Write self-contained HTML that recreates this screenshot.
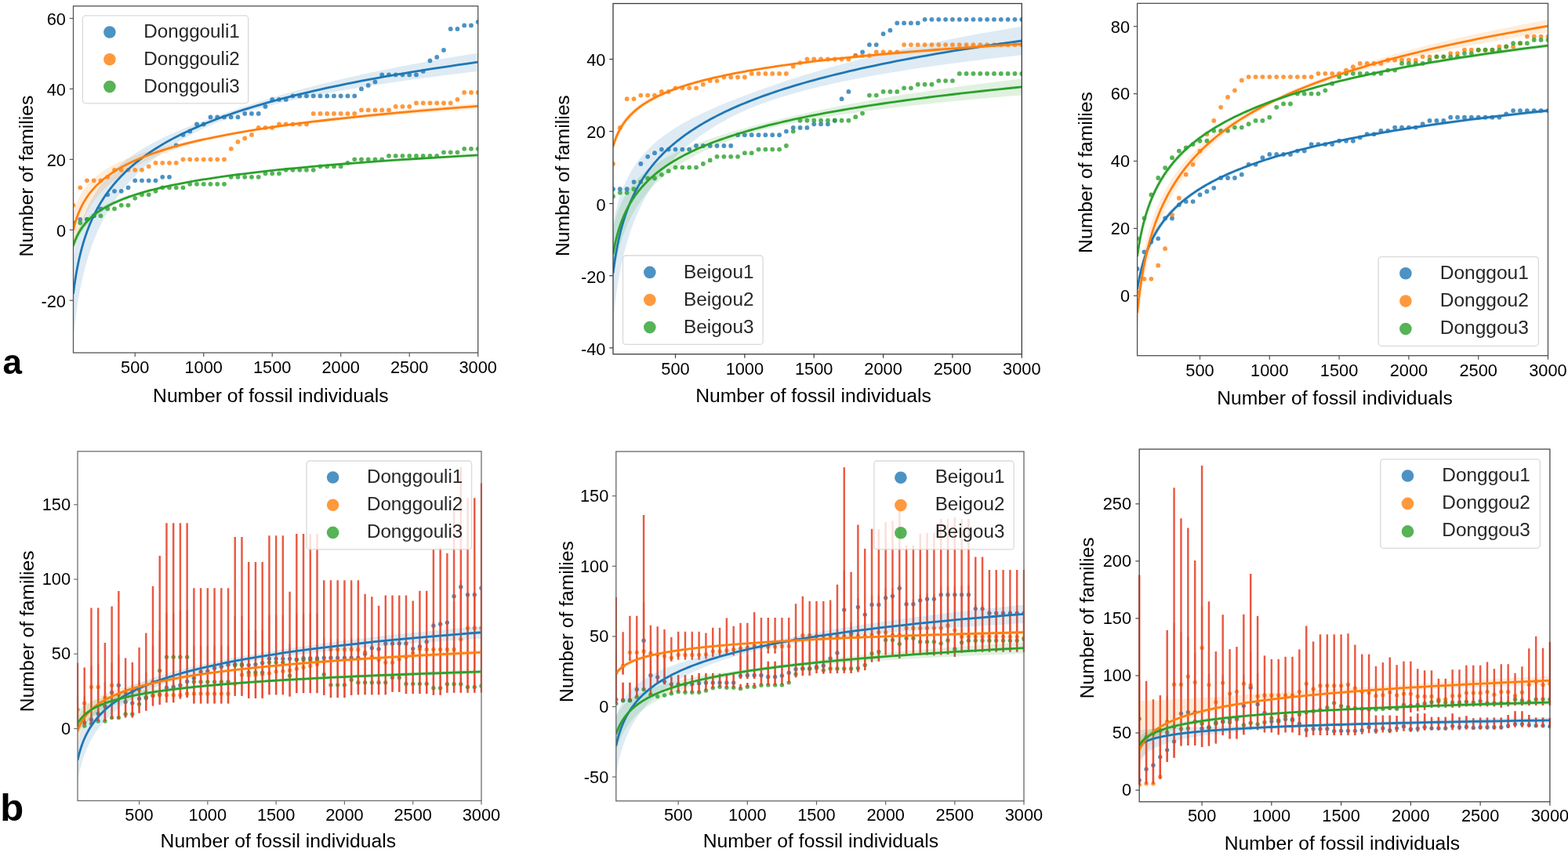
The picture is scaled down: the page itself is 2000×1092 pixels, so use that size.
<!DOCTYPE html>
<html lang="en">
<head>
<meta charset="utf-8">
<title>Number of families vs number of fossil individuals</title>
<style>html,body{margin:0;padding:0;background:#fff;}body{width:2000px;height:1092px;overflow:hidden;}svg{display:block;font-family:'Liberation Sans', Arial, Helvetica, sans-serif;}</style>
</head>
<body>

<svg width="2000" height="1092" viewBox="0 0 2000 1092">
<rect width="2000" height="1092" fill="#fff"/>
<g id="p1">
<clipPath id="clip_p1"><rect x="93.5" y="7.7" width="516.2" height="442.3"/></clipPath>
<clipPath id="clipm_p1"><rect x="93.5" y="7.7" width="516.8" height="442.3"/></clipPath>
<clipPath id="clipb_p1"><rect x="92.35" y="7.7" width="518.5" height="442.3"/></clipPath>
<g clip-path="url(#clipm_p1)">
<g fill="#1f77b4" fill-opacity="0.8"><circle cx="93.5" cy="284.31" r="2.9"/><circle cx="102.25" cy="279.81" r="2.9"/><circle cx="111" cy="279.81" r="2.9"/><circle cx="119.75" cy="275.31" r="2.9"/><circle cx="128.5" cy="266.32" r="2.9"/><circle cx="137.25" cy="248.33" r="2.9"/><circle cx="145.99" cy="243.83" r="2.9"/><circle cx="154.74" cy="243.83" r="2.9"/><circle cx="163.49" cy="239.34" r="2.9"/><circle cx="172.24" cy="230.34" r="2.9"/><circle cx="180.99" cy="230.34" r="2.9"/><circle cx="189.74" cy="230.34" r="2.9"/><circle cx="198.49" cy="230.34" r="2.9"/><circle cx="207.24" cy="225.85" r="2.9"/><circle cx="215.99" cy="225.85" r="2.9"/><circle cx="224.74" cy="185.37" r="2.9"/><circle cx="233.49" cy="171.88" r="2.9"/><circle cx="242.24" cy="167.38" r="2.9"/><circle cx="250.98" cy="158.39" r="2.9"/><circle cx="259.73" cy="158.39" r="2.9"/><circle cx="268.48" cy="149.4" r="2.9"/><circle cx="277.23" cy="149.4" r="2.9"/><circle cx="285.98" cy="149.4" r="2.9"/><circle cx="294.73" cy="149.4" r="2.9"/><circle cx="303.48" cy="149.4" r="2.9"/><circle cx="312.23" cy="144.9" r="2.9"/><circle cx="320.98" cy="144.9" r="2.9"/><circle cx="329.73" cy="144.9" r="2.9"/><circle cx="338.48" cy="135.91" r="2.9"/><circle cx="347.23" cy="126.91" r="2.9"/><circle cx="355.97" cy="126.91" r="2.9"/><circle cx="364.72" cy="126.91" r="2.9"/><circle cx="373.47" cy="122.41" r="2.9"/><circle cx="382.22" cy="122.41" r="2.9"/><circle cx="390.97" cy="122.41" r="2.9"/><circle cx="399.72" cy="122.41" r="2.9"/><circle cx="408.47" cy="122.41" r="2.9"/><circle cx="417.22" cy="122.41" r="2.9"/><circle cx="425.97" cy="122.41" r="2.9"/><circle cx="434.72" cy="122.41" r="2.9"/><circle cx="443.47" cy="122.41" r="2.9"/><circle cx="452.22" cy="122.41" r="2.9"/><circle cx="460.96" cy="113.42" r="2.9"/><circle cx="469.71" cy="108.92" r="2.9"/><circle cx="478.46" cy="104.43" r="2.9"/><circle cx="487.21" cy="95.43" r="2.9"/><circle cx="495.96" cy="95.43" r="2.9"/><circle cx="504.71" cy="95.43" r="2.9"/><circle cx="513.46" cy="95.43" r="2.9"/><circle cx="522.21" cy="95.43" r="2.9"/><circle cx="530.96" cy="95.43" r="2.9"/><circle cx="539.71" cy="90.94" r="2.9"/><circle cx="548.46" cy="77.44" r="2.9"/><circle cx="557.21" cy="72.95" r="2.9"/><circle cx="565.95" cy="63.95" r="2.9"/><circle cx="574.7" cy="36.97" r="2.9"/><circle cx="583.45" cy="36.97" r="2.9"/><circle cx="592.2" cy="32.47" r="2.9"/><circle cx="600.95" cy="32.47" r="2.9"/><circle cx="609.7" cy="27.98" r="2.9"/></g>
<path d="M93.5 329.37 L93.8 327.39 L94.12 325.42 L94.44 323.45 L94.78 321.47 L95.13 319.5 L95.49 317.53 L95.86 315.55 L96.25 313.58 L96.64 311.61 L97.06 309.63 L97.48 307.66 L97.93 305.69 L98.38 303.71 L98.86 301.74 L99.35 299.76 L99.85 297.79 L100.38 295.82 L100.92 293.84 L101.48 291.87 L102.06 289.89 L102.66 287.92 L103.28 285.95 L103.93 283.97 L104.59 282 L105.28 280.02 L105.99 278.05 L106.73 276.07 L107.49 274.1 L108.28 272.12 L109.1 270.15 L109.95 268.17 L110.82 266.2 L111.73 264.22 L112.66 262.25 L113.63 260.27 L114.63 258.3 L115.67 256.32 L116.74 254.34 L117.85 252.37 L119 250.39 L120.19 248.42 L121.42 246.44 L122.69 244.46 L124.01 242.48 L125.37 240.51 L126.78 238.53 L128.24 236.55 L129.75 234.57 L131.31 232.6 L132.93 230.62 L134.6 228.64 L136.33 226.66 L138.12 224.68 L139.98 222.7 L141.89 220.72 L143.88 218.74 L145.93 216.75 L148.05 214.77 L150.25 212.79 L152.52 210.81 L154.87 208.82 L157.31 206.84 L159.83 204.85 L162.43 202.86 L165.13 200.88 L167.92 198.89 L170.8 196.9 L173.79 194.9 L176.88 192.91 L180.08 190.91 L183.39 188.92 L186.81 186.92 L190.35 184.91 L194.02 182.91 L197.81 180.9 L201.74 178.89 L205.8 176.87 L210 174.84 L214.34 172.81 L218.84 170.78 L223.5 168.73 L228.31 166.67 L233.29 164.6 L238.45 162.51 L243.78 160.4 L249.3 158.27 L255.02 156.11 L260.93 153.91 L267.04 151.66 L273.37 149.36 L279.91 147.01 L286.69 144.59 L293.7 142.11 L300.95 139.59 L308.45 137.02 L316.22 134.42 L324.25 131.79 L332.56 129.12 L341.16 126.43 L350.06 123.71 L359.27 120.98 L368.8 118.23 L378.66 115.47 L388.86 112.69 L399.42 109.91 L410.34 107.11 L421.64 104.31 L433.33 101.51 L445.43 98.69 L457.95 95.88 L470.9 93.06 L484.3 90.23 L498.17 87.41 L512.52 84.58 L527.37 81.74 L542.73 78.91 L558.63 76.07 L575.07 73.23 L592.09 70.39 L609.7 67.55 L609.7 90.91 L592.09 93 L575.07 95.08 L558.63 97.17 L542.73 99.26 L527.37 101.35 L512.52 103.44 L498.17 105.54 L484.3 107.64 L470.9 109.74 L457.95 111.84 L445.43 113.95 L433.33 116.06 L421.64 118.18 L410.34 120.31 L399.42 122.44 L388.86 124.58 L378.66 126.73 L368.8 128.89 L359.27 131.07 L350.06 133.26 L341.16 135.47 L332.56 137.7 L324.25 139.96 L316.22 142.25 L308.45 144.57 L300.95 146.93 L293.7 149.34 L286.69 152.68 L279.91 155.2 L273.37 157.8 L267.04 160.47 L260.93 163.2 L255.02 165.99 L249.3 168.83 L243.78 171.7 L238.45 174.61 L233.29 177.54 L228.31 180.49 L223.5 183.46 L218.84 186.44 L214.34 189.44 L210 192.44 L205.8 195.45 L201.74 198.47 L197.81 201.49 L194.02 204.52 L190.35 207.56 L186.81 210.59 L183.39 213.63 L180.08 216.68 L176.88 219.73 L173.79 222.77 L170.8 225.82 L167.92 228.88 L165.13 231.93 L162.43 234.99 L159.83 238.05 L157.31 241.1 L154.87 244.16 L152.52 247.22 L150.25 250.29 L148.05 253.35 L145.93 256.41 L143.88 259.47 L141.89 262.54 L139.98 265.6 L138.12 268.67 L136.33 271.74 L134.6 274.8 L132.93 277.87 L131.31 280.94 L129.75 284 L128.24 287.07 L126.78 290.14 L125.37 293.21 L124.01 296.28 L122.69 299.35 L121.42 302.42 L120.19 305.49 L119 308.56 L117.85 311.63 L116.74 314.7 L115.67 317.77 L114.63 320.84 L113.63 323.91 L112.66 326.99 L111.73 330.06 L110.82 333.13 L109.95 336.2 L109.1 339.27 L108.28 342.35 L107.49 345.42 L106.73 348.49 L105.99 351.56 L105.28 354.64 L104.59 357.71 L103.93 360.78 L103.28 363.85 L102.66 366.93 L102.06 370 L101.48 373.07 L100.92 376.15 L100.38 379.22 L99.85 382.29 L99.35 385.37 L98.86 388.44 L98.38 391.52 L97.93 394.59 L97.48 397.66 L97.06 400.74 L96.64 403.81 L96.25 406.88 L95.86 409.96 L95.49 413.03 L95.13 416.11 L94.78 419.18 L94.44 422.26 L94.12 425.33 L93.8 428.4 L93.5 431.48Z" fill="#1f77b4" fill-opacity="0.15"/>
<g fill="#ff7f0e" fill-opacity="0.8"><circle cx="93.5" cy="261.82" r="2.9"/><circle cx="102.25" cy="239.34" r="2.9"/><circle cx="111" cy="230.34" r="2.9"/><circle cx="119.75" cy="230.34" r="2.9"/><circle cx="128.5" cy="230.34" r="2.9"/><circle cx="137.25" cy="225.85" r="2.9"/><circle cx="145.99" cy="216.85" r="2.9"/><circle cx="154.74" cy="216.85" r="2.9"/><circle cx="163.49" cy="216.85" r="2.9"/><circle cx="172.24" cy="216.85" r="2.9"/><circle cx="180.99" cy="216.85" r="2.9"/><circle cx="189.74" cy="212.35" r="2.9"/><circle cx="198.49" cy="207.86" r="2.9"/><circle cx="207.24" cy="207.86" r="2.9"/><circle cx="215.99" cy="207.86" r="2.9"/><circle cx="224.74" cy="207.86" r="2.9"/><circle cx="233.49" cy="203.36" r="2.9"/><circle cx="242.24" cy="203.36" r="2.9"/><circle cx="250.98" cy="203.36" r="2.9"/><circle cx="259.73" cy="203.36" r="2.9"/><circle cx="268.48" cy="203.36" r="2.9"/><circle cx="277.23" cy="203.36" r="2.9"/><circle cx="285.98" cy="203.36" r="2.9"/><circle cx="294.73" cy="189.87" r="2.9"/><circle cx="303.48" cy="180.88" r="2.9"/><circle cx="312.23" cy="176.38" r="2.9"/><circle cx="320.98" cy="171.88" r="2.9"/><circle cx="329.73" cy="162.89" r="2.9"/><circle cx="338.48" cy="162.89" r="2.9"/><circle cx="347.23" cy="162.89" r="2.9"/><circle cx="355.97" cy="158.39" r="2.9"/><circle cx="364.72" cy="158.39" r="2.9"/><circle cx="373.47" cy="158.39" r="2.9"/><circle cx="382.22" cy="158.39" r="2.9"/><circle cx="390.97" cy="158.39" r="2.9"/><circle cx="399.72" cy="144.9" r="2.9"/><circle cx="408.47" cy="144.9" r="2.9"/><circle cx="417.22" cy="144.9" r="2.9"/><circle cx="425.97" cy="144.9" r="2.9"/><circle cx="434.72" cy="144.9" r="2.9"/><circle cx="443.47" cy="144.9" r="2.9"/><circle cx="452.22" cy="144.9" r="2.9"/><circle cx="460.96" cy="140.4" r="2.9"/><circle cx="469.71" cy="140.4" r="2.9"/><circle cx="478.46" cy="140.4" r="2.9"/><circle cx="487.21" cy="140.4" r="2.9"/><circle cx="495.96" cy="140.4" r="2.9"/><circle cx="504.71" cy="135.91" r="2.9"/><circle cx="513.46" cy="135.91" r="2.9"/><circle cx="522.21" cy="135.91" r="2.9"/><circle cx="530.96" cy="131.41" r="2.9"/><circle cx="539.71" cy="131.41" r="2.9"/><circle cx="548.46" cy="131.41" r="2.9"/><circle cx="557.21" cy="131.41" r="2.9"/><circle cx="565.95" cy="131.41" r="2.9"/><circle cx="574.7" cy="131.41" r="2.9"/><circle cx="583.45" cy="126.91" r="2.9"/><circle cx="592.2" cy="117.92" r="2.9"/><circle cx="600.95" cy="117.92" r="2.9"/><circle cx="609.7" cy="117.92" r="2.9"/></g>
<path d="M93.5 271.12 L93.8 270.04 L94.12 268.97 L94.44 267.9 L94.78 266.82 L95.13 265.75 L95.49 264.67 L95.86 263.6 L96.25 262.52 L96.64 261.45 L97.06 260.37 L97.48 259.3 L97.93 258.22 L98.38 257.15 L98.86 256.08 L99.35 255 L99.85 253.93 L100.38 252.85 L100.92 251.78 L101.48 250.7 L102.06 249.63 L102.66 248.55 L103.28 247.48 L103.93 246.4 L104.59 245.33 L105.28 244.25 L105.99 243.18 L106.73 242.1 L107.49 241.03 L108.28 239.95 L109.1 238.88 L109.95 237.8 L110.82 236.73 L111.73 235.65 L112.66 234.58 L113.63 233.5 L114.63 232.43 L115.67 231.35 L116.74 230.28 L117.85 229.2 L119 228.13 L120.19 227.05 L121.42 225.98 L122.69 224.9 L124.01 223.82 L125.37 222.75 L126.78 221.67 L128.24 220.6 L129.75 219.52 L131.31 218.45 L132.93 217.37 L134.6 216.29 L136.33 215.22 L138.12 214.14 L139.98 213.06 L141.89 211.99 L143.88 210.91 L145.93 209.83 L148.05 208.76 L150.25 207.68 L152.52 206.6 L154.87 205.52 L157.31 204.45 L159.83 203.37 L162.43 202.29 L165.13 201.21 L167.92 200.13 L170.8 199.05 L173.79 197.97 L176.88 196.89 L180.08 195.81 L183.39 194.73 L186.81 193.65 L190.35 192.56 L194.02 191.48 L197.81 190.39 L201.74 189.31 L205.8 188.22 L210 187.13 L214.34 186.04 L218.84 184.94 L223.5 183.85 L228.31 182.75 L233.29 181.64 L238.45 180.53 L243.78 179.41 L249.3 178.28 L255.02 177.13 L260.93 175.97 L267.04 174.79 L273.37 173.57 L279.91 172.32 L286.69 171.03 L293.7 169.71 L300.95 168.37 L308.45 167.03 L316.22 165.67 L324.25 164.31 L332.56 162.94 L341.16 161.55 L350.06 160.17 L359.27 158.77 L368.8 157.37 L378.66 155.97 L388.86 154.56 L399.42 153.15 L410.34 151.74 L421.64 150.32 L433.33 148.9 L445.43 147.48 L457.95 146.06 L470.9 144.63 L484.3 143.2 L498.17 141.78 L512.52 140.35 L527.37 138.92 L542.73 137.49 L558.63 136.06 L575.07 134.62 L592.09 133.19 L609.7 131.76 L609.7 139.11 L592.09 140.32 L575.07 141.52 L558.63 142.73 L542.73 143.94 L527.37 145.15 L512.52 146.35 L498.17 147.56 L484.3 148.78 L470.9 149.99 L457.95 151.2 L445.43 152.42 L433.33 153.64 L421.64 154.86 L410.34 156.08 L399.42 157.3 L388.86 158.53 L378.66 159.76 L368.8 161 L359.27 162.24 L350.06 163.48 L341.16 164.73 L332.56 165.99 L324.25 167.26 L316.22 168.53 L308.45 169.82 L300.95 171.11 L293.7 172.41 L286.69 174.14 L279.91 175.49 L273.37 176.9 L267.04 178.36 L260.93 179.86 L255.02 181.38 L249.3 182.93 L243.78 184.49 L238.45 186.07 L233.29 187.66 L228.31 189.26 L223.5 190.86 L218.84 192.47 L214.34 194.08 L210 195.7 L205.8 197.31 L201.74 198.94 L197.81 200.56 L194.02 202.18 L190.35 203.81 L186.81 205.43 L183.39 207.06 L180.08 208.69 L176.88 210.32 L173.79 211.95 L170.8 213.58 L167.92 215.21 L165.13 216.85 L162.43 218.48 L159.83 220.11 L157.31 221.75 L154.87 223.38 L152.52 225.01 L150.25 226.65 L148.05 228.28 L145.93 229.92 L143.88 231.55 L141.89 233.19 L139.98 234.82 L138.12 236.46 L136.33 238.09 L134.6 239.73 L132.93 241.37 L131.31 243 L129.75 244.64 L128.24 246.27 L126.78 247.91 L125.37 249.55 L124.01 251.18 L122.69 252.82 L121.42 254.46 L120.19 256.09 L119 257.73 L117.85 259.37 L116.74 261 L115.67 262.64 L114.63 264.28 L113.63 265.92 L112.66 267.55 L111.73 269.19 L110.82 270.83 L109.95 272.46 L109.1 274.1 L108.28 275.74 L107.49 277.38 L106.73 279.01 L105.99 280.65 L105.28 282.29 L104.59 283.93 L103.93 285.57 L103.28 287.2 L102.66 288.84 L102.06 290.48 L101.48 292.12 L100.92 293.75 L100.38 295.39 L99.85 297.03 L99.35 298.67 L98.86 300.31 L98.38 301.94 L97.93 303.58 L97.48 305.22 L97.06 306.86 L96.64 308.5 L96.25 310.13 L95.86 311.77 L95.49 313.41 L95.13 315.05 L94.78 316.69 L94.44 318.32 L94.12 319.96 L93.8 321.6 L93.5 323.24Z" fill="#ff7f0e" fill-opacity="0.15"/>
<g fill="#2ca02c" fill-opacity="0.8"><circle cx="93.5" cy="284.31" r="2.9"/><circle cx="102.25" cy="284.31" r="2.9"/><circle cx="111" cy="279.81" r="2.9"/><circle cx="119.75" cy="275.31" r="2.9"/><circle cx="128.5" cy="275.31" r="2.9"/><circle cx="137.25" cy="266.32" r="2.9"/><circle cx="145.99" cy="266.32" r="2.9"/><circle cx="154.74" cy="261.82" r="2.9"/><circle cx="163.49" cy="261.82" r="2.9"/><circle cx="172.24" cy="252.83" r="2.9"/><circle cx="180.99" cy="248.33" r="2.9"/><circle cx="189.74" cy="248.33" r="2.9"/><circle cx="198.49" cy="243.83" r="2.9"/><circle cx="207.24" cy="239.34" r="2.9"/><circle cx="215.99" cy="239.34" r="2.9"/><circle cx="224.74" cy="239.34" r="2.9"/><circle cx="233.49" cy="239.34" r="2.9"/><circle cx="242.24" cy="234.84" r="2.9"/><circle cx="250.98" cy="234.84" r="2.9"/><circle cx="259.73" cy="234.84" r="2.9"/><circle cx="268.48" cy="234.84" r="2.9"/><circle cx="277.23" cy="234.84" r="2.9"/><circle cx="285.98" cy="234.84" r="2.9"/><circle cx="294.73" cy="225.85" r="2.9"/><circle cx="303.48" cy="225.85" r="2.9"/><circle cx="312.23" cy="225.85" r="2.9"/><circle cx="320.98" cy="225.85" r="2.9"/><circle cx="329.73" cy="225.85" r="2.9"/><circle cx="338.48" cy="221.35" r="2.9"/><circle cx="347.23" cy="221.35" r="2.9"/><circle cx="355.97" cy="221.35" r="2.9"/><circle cx="364.72" cy="216.85" r="2.9"/><circle cx="373.47" cy="216.85" r="2.9"/><circle cx="382.22" cy="216.85" r="2.9"/><circle cx="390.97" cy="216.85" r="2.9"/><circle cx="399.72" cy="216.85" r="2.9"/><circle cx="408.47" cy="212.35" r="2.9"/><circle cx="417.22" cy="212.35" r="2.9"/><circle cx="425.97" cy="212.35" r="2.9"/><circle cx="434.72" cy="212.35" r="2.9"/><circle cx="443.47" cy="207.86" r="2.9"/><circle cx="452.22" cy="203.36" r="2.9"/><circle cx="460.96" cy="203.36" r="2.9"/><circle cx="469.71" cy="203.36" r="2.9"/><circle cx="478.46" cy="203.36" r="2.9"/><circle cx="487.21" cy="203.36" r="2.9"/><circle cx="495.96" cy="198.86" r="2.9"/><circle cx="504.71" cy="198.86" r="2.9"/><circle cx="513.46" cy="198.86" r="2.9"/><circle cx="522.21" cy="198.86" r="2.9"/><circle cx="530.96" cy="198.86" r="2.9"/><circle cx="539.71" cy="198.86" r="2.9"/><circle cx="548.46" cy="198.86" r="2.9"/><circle cx="557.21" cy="198.86" r="2.9"/><circle cx="565.95" cy="194.37" r="2.9"/><circle cx="574.7" cy="194.37" r="2.9"/><circle cx="583.45" cy="194.37" r="2.9"/><circle cx="592.2" cy="189.87" r="2.9"/><circle cx="600.95" cy="189.87" r="2.9"/><circle cx="609.7" cy="189.87" r="2.9"/></g>
<path d="M93.5 306.45 L93.8 305.56 L94.12 304.67 L94.44 303.79 L94.78 302.9 L95.13 302.01 L95.49 301.12 L95.86 300.24 L96.25 299.35 L96.64 298.46 L97.06 297.57 L97.48 296.69 L97.93 295.8 L98.38 294.91 L98.86 294.03 L99.35 293.14 L99.85 292.25 L100.38 291.36 L100.92 290.48 L101.48 289.59 L102.06 288.7 L102.66 287.81 L103.28 286.93 L103.93 286.04 L104.59 285.15 L105.28 284.26 L105.99 283.38 L106.73 282.49 L107.49 281.6 L108.28 280.71 L109.1 279.83 L109.95 278.94 L110.82 278.05 L111.73 277.16 L112.66 276.28 L113.63 275.39 L114.63 274.5 L115.67 273.61 L116.74 272.72 L117.85 271.84 L119 270.95 L120.19 270.06 L121.42 269.17 L122.69 268.28 L124.01 267.4 L125.37 266.51 L126.78 265.62 L128.24 264.73 L129.75 263.84 L131.31 262.95 L132.93 262.07 L134.6 261.18 L136.33 260.29 L138.12 259.4 L139.98 258.51 L141.89 257.62 L143.88 256.73 L145.93 255.84 L148.05 254.96 L150.25 254.07 L152.52 253.18 L154.87 252.29 L157.31 251.4 L159.83 250.51 L162.43 249.62 L165.13 248.73 L167.92 247.84 L170.8 246.94 L173.79 246.05 L176.88 245.16 L180.08 244.27 L183.39 243.38 L186.81 242.48 L190.35 241.59 L194.02 240.7 L197.81 239.8 L201.74 238.91 L205.8 238.01 L210 237.11 L214.34 236.21 L218.84 235.31 L223.5 234.41 L228.31 233.5 L233.29 232.6 L238.45 231.69 L243.78 230.77 L249.3 229.86 L255.02 228.94 L260.93 228.01 L267.04 227.07 L273.37 226.13 L279.91 225.18 L286.69 224.22 L293.7 223.26 L300.95 222.29 L308.45 221.32 L316.22 220.35 L324.25 219.37 L332.56 218.39 L341.16 217.41 L350.06 216.42 L359.27 215.44 L368.8 214.45 L378.66 213.46 L388.86 212.47 L399.42 211.47 L410.34 210.48 L421.64 209.48 L433.33 208.49 L445.43 207.49 L457.95 206.49 L470.9 205.49 L484.3 204.49 L498.17 203.49 L512.52 202.49 L527.37 201.49 L542.73 200.48 L558.63 199.48 L575.07 198.48 L592.09 197.47 L609.7 196.47 L609.7 199.37 L592.09 200.29 L575.07 201.21 L558.63 202.14 L542.73 203.06 L527.37 203.99 L512.52 204.91 L498.17 205.84 L484.3 206.76 L470.9 207.69 L457.95 208.62 L445.43 209.55 L433.33 210.48 L421.64 211.41 L410.34 212.34 L399.42 213.27 L388.86 214.2 L378.66 215.14 L368.8 216.08 L359.27 217.01 L350.06 217.96 L341.16 218.9 L332.56 219.84 L324.25 220.79 L316.22 221.74 L308.45 222.7 L300.95 223.65 L293.7 224.61 L286.69 225.57 L279.91 226.54 L273.37 227.52 L267.04 228.51 L260.93 229.5 L255.02 230.5 L249.3 231.5 L243.78 232.51 L238.45 233.53 L233.29 234.54 L228.31 235.56 L223.5 236.59 L218.84 237.61 L214.34 238.64 L210 239.67 L205.8 240.7 L201.74 241.73 L197.81 242.76 L194.02 243.79 L190.35 244.82 L186.81 245.86 L183.39 246.89 L180.08 247.93 L176.88 248.96 L173.79 250 L170.8 251.03 L167.92 252.07 L165.13 253.1 L162.43 254.14 L159.83 255.18 L157.31 256.21 L154.87 257.25 L152.52 258.29 L150.25 259.33 L148.05 260.37 L145.93 261.4 L143.88 262.44 L141.89 263.48 L139.98 264.52 L138.12 265.56 L136.33 266.59 L134.6 267.63 L132.93 268.67 L131.31 269.71 L129.75 270.75 L128.24 271.79 L126.78 272.83 L125.37 273.87 L124.01 274.9 L122.69 275.94 L121.42 276.98 L120.19 278.02 L119 279.06 L117.85 280.1 L116.74 281.14 L115.67 282.18 L114.63 283.22 L113.63 284.26 L112.66 285.3 L111.73 286.34 L110.82 287.38 L109.95 288.42 L109.1 289.46 L108.28 290.49 L107.49 291.53 L106.73 292.57 L105.99 293.61 L105.28 294.65 L104.59 295.69 L103.93 296.73 L103.28 297.77 L102.66 298.81 L102.06 299.85 L101.48 300.89 L100.92 301.93 L100.38 302.97 L99.85 304.01 L99.35 305.05 L98.86 306.09 L98.38 307.13 L97.93 308.17 L97.48 309.21 L97.06 310.25 L96.64 311.29 L96.25 312.33 L95.86 313.37 L95.49 314.41 L95.13 315.45 L94.78 316.49 L94.44 317.53 L94.12 318.57 L93.8 319.61 L93.5 320.65Z" fill="#2ca02c" fill-opacity="0.15"/>
<path d="M93.5 374.75 L93.73 372.9 L93.96 371.06 L94.2 369.21 L94.44 367.36 L94.69 365.51 L94.95 363.67 L95.22 361.82 L95.49 359.97 L95.77 358.13 L96.05 356.28 L96.34 354.43 L96.64 352.59 L96.95 350.74 L97.27 348.89 L97.59 347.05 L97.93 345.2 L98.27 343.35 L98.62 341.5 L98.98 339.66 L99.35 337.81 L99.73 335.96 L100.11 334.12 L100.51 332.27 L100.92 330.42 L101.34 328.58 L101.77 326.73 L102.21 324.88 L102.66 323.03 L103.13 321.19 L103.6 319.34 L104.09 317.49 L104.59 315.65 L105.11 313.8 L105.64 311.95 L106.18 310.11 L106.73 308.26 L107.3 306.41 L107.89 304.56 L108.49 302.72 L109.1 300.87 L109.73 299.02 L110.38 297.18 L111.04 295.33 L111.73 293.48 L112.42 291.64 L113.14 289.79 L113.88 287.94 L114.63 286.09 L115.41 284.25 L116.2 282.4 L117.02 280.55 L117.85 278.71 L118.71 276.86 L119.59 275.01 L120.5 273.17 L121.42 271.32 L122.37 269.47 L123.35 267.62 L124.35 265.78 L125.37 263.93 L126.43 262.08 L127.51 260.24 L128.62 258.39 L129.75 256.54 L130.92 254.7 L132.12 252.85 L133.34 251 L134.6 249.16 L135.89 247.31 L137.22 245.46 L138.58 243.61 L139.98 241.77 L141.41 239.92 L142.88 238.07 L144.38 236.23 L145.93 234.38 L147.51 232.53 L149.14 230.69 L150.81 228.84 L152.52 226.99 L154.28 225.14 L156.08 223.3 L157.93 221.45 L159.83 219.6 L161.77 217.76 L163.77 215.91 L165.82 214.06 L167.92 212.22 L170.07 210.37 L172.28 208.52 L174.55 206.67 L176.88 204.83 L179.27 202.98 L181.72 201.13 L184.23 199.29 L186.81 197.44 L189.46 195.59 L192.17 193.75 L194.95 191.9 L197.81 190.05 L200.74 188.2 L203.75 186.36 L206.83 184.51 L210 182.66 L213.24 180.82 L216.57 178.97 L219.99 177.12 L223.5 175.28 L227.09 173.43 L230.78 171.58 L234.57 169.73 L238.45 167.89 L242.43 166.04 L246.52 164.19 L250.71 162.35 L255.02 160.5 L259.43 158.65 L263.96 156.81 L268.6 154.96 L273.37 153.11 L278.26 151.27 L283.27 149.42 L288.42 147.57 L293.7 145.72 L299.11 143.88 L304.67 142.03 L310.37 140.18 L316.22 138.34 L322.22 136.49 L328.37 134.64 L334.69 132.8 L341.16 130.95 L347.81 129.1 L354.63 127.25 L361.62 125.41 L368.8 123.56 L376.16 121.71 L383.72 119.87 L391.47 118.02 L399.42 116.17 L407.57 114.33 L415.94 112.48 L424.52 110.63 L433.33 108.78 L442.37 106.94 L451.64 105.09 L461.14 103.24 L470.9 101.4 L480.91 99.55 L491.18 97.7 L501.71 95.86 L512.52 94.01 L523.61 92.16 L534.98 90.31 L546.65 88.47 L558.63 86.62 L570.91 84.77 L583.51 82.93 L596.44 81.08 L609.7 79.23" fill="none" stroke="#1f77b4" stroke-width="2.8" stroke-linecap="butt" stroke-linejoin="round"/>
<path d="M93.5 293.78 L93.73 292.79 L93.96 291.8 L94.2 290.81 L94.44 289.82 L94.69 288.83 L94.95 287.84 L95.22 286.85 L95.49 285.86 L95.77 284.87 L96.05 283.88 L96.34 282.89 L96.64 281.9 L96.95 280.91 L97.27 279.92 L97.59 278.93 L97.93 277.94 L98.27 276.96 L98.62 275.97 L98.98 274.98 L99.35 273.99 L99.73 273 L100.11 272.01 L100.51 271.02 L100.92 270.03 L101.34 269.04 L101.77 268.05 L102.21 267.06 L102.66 266.07 L103.13 265.08 L103.6 264.09 L104.09 263.1 L104.59 262.11 L105.11 261.12 L105.64 260.13 L106.18 259.14 L106.73 258.15 L107.3 257.16 L107.89 256.17 L108.49 255.18 L109.1 254.19 L109.73 253.2 L110.38 252.21 L111.04 251.22 L111.73 250.23 L112.42 249.24 L113.14 248.26 L113.88 247.27 L114.63 246.28 L115.41 245.29 L116.2 244.3 L117.02 243.31 L117.85 242.32 L118.71 241.33 L119.59 240.34 L120.5 239.35 L121.42 238.36 L122.37 237.37 L123.35 236.38 L124.35 235.39 L125.37 234.4 L126.43 233.41 L127.51 232.42 L128.62 231.43 L129.75 230.44 L130.92 229.45 L132.12 228.46 L133.34 227.47 L134.6 226.48 L135.89 225.49 L137.22 224.5 L138.58 223.51 L139.98 222.52 L141.41 221.53 L142.88 220.54 L144.38 219.55 L145.93 218.57 L147.51 217.58 L149.14 216.59 L150.81 215.6 L152.52 214.61 L154.28 213.62 L156.08 212.63 L157.93 211.64 L159.83 210.65 L161.77 209.66 L163.77 208.67 L165.82 207.68 L167.92 206.69 L170.07 205.7 L172.28 204.71 L174.55 203.72 L176.88 202.73 L179.27 201.74 L181.72 200.75 L184.23 199.76 L186.81 198.77 L189.46 197.78 L192.17 196.79 L194.95 195.8 L197.81 194.81 L200.74 193.82 L203.75 192.83 L206.83 191.84 L210 190.85 L213.24 189.87 L216.57 188.88 L219.99 187.89 L223.5 186.9 L227.09 185.91 L230.78 184.92 L234.57 183.93 L238.45 182.94 L242.43 181.95 L246.52 180.96 L250.71 179.97 L255.02 178.98 L259.43 177.99 L263.96 177 L268.6 176.01 L273.37 175.02 L278.26 174.03 L283.27 173.04 L288.42 172.05 L293.7 171.06 L299.11 170.07 L304.67 169.08 L310.37 168.09 L316.22 167.1 L322.22 166.11 L328.37 165.12 L334.69 164.13 L341.16 163.14 L347.81 162.15 L354.63 161.17 L361.62 160.18 L368.8 159.19 L376.16 158.2 L383.72 157.21 L391.47 156.22 L399.42 155.23 L407.57 154.24 L415.94 153.25 L424.52 152.26 L433.33 151.27 L442.37 150.28 L451.64 149.29 L461.14 148.3 L470.9 147.31 L480.91 146.32 L491.18 145.33 L501.71 144.34 L512.52 143.35 L523.61 142.36 L534.98 141.37 L546.65 140.38 L558.63 139.39 L570.91 138.4 L583.51 137.41 L596.44 136.42 L609.7 135.43" fill="none" stroke="#ff7f0e" stroke-width="2.8" stroke-linecap="butt" stroke-linejoin="round"/>
<path d="M93.5 313.55 L93.73 312.83 L93.96 312.1 L94.2 311.38 L94.44 310.66 L94.69 309.93 L94.95 309.21 L95.22 308.49 L95.49 307.77 L95.77 307.04 L96.05 306.32 L96.34 305.6 L96.64 304.88 L96.95 304.15 L97.27 303.43 L97.59 302.71 L97.93 301.98 L98.27 301.26 L98.62 300.54 L98.98 299.82 L99.35 299.09 L99.73 298.37 L100.11 297.65 L100.51 296.93 L100.92 296.2 L101.34 295.48 L101.77 294.76 L102.21 294.04 L102.66 293.31 L103.13 292.59 L103.6 291.87 L104.09 291.14 L104.59 290.42 L105.11 289.7 L105.64 288.98 L106.18 288.25 L106.73 287.53 L107.3 286.81 L107.89 286.09 L108.49 285.36 L109.1 284.64 L109.73 283.92 L110.38 283.2 L111.04 282.47 L111.73 281.75 L112.42 281.03 L113.14 280.3 L113.88 279.58 L114.63 278.86 L115.41 278.14 L116.2 277.41 L117.02 276.69 L117.85 275.97 L118.71 275.25 L119.59 274.52 L120.5 273.8 L121.42 273.08 L122.37 272.35 L123.35 271.63 L124.35 270.91 L125.37 270.19 L126.43 269.46 L127.51 268.74 L128.62 268.02 L129.75 267.3 L130.92 266.57 L132.12 265.85 L133.34 265.13 L134.6 264.41 L135.89 263.68 L137.22 262.96 L138.58 262.24 L139.98 261.51 L141.41 260.79 L142.88 260.07 L144.38 259.35 L145.93 258.62 L147.51 257.9 L149.14 257.18 L150.81 256.46 L152.52 255.73 L154.28 255.01 L156.08 254.29 L157.93 253.57 L159.83 252.84 L161.77 252.12 L163.77 251.4 L165.82 250.67 L167.92 249.95 L170.07 249.23 L172.28 248.51 L174.55 247.78 L176.88 247.06 L179.27 246.34 L181.72 245.62 L184.23 244.89 L186.81 244.17 L189.46 243.45 L192.17 242.72 L194.95 242 L197.81 241.28 L200.74 240.56 L203.75 239.83 L206.83 239.11 L210 238.39 L213.24 237.67 L216.57 236.94 L219.99 236.22 L223.5 235.5 L227.09 234.78 L230.78 234.05 L234.57 233.33 L238.45 232.61 L242.43 231.88 L246.52 231.16 L250.71 230.44 L255.02 229.72 L259.43 228.99 L263.96 228.27 L268.6 227.55 L273.37 226.83 L278.26 226.1 L283.27 225.38 L288.42 224.66 L293.7 223.94 L299.11 223.21 L304.67 222.49 L310.37 221.77 L316.22 221.04 L322.22 220.32 L328.37 219.6 L334.69 218.88 L341.16 218.15 L347.81 217.43 L354.63 216.71 L361.62 215.99 L368.8 215.26 L376.16 214.54 L383.72 213.82 L391.47 213.09 L399.42 212.37 L407.57 211.65 L415.94 210.93 L424.52 210.2 L433.33 209.48 L442.37 208.76 L451.64 208.04 L461.14 207.31 L470.9 206.59 L480.91 205.87 L491.18 205.15 L501.71 204.42 L512.52 203.7 L523.61 202.98 L534.98 202.25 L546.65 201.53 L558.63 200.81 L570.91 200.09 L583.51 199.36 L596.44 198.64 L609.7 197.92" fill="none" stroke="#2ca02c" stroke-width="2.8" stroke-linecap="butt" stroke-linejoin="round"/>
</g>
<rect x="93.5" y="7.7" width="516.2" height="442.3" fill="none" stroke="#555555" stroke-width="1.3"/>
<g stroke="#555555" stroke-width="1.2"><path d="M172.24 450v5"/><path d="M259.73 450v5"/><path d="M347.23 450v5"/><path d="M434.72 450v5"/><path d="M522.21 450v5"/><path d="M609.7 450v5"/><path d="M93.5 383.24h-4.8"/><path d="M93.5 293.3h-4.8"/><path d="M93.5 203.36h-4.8"/><path d="M93.5 113.42h-4.8"/><path d="M93.5 23.48h-4.8"/></g>
<g font-size="21.8" fill="#000"><text x="172.24" y="475.7" text-anchor="middle">500</text><text x="259.73" y="475.7" text-anchor="middle">1000</text><text x="347.23" y="475.7" text-anchor="middle">1500</text><text x="434.72" y="475.7" text-anchor="middle">2000</text><text x="522.21" y="475.7" text-anchor="middle">2500</text><text x="609.7" y="475.7" text-anchor="middle">3000</text><text x="84" y="391.54" text-anchor="end">-20</text><text x="84" y="301.6" text-anchor="end">0</text><text x="84" y="211.66" text-anchor="end">20</text><text x="84" y="121.72" text-anchor="end">40</text><text x="84" y="31.78" text-anchor="end">60</text></g>
<text x="345.3" y="513.1" font-size="24.7" text-anchor="middle" fill="#000">Number of fossil individuals</text>
<text transform="translate(42.1 224.5) rotate(-90)" font-size="24.7" text-anchor="middle" fill="#000">Number of families</text>
<rect x="105.4" y="19.95" width="211.3" height="112" rx="4" ry="4" fill="#fff" fill-opacity="0.8" stroke="#d0d0d0" stroke-opacity="0.8" stroke-width="1.3"/>
<circle cx="139.9" cy="41" r="7.8" fill="#1f77b4" fill-opacity="0.8"/>
<text x="183.34" y="47.9" font-size="24.2" fill="#262626">Donggouli1</text>
<circle cx="139.9" cy="75.7" r="7.8" fill="#ff7f0e" fill-opacity="0.8"/>
<text x="183.34" y="82.8" font-size="24.2" fill="#262626">Donggouli2</text>
<circle cx="139.9" cy="110.6" r="7.8" fill="#2ca02c" fill-opacity="0.8"/>
<text x="183.34" y="117.6" font-size="24.2" fill="#262626">Donggouli3</text>
</g>
<g id="p2">
<clipPath id="clip_p2"><rect x="782" y="4.5" width="521.3" height="447.3"/></clipPath>
<clipPath id="clipm_p2"><rect x="782" y="4.5" width="521.9" height="447.3"/></clipPath>
<clipPath id="clipb_p2"><rect x="780.85" y="4.5" width="523.6" height="447.3"/></clipPath>
<g clip-path="url(#clipm_p2)">
<g fill="#1f77b4" fill-opacity="0.8"><circle cx="782" cy="241.23" r="2.9"/><circle cx="790.84" cy="241.23" r="2.9"/><circle cx="799.67" cy="241.23" r="2.9"/><circle cx="808.51" cy="232.03" r="2.9"/><circle cx="817.34" cy="209.01" r="2.9"/><circle cx="826.18" cy="199.8" r="2.9"/><circle cx="835.01" cy="195.19" r="2.9"/><circle cx="843.85" cy="190.59" r="2.9"/><circle cx="852.68" cy="190.59" r="2.9"/><circle cx="861.52" cy="190.59" r="2.9"/><circle cx="870.36" cy="190.59" r="2.9"/><circle cx="879.19" cy="190.59" r="2.9"/><circle cx="888.03" cy="185.99" r="2.9"/><circle cx="896.86" cy="185.99" r="2.9"/><circle cx="905.7" cy="185.99" r="2.9"/><circle cx="914.53" cy="185.99" r="2.9"/><circle cx="923.37" cy="185.99" r="2.9"/><circle cx="932.21" cy="185.99" r="2.9"/><circle cx="941.04" cy="172.17" r="2.9"/><circle cx="949.88" cy="172.17" r="2.9"/><circle cx="958.71" cy="172.17" r="2.9"/><circle cx="967.55" cy="172.17" r="2.9"/><circle cx="976.38" cy="172.17" r="2.9"/><circle cx="985.22" cy="172.17" r="2.9"/><circle cx="994.05" cy="172.17" r="2.9"/><circle cx="1002.89" cy="167.57" r="2.9"/><circle cx="1011.73" cy="162.97" r="2.9"/><circle cx="1020.56" cy="162.97" r="2.9"/><circle cx="1029.4" cy="162.97" r="2.9"/><circle cx="1038.23" cy="158.36" r="2.9"/><circle cx="1047.07" cy="158.36" r="2.9"/><circle cx="1055.9" cy="158.36" r="2.9"/><circle cx="1064.74" cy="153.76" r="2.9"/><circle cx="1073.57" cy="126.13" r="2.9"/><circle cx="1082.41" cy="116.93" r="2.9"/><circle cx="1091.25" cy="70.89" r="2.9"/><circle cx="1100.08" cy="66.28" r="2.9"/><circle cx="1108.92" cy="57.07" r="2.9"/><circle cx="1117.75" cy="57.07" r="2.9"/><circle cx="1126.59" cy="43.26" r="2.9"/><circle cx="1135.42" cy="38.66" r="2.9"/><circle cx="1144.26" cy="29.45" r="2.9"/><circle cx="1153.09" cy="29.45" r="2.9"/><circle cx="1161.93" cy="29.45" r="2.9"/><circle cx="1170.77" cy="29.45" r="2.9"/><circle cx="1179.6" cy="24.85" r="2.9"/><circle cx="1188.44" cy="24.85" r="2.9"/><circle cx="1197.27" cy="24.85" r="2.9"/><circle cx="1206.11" cy="24.85" r="2.9"/><circle cx="1214.94" cy="24.85" r="2.9"/><circle cx="1223.78" cy="24.85" r="2.9"/><circle cx="1232.62" cy="24.85" r="2.9"/><circle cx="1241.45" cy="24.85" r="2.9"/><circle cx="1250.29" cy="24.85" r="2.9"/><circle cx="1259.12" cy="24.85" r="2.9"/><circle cx="1267.96" cy="24.85" r="2.9"/><circle cx="1276.79" cy="24.85" r="2.9"/><circle cx="1285.63" cy="24.85" r="2.9"/><circle cx="1294.46" cy="24.85" r="2.9"/><circle cx="1303.3" cy="24.85" r="2.9"/></g>
<path d="M782 287.04 L782.31 285.22 L782.62 283.4 L782.95 281.58 L783.29 279.76 L783.64 277.95 L784.01 276.13 L784.38 274.31 L784.77 272.49 L785.18 270.67 L785.59 268.85 L786.02 267.02 L786.47 265.2 L786.93 263.38 L787.41 261.56 L787.9 259.74 L788.42 257.92 L788.95 256.1 L789.49 254.27 L790.06 252.45 L790.65 250.63 L791.25 248.8 L791.88 246.98 L792.53 245.16 L793.2 243.33 L793.9 241.51 L794.62 239.68 L795.36 237.86 L796.13 236.03 L796.93 234.2 L797.76 232.38 L798.61 230.55 L799.49 228.72 L800.41 226.89 L801.35 225.06 L802.33 223.23 L803.34 221.4 L804.39 219.57 L805.47 217.74 L806.59 215.91 L807.75 214.07 L808.96 212.24 L810.2 210.41 L811.48 208.57 L812.81 206.73 L814.19 204.9 L815.61 203.06 L817.09 201.22 L818.61 199.38 L820.19 197.53 L821.82 195.69 L823.51 193.84 L825.26 192 L827.06 190.15 L828.93 188.3 L830.87 186.44 L832.87 184.59 L834.95 182.73 L837.09 180.87 L839.31 179.01 L841.6 177.15 L843.98 175.28 L846.44 173.41 L848.98 171.54 L851.61 169.66 L854.34 167.78 L857.15 165.89 L860.07 164 L863.08 162.1 L866.21 160.2 L869.43 158.29 L872.78 156.37 L876.23 154.45 L879.81 152.52 L883.51 150.57 L887.34 148.62 L891.3 146.65 L895.41 144.67 L899.65 142.68 L904.04 140.67 L908.58 138.64 L913.28 136.59 L918.14 134.52 L923.18 132.43 L928.38 130.3 L933.77 128.15 L939.34 125.96 L945.11 123.74 L951.08 121.48 L957.25 119.17 L963.64 116.82 L970.26 114.43 L977.1 111.99 L984.17 109.5 L991.5 106.99 L999.08 104.43 L1006.92 101.85 L1015.03 99.23 L1023.43 96.58 L1032.11 93.91 L1041.1 91.2 L1050.4 88.47 L1060.02 85.72 L1069.98 82.95 L1080.28 80.15 L1090.94 77.34 L1101.97 74.51 L1113.38 71.67 L1125.19 68.81 L1137.41 65.93 L1150.05 63.05 L1163.13 60.16 L1176.66 57.25 L1190.67 54.34 L1205.16 51.42 L1220.15 48.49 L1235.67 45.56 L1251.72 42.62 L1268.33 39.67 L1285.52 36.72 L1303.3 33.76 L1303.3 70.26 L1285.52 72.24 L1268.33 74.23 L1251.72 76.23 L1235.67 78.23 L1220.15 80.23 L1205.16 82.25 L1190.67 84.27 L1176.66 86.3 L1163.13 88.34 L1150.05 90.39 L1137.41 92.44 L1125.19 94.51 L1113.38 96.6 L1101.97 98.69 L1090.94 100.81 L1080.28 102.94 L1069.98 105.08 L1060.02 107.25 L1050.4 109.44 L1041.1 111.65 L1032.11 113.89 L1023.43 116.16 L1015.03 118.45 L1006.92 120.78 L999.08 123.13 L991.5 125.52 L984.17 127.95 L977.1 130.4 L970.26 132.91 L963.64 135.45 L957.25 138.05 L951.08 140.68 L945.11 143.36 L939.34 146.08 L933.77 148.84 L928.38 151.62 L923.18 154.44 L918.14 157.29 L913.28 160.16 L908.58 163.05 L904.04 165.97 L899.65 168.9 L895.41 171.85 L891.3 174.81 L887.34 177.79 L883.51 180.77 L879.81 183.77 L876.23 186.78 L872.78 189.8 L869.43 192.82 L866.21 195.86 L863.08 198.9 L860.07 201.94 L857.15 204.99 L854.34 208.05 L851.61 211.11 L848.98 214.17 L846.44 217.24 L843.98 220.31 L841.6 223.39 L839.31 226.46 L837.09 229.54 L834.95 232.63 L832.87 235.71 L830.87 238.8 L828.93 241.89 L827.06 244.98 L825.26 248.07 L823.51 251.17 L821.82 254.26 L820.19 257.36 L818.61 260.46 L817.09 263.56 L815.61 266.66 L814.19 269.77 L812.81 272.87 L811.48 275.98 L810.2 279.08 L808.96 282.19 L807.75 285.3 L806.59 288.41 L805.47 291.52 L804.39 294.63 L803.34 297.74 L802.33 300.85 L801.35 303.96 L800.41 307.07 L799.49 310.19 L798.61 313.3 L797.76 316.42 L796.93 319.53 L796.13 322.65 L795.36 325.76 L794.62 328.88 L793.9 331.99 L793.2 335.11 L792.53 338.23 L791.88 341.35 L791.25 344.47 L790.65 347.58 L790.06 350.7 L789.49 353.82 L788.95 356.94 L788.42 360.06 L787.9 363.18 L787.41 366.3 L786.93 369.42 L786.47 372.54 L786.02 375.66 L785.59 378.79 L785.18 381.91 L784.77 385.03 L784.38 388.15 L784.01 391.27 L783.64 394.4 L783.29 397.52 L782.95 400.64 L782.62 403.76 L782.31 406.89 L782 410.01Z" fill="#1f77b4" fill-opacity="0.15"/>
<g fill="#ff7f0e" fill-opacity="0.8"><circle cx="782" cy="209.01" r="2.9"/><circle cx="790.84" cy="162.97" r="2.9"/><circle cx="799.67" cy="126.13" r="2.9"/><circle cx="808.51" cy="126.13" r="2.9"/><circle cx="817.34" cy="121.53" r="2.9"/><circle cx="826.18" cy="121.53" r="2.9"/><circle cx="835.01" cy="121.53" r="2.9"/><circle cx="843.85" cy="116.93" r="2.9"/><circle cx="852.68" cy="116.93" r="2.9"/><circle cx="861.52" cy="112.32" r="2.9"/><circle cx="870.36" cy="112.32" r="2.9"/><circle cx="879.19" cy="112.32" r="2.9"/><circle cx="888.03" cy="112.32" r="2.9"/><circle cx="896.86" cy="107.72" r="2.9"/><circle cx="905.7" cy="103.11" r="2.9"/><circle cx="914.53" cy="103.11" r="2.9"/><circle cx="923.37" cy="98.51" r="2.9"/><circle cx="932.21" cy="98.51" r="2.9"/><circle cx="941.04" cy="98.51" r="2.9"/><circle cx="949.88" cy="98.51" r="2.9"/><circle cx="958.71" cy="93.91" r="2.9"/><circle cx="967.55" cy="93.91" r="2.9"/><circle cx="976.38" cy="93.91" r="2.9"/><circle cx="985.22" cy="93.91" r="2.9"/><circle cx="994.05" cy="93.91" r="2.9"/><circle cx="1002.89" cy="93.91" r="2.9"/><circle cx="1011.73" cy="84.7" r="2.9"/><circle cx="1020.56" cy="80.09" r="2.9"/><circle cx="1029.4" cy="75.49" r="2.9"/><circle cx="1038.23" cy="75.49" r="2.9"/><circle cx="1047.07" cy="75.49" r="2.9"/><circle cx="1055.9" cy="75.49" r="2.9"/><circle cx="1064.74" cy="75.49" r="2.9"/><circle cx="1073.57" cy="75.49" r="2.9"/><circle cx="1082.41" cy="75.49" r="2.9"/><circle cx="1091.25" cy="70.89" r="2.9"/><circle cx="1100.08" cy="70.89" r="2.9"/><circle cx="1108.92" cy="70.89" r="2.9"/><circle cx="1117.75" cy="66.28" r="2.9"/><circle cx="1126.59" cy="66.28" r="2.9"/><circle cx="1135.42" cy="66.28" r="2.9"/><circle cx="1144.26" cy="66.28" r="2.9"/><circle cx="1153.09" cy="57.07" r="2.9"/><circle cx="1161.93" cy="57.07" r="2.9"/><circle cx="1170.77" cy="57.07" r="2.9"/><circle cx="1179.6" cy="57.07" r="2.9"/><circle cx="1188.44" cy="57.07" r="2.9"/><circle cx="1197.27" cy="57.07" r="2.9"/><circle cx="1206.11" cy="57.07" r="2.9"/><circle cx="1214.94" cy="57.07" r="2.9"/><circle cx="1223.78" cy="57.07" r="2.9"/><circle cx="1232.62" cy="57.07" r="2.9"/><circle cx="1241.45" cy="57.07" r="2.9"/><circle cx="1250.29" cy="57.07" r="2.9"/><circle cx="1259.12" cy="57.07" r="2.9"/><circle cx="1267.96" cy="57.07" r="2.9"/><circle cx="1276.79" cy="57.07" r="2.9"/><circle cx="1285.63" cy="57.07" r="2.9"/><circle cx="1294.46" cy="57.07" r="2.9"/><circle cx="1303.3" cy="57.07" r="2.9"/></g>
<path d="M782 180.23 L782.31 179.21 L782.62 178.19 L782.95 177.17 L783.29 176.15 L783.64 175.13 L784.01 174.11 L784.38 173.09 L784.77 172.07 L785.18 171.05 L785.59 170.03 L786.02 169 L786.47 167.98 L786.93 166.96 L787.41 165.94 L787.9 164.92 L788.42 163.9 L788.95 162.88 L789.49 161.86 L790.06 160.84 L790.65 159.82 L791.25 158.79 L791.88 157.77 L792.53 156.75 L793.2 155.73 L793.9 154.71 L794.62 153.69 L795.36 152.66 L796.13 151.64 L796.93 150.62 L797.76 149.6 L798.61 148.58 L799.49 147.55 L800.41 146.53 L801.35 145.51 L802.33 144.49 L803.34 143.46 L804.39 142.44 L805.47 141.42 L806.59 140.39 L807.75 139.37 L808.96 138.35 L810.2 137.32 L811.48 136.3 L812.81 135.28 L814.19 134.25 L815.61 133.23 L817.09 132.2 L818.61 131.18 L820.19 130.15 L821.82 129.13 L823.51 128.1 L825.26 127.08 L827.06 126.05 L828.93 125.02 L830.87 124 L832.87 122.97 L834.95 121.94 L837.09 120.91 L839.31 119.89 L841.6 118.86 L843.98 117.83 L846.44 116.8 L848.98 115.77 L851.61 114.74 L854.34 113.7 L857.15 112.67 L860.07 111.64 L863.08 110.6 L866.21 109.57 L869.43 108.53 L872.78 107.5 L876.23 106.46 L879.81 105.42 L883.51 104.38 L887.34 103.34 L891.3 102.29 L895.41 101.25 L899.65 100.2 L904.04 99.15 L908.58 98.1 L913.28 97.05 L918.14 95.99 L923.18 94.93 L928.38 93.87 L933.77 92.81 L939.34 91.74 L945.11 90.67 L951.08 89.6 L957.25 88.52 L963.64 87.44 L970.26 86.36 L977.1 85.27 L984.17 84.18 L991.5 83.08 L999.08 81.97 L1006.92 80.85 L1015.03 79.72 L1023.43 78.59 L1032.11 77.45 L1041.1 76.3 L1050.4 75.15 L1060.02 74 L1069.98 72.84 L1080.28 71.68 L1090.94 70.51 L1101.97 69.34 L1113.38 68.17 L1125.19 66.99 L1137.41 65.82 L1150.05 64.64 L1163.13 63.46 L1176.66 62.28 L1190.67 61.09 L1205.16 59.91 L1220.15 58.72 L1235.67 57.54 L1251.72 56.35 L1268.33 55.16 L1285.52 53.97 L1303.3 52.78 L1303.3 59.5 L1285.52 60.49 L1268.33 61.48 L1251.72 62.47 L1235.67 63.47 L1220.15 64.46 L1205.16 65.45 L1190.67 66.45 L1176.66 67.44 L1163.13 68.44 L1150.05 69.44 L1137.41 70.44 L1125.19 71.44 L1113.38 72.45 L1101.97 73.45 L1090.94 74.46 L1080.28 75.48 L1069.98 76.49 L1060.02 77.51 L1050.4 78.53 L1041.1 79.56 L1032.11 80.6 L1023.43 81.64 L1015.03 82.68 L1006.92 83.74 L999.08 84.8 L991.5 85.87 L984.17 86.95 L977.1 88.03 L970.26 89.12 L963.64 90.22 L957.25 91.32 L951.08 92.42 L945.11 93.53 L939.34 94.64 L933.77 95.75 L928.38 96.86 L923.18 97.98 L918.14 99.1 L913.28 100.23 L908.58 101.35 L904.04 102.48 L899.65 103.61 L895.41 104.74 L891.3 105.87 L887.34 107.01 L883.51 108.15 L879.81 109.29 L876.23 110.43 L872.78 111.57 L869.43 112.71 L866.21 113.85 L863.08 115 L860.07 116.14 L857.15 117.29 L854.34 118.43 L851.61 119.58 L848.98 120.73 L846.44 121.88 L843.98 123.03 L841.6 124.18 L839.31 125.33 L837.09 126.48 L834.95 127.63 L832.87 128.78 L830.87 129.93 L828.93 131.08 L827.06 132.24 L825.26 133.39 L823.51 134.54 L821.82 135.7 L820.19 136.85 L818.61 138 L817.09 139.16 L815.61 140.31 L814.19 141.47 L812.81 142.62 L811.48 143.78 L810.2 144.93 L808.96 146.09 L807.75 147.24 L806.59 148.4 L805.47 149.56 L804.39 150.71 L803.34 151.87 L802.33 153.02 L801.35 154.18 L800.41 155.34 L799.49 156.49 L798.61 157.65 L797.76 158.81 L796.93 159.96 L796.13 161.12 L795.36 162.28 L794.62 163.44 L793.9 164.59 L793.2 165.75 L792.53 166.91 L791.88 168.07 L791.25 169.22 L790.65 170.38 L790.06 171.54 L789.49 172.7 L788.95 173.86 L788.42 175.01 L787.9 176.17 L787.41 177.33 L786.93 178.49 L786.47 179.65 L786.02 180.8 L785.59 181.96 L785.18 183.12 L784.77 184.28 L784.38 185.44 L784.01 186.6 L783.64 187.75 L783.29 188.91 L782.95 190.07 L782.62 191.23 L782.31 192.39 L782 193.55Z" fill="#ff7f0e" fill-opacity="0.15"/>
<g fill="#2ca02c" fill-opacity="0.8"><circle cx="782" cy="250.44" r="2.9"/><circle cx="790.84" cy="245.84" r="2.9"/><circle cx="799.67" cy="245.84" r="2.9"/><circle cx="808.51" cy="241.23" r="2.9"/><circle cx="817.34" cy="232.03" r="2.9"/><circle cx="826.18" cy="227.42" r="2.9"/><circle cx="835.01" cy="227.42" r="2.9"/><circle cx="843.85" cy="222.82" r="2.9"/><circle cx="852.68" cy="218.21" r="2.9"/><circle cx="861.52" cy="213.61" r="2.9"/><circle cx="870.36" cy="213.61" r="2.9"/><circle cx="879.19" cy="213.61" r="2.9"/><circle cx="888.03" cy="213.61" r="2.9"/><circle cx="896.86" cy="209.01" r="2.9"/><circle cx="905.7" cy="204.4" r="2.9"/><circle cx="914.53" cy="199.8" r="2.9"/><circle cx="923.37" cy="199.8" r="2.9"/><circle cx="932.21" cy="199.8" r="2.9"/><circle cx="941.04" cy="199.8" r="2.9"/><circle cx="949.88" cy="195.19" r="2.9"/><circle cx="958.71" cy="195.19" r="2.9"/><circle cx="967.55" cy="190.59" r="2.9"/><circle cx="976.38" cy="190.59" r="2.9"/><circle cx="985.22" cy="190.59" r="2.9"/><circle cx="994.05" cy="190.59" r="2.9"/><circle cx="1002.89" cy="185.99" r="2.9"/><circle cx="1011.73" cy="167.57" r="2.9"/><circle cx="1020.56" cy="153.76" r="2.9"/><circle cx="1029.4" cy="153.76" r="2.9"/><circle cx="1038.23" cy="153.76" r="2.9"/><circle cx="1047.07" cy="153.76" r="2.9"/><circle cx="1055.9" cy="153.76" r="2.9"/><circle cx="1064.74" cy="153.76" r="2.9"/><circle cx="1073.57" cy="153.76" r="2.9"/><circle cx="1082.41" cy="153.76" r="2.9"/><circle cx="1091.25" cy="149.15" r="2.9"/><circle cx="1100.08" cy="144.55" r="2.9"/><circle cx="1108.92" cy="121.53" r="2.9"/><circle cx="1117.75" cy="121.53" r="2.9"/><circle cx="1126.59" cy="116.93" r="2.9"/><circle cx="1135.42" cy="116.93" r="2.9"/><circle cx="1144.26" cy="116.93" r="2.9"/><circle cx="1153.09" cy="112.32" r="2.9"/><circle cx="1161.93" cy="112.32" r="2.9"/><circle cx="1170.77" cy="107.72" r="2.9"/><circle cx="1179.6" cy="107.72" r="2.9"/><circle cx="1188.44" cy="107.72" r="2.9"/><circle cx="1197.27" cy="103.11" r="2.9"/><circle cx="1206.11" cy="103.11" r="2.9"/><circle cx="1214.94" cy="103.11" r="2.9"/><circle cx="1223.78" cy="93.91" r="2.9"/><circle cx="1232.62" cy="93.91" r="2.9"/><circle cx="1241.45" cy="93.91" r="2.9"/><circle cx="1250.29" cy="93.91" r="2.9"/><circle cx="1259.12" cy="93.91" r="2.9"/><circle cx="1267.96" cy="93.91" r="2.9"/><circle cx="1276.79" cy="93.91" r="2.9"/><circle cx="1285.63" cy="93.91" r="2.9"/><circle cx="1294.46" cy="93.91" r="2.9"/><circle cx="1303.3" cy="93.91" r="2.9"/></g>
<path d="M782 292.02 L782.31 290.58 L782.62 289.15 L782.95 287.72 L783.29 286.28 L783.64 284.85 L784.01 283.41 L784.38 281.98 L784.77 280.54 L785.18 279.11 L785.59 277.67 L786.02 276.24 L786.47 274.81 L786.93 273.37 L787.41 271.94 L787.9 270.5 L788.42 269.07 L788.95 267.63 L789.49 266.19 L790.06 264.76 L790.65 263.32 L791.25 261.89 L791.88 260.45 L792.53 259.02 L793.2 257.58 L793.9 256.14 L794.62 254.71 L795.36 253.27 L796.13 251.83 L796.93 250.4 L797.76 248.96 L798.61 247.52 L799.49 246.08 L800.41 244.65 L801.35 243.21 L802.33 241.77 L803.34 240.33 L804.39 238.89 L805.47 237.45 L806.59 236.01 L807.75 234.57 L808.96 233.13 L810.2 231.69 L811.48 230.25 L812.81 228.81 L814.19 227.37 L815.61 225.93 L817.09 224.49 L818.61 223.04 L820.19 221.6 L821.82 220.16 L823.51 218.71 L825.26 217.27 L827.06 215.82 L828.93 214.37 L830.87 212.93 L832.87 211.48 L834.95 210.03 L837.09 208.58 L839.31 207.13 L841.6 205.68 L843.98 204.22 L846.44 202.77 L848.98 201.31 L851.61 199.85 L854.34 198.39 L857.15 196.93 L860.07 195.47 L863.08 194 L866.21 192.53 L869.43 191.06 L872.78 189.59 L876.23 188.11 L879.81 186.63 L883.51 185.14 L887.34 183.65 L891.3 182.16 L895.41 180.65 L899.65 179.14 L904.04 177.63 L908.58 176.1 L913.28 174.56 L918.14 173.02 L923.18 171.46 L928.38 169.88 L933.77 168.29 L939.34 166.68 L945.11 165.05 L951.08 163.4 L957.25 161.72 L963.64 160.02 L970.26 158.29 L977.1 156.53 L984.17 154.75 L991.5 152.93 L999.08 151.09 L1006.92 149.22 L1015.03 147.32 L1023.43 145.41 L1032.11 143.47 L1041.1 141.51 L1050.4 139.54 L1060.02 137.55 L1069.98 135.54 L1080.28 133.53 L1090.94 131.51 L1101.97 129.47 L1113.38 127.43 L1125.19 125.38 L1137.41 123.33 L1150.05 121.26 L1163.13 119.2 L1176.66 117.13 L1190.67 115.05 L1205.16 112.98 L1220.15 110.89 L1235.67 108.81 L1251.72 106.72 L1268.33 104.63 L1285.52 102.54 L1303.3 100.45 L1303.3 121.41 L1285.52 122.87 L1268.33 124.34 L1251.72 125.8 L1235.67 127.27 L1220.15 128.74 L1205.16 130.21 L1190.67 131.68 L1176.66 133.16 L1163.13 134.64 L1150.05 136.13 L1137.41 137.62 L1125.19 139.12 L1113.38 140.63 L1101.97 142.14 L1090.94 143.66 L1080.28 145.19 L1069.98 146.72 L1060.02 148.28 L1050.4 149.84 L1041.1 151.42 L1032.11 153.01 L1023.43 154.63 L1015.03 156.27 L1006.92 157.92 L999.08 159.61 L991.5 161.32 L984.17 163.06 L977.1 164.82 L970.26 166.62 L963.64 168.44 L957.25 170.29 L951.08 172.17 L945.11 174.07 L939.34 175.99 L933.77 177.94 L928.38 179.9 L923.18 181.88 L918.14 183.87 L913.28 185.88 L908.58 187.89 L904.04 189.92 L899.65 191.96 L895.41 194 L891.3 196.05 L887.34 198.11 L883.51 200.17 L879.81 202.24 L876.23 204.31 L872.78 206.39 L869.43 208.47 L866.21 210.55 L863.08 212.63 L860.07 214.72 L857.15 216.81 L854.34 218.9 L851.61 220.99 L848.98 223.09 L846.44 225.19 L843.98 227.29 L841.6 229.39 L839.31 231.49 L837.09 233.59 L834.95 235.69 L832.87 237.8 L830.87 239.9 L828.93 242.01 L827.06 244.11 L825.26 246.22 L823.51 248.33 L821.82 250.44 L820.19 252.55 L818.61 254.66 L817.09 256.77 L815.61 258.88 L814.19 260.99 L812.81 263.1 L811.48 265.21 L810.2 267.33 L808.96 269.44 L807.75 271.55 L806.59 273.67 L805.47 275.78 L804.39 277.89 L803.34 280.01 L802.33 282.12 L801.35 284.24 L800.41 286.35 L799.49 288.47 L798.61 290.59 L797.76 292.7 L796.93 294.82 L796.13 296.93 L795.36 299.05 L794.62 301.17 L793.9 303.28 L793.2 305.4 L792.53 307.52 L791.88 309.63 L791.25 311.75 L790.65 313.87 L790.06 315.99 L789.49 318.1 L788.95 320.22 L788.42 322.34 L787.9 324.46 L787.41 326.58 L786.93 328.7 L786.47 330.81 L786.02 332.93 L785.59 335.05 L785.18 337.17 L784.77 339.29 L784.38 341.41 L784.01 343.53 L783.64 345.64 L783.29 347.76 L782.95 349.88 L782.62 352 L782.31 354.12 L782 356.24Z" fill="#2ca02c" fill-opacity="0.15"/>
<path d="M782 348.53 L782.23 346.67 L782.46 344.82 L782.71 342.97 L782.95 341.11 L783.21 339.26 L783.47 337.41 L783.73 335.55 L784.01 333.7 L784.29 331.85 L784.58 329.99 L784.87 328.14 L785.18 326.29 L785.49 324.43 L785.81 322.58 L786.13 320.73 L786.47 318.87 L786.82 317.02 L787.17 315.17 L787.53 313.31 L787.9 311.46 L788.29 309.61 L788.68 307.75 L789.08 305.9 L789.49 304.05 L789.92 302.19 L790.35 300.34 L790.8 298.49 L791.25 296.63 L791.72 294.78 L792.2 292.93 L792.7 291.08 L793.2 289.22 L793.72 287.37 L794.26 285.52 L794.8 283.66 L795.36 281.81 L795.94 279.96 L796.53 278.1 L797.13 276.25 L797.76 274.4 L798.39 272.54 L799.05 270.69 L799.72 268.84 L800.41 266.98 L801.11 265.13 L801.84 263.28 L802.58 261.42 L803.34 259.57 L804.12 257.72 L804.93 255.86 L805.75 254.01 L806.59 252.16 L807.46 250.3 L808.35 248.45 L809.26 246.6 L810.2 244.74 L811.16 242.89 L812.14 241.04 L813.15 239.18 L814.19 237.33 L815.25 235.48 L816.34 233.63 L817.46 231.77 L818.61 229.92 L819.79 228.07 L821 226.21 L822.24 224.36 L823.51 222.51 L824.81 220.65 L826.15 218.8 L827.53 216.95 L828.93 215.09 L830.38 213.24 L831.86 211.39 L833.38 209.53 L834.95 207.68 L836.55 205.83 L838.19 203.97 L839.88 202.12 L841.6 200.27 L843.38 198.41 L845.2 196.56 L847.07 194.71 L848.98 192.85 L850.95 191 L852.96 189.15 L855.03 187.29 L857.15 185.44 L859.33 183.59 L861.56 181.73 L863.85 179.88 L866.21 178.03 L868.62 176.18 L871.09 174.32 L873.63 172.47 L876.23 170.62 L878.9 168.76 L881.65 166.91 L884.46 165.06 L887.34 163.2 L890.3 161.35 L893.34 159.5 L896.45 157.64 L899.65 155.79 L902.93 153.94 L906.29 152.08 L909.74 150.23 L913.28 148.38 L916.91 146.52 L920.64 144.67 L924.46 142.82 L928.38 140.96 L932.41 139.11 L936.53 137.26 L940.77 135.4 L945.11 133.55 L949.57 131.7 L954.14 129.84 L958.83 127.99 L963.64 126.14 L968.58 124.28 L973.65 122.43 L978.84 120.58 L984.17 118.72 L989.64 116.87 L995.25 115.02 L1001.01 113.17 L1006.92 111.31 L1012.98 109.46 L1019.19 107.61 L1025.57 105.75 L1032.11 103.9 L1038.82 102.05 L1045.71 100.19 L1052.77 98.34 L1060.02 96.49 L1067.46 94.63 L1075.08 92.78 L1082.91 90.93 L1090.94 89.07 L1099.17 87.22 L1107.62 85.37 L1116.29 83.51 L1125.19 81.66 L1134.31 79.81 L1143.67 77.95 L1153.28 76.1 L1163.13 74.25 L1173.24 72.39 L1183.61 70.54 L1194.25 68.69 L1205.16 66.83 L1216.36 64.98 L1227.84 63.13 L1239.63 61.27 L1251.72 59.42 L1264.12 57.57 L1276.85 55.72 L1289.91 53.86 L1303.3 52.01" fill="none" stroke="#1f77b4" stroke-width="2.8" stroke-linecap="butt" stroke-linejoin="round"/>
<path d="M782 186.89 L782.23 186.07 L782.46 185.26 L782.71 184.44 L782.95 183.62 L783.21 182.8 L783.47 181.99 L783.73 181.17 L784.01 180.35 L784.29 179.53 L784.58 178.72 L784.87 177.9 L785.18 177.08 L785.49 176.27 L785.81 175.45 L786.13 174.63 L786.47 173.81 L786.82 173 L787.17 172.18 L787.53 171.36 L787.9 170.55 L788.29 169.73 L788.68 168.91 L789.08 168.09 L789.49 167.28 L789.92 166.46 L790.35 165.64 L790.8 164.83 L791.25 164.01 L791.72 163.19 L792.2 162.37 L792.7 161.56 L793.2 160.74 L793.72 159.92 L794.26 159.11 L794.8 158.29 L795.36 157.47 L795.94 156.65 L796.53 155.84 L797.13 155.02 L797.76 154.2 L798.39 153.39 L799.05 152.57 L799.72 151.75 L800.41 150.93 L801.11 150.12 L801.84 149.3 L802.58 148.48 L803.34 147.67 L804.12 146.85 L804.93 146.03 L805.75 145.21 L806.59 144.4 L807.46 143.58 L808.35 142.76 L809.26 141.95 L810.2 141.13 L811.16 140.31 L812.14 139.49 L813.15 138.68 L814.19 137.86 L815.25 137.04 L816.34 136.23 L817.46 135.41 L818.61 134.59 L819.79 133.77 L821 132.96 L822.24 132.14 L823.51 131.32 L824.81 130.51 L826.15 129.69 L827.53 128.87 L828.93 128.05 L830.38 127.24 L831.86 126.42 L833.38 125.6 L834.95 124.78 L836.55 123.97 L838.19 123.15 L839.88 122.33 L841.6 121.52 L843.38 120.7 L845.2 119.88 L847.07 119.06 L848.98 118.25 L850.95 117.43 L852.96 116.61 L855.03 115.8 L857.15 114.98 L859.33 114.16 L861.56 113.34 L863.85 112.53 L866.21 111.71 L868.62 110.89 L871.09 110.08 L873.63 109.26 L876.23 108.44 L878.9 107.62 L881.65 106.81 L884.46 105.99 L887.34 105.17 L890.3 104.36 L893.34 103.54 L896.45 102.72 L899.65 101.9 L902.93 101.09 L906.29 100.27 L909.74 99.45 L913.28 98.64 L916.91 97.82 L920.64 97 L924.46 96.18 L928.38 95.37 L932.41 94.55 L936.53 93.73 L940.77 92.92 L945.11 92.1 L949.57 91.28 L954.14 90.46 L958.83 89.65 L963.64 88.83 L968.58 88.01 L973.65 87.2 L978.84 86.38 L984.17 85.56 L989.64 84.74 L995.25 83.93 L1001.01 83.11 L1006.92 82.29 L1012.98 81.48 L1019.19 80.66 L1025.57 79.84 L1032.11 79.02 L1038.82 78.21 L1045.71 77.39 L1052.77 76.57 L1060.02 75.76 L1067.46 74.94 L1075.08 74.12 L1082.91 73.3 L1090.94 72.49 L1099.17 71.67 L1107.62 70.85 L1116.29 70.04 L1125.19 69.22 L1134.31 68.4 L1143.67 67.58 L1153.28 66.77 L1163.13 65.95 L1173.24 65.13 L1183.61 64.31 L1194.25 63.5 L1205.16 62.68 L1216.36 61.86 L1227.84 61.05 L1239.63 60.23 L1251.72 59.41 L1264.12 58.59 L1276.85 57.78 L1289.91 56.96 L1303.3 56.14" fill="none" stroke="#ff7f0e" stroke-width="2.8" stroke-linecap="butt" stroke-linejoin="round"/>
<path d="M782 324.13 L782.23 322.8 L782.46 321.46 L782.71 320.13 L782.95 318.8 L783.21 317.47 L783.47 316.13 L783.73 314.8 L784.01 313.47 L784.29 312.14 L784.58 310.8 L784.87 309.47 L785.18 308.14 L785.49 306.81 L785.81 305.47 L786.13 304.14 L786.47 302.81 L786.82 301.48 L787.17 300.14 L787.53 298.81 L787.9 297.48 L788.29 296.15 L788.68 294.81 L789.08 293.48 L789.49 292.15 L789.92 290.82 L790.35 289.48 L790.8 288.15 L791.25 286.82 L791.72 285.49 L792.2 284.15 L792.7 282.82 L793.2 281.49 L793.72 280.16 L794.26 278.82 L794.8 277.49 L795.36 276.16 L795.94 274.83 L796.53 273.49 L797.13 272.16 L797.76 270.83 L798.39 269.5 L799.05 268.16 L799.72 266.83 L800.41 265.5 L801.11 264.17 L801.84 262.83 L802.58 261.5 L803.34 260.17 L804.12 258.84 L804.93 257.5 L805.75 256.17 L806.59 254.84 L807.46 253.51 L808.35 252.17 L809.26 250.84 L810.2 249.51 L811.16 248.18 L812.14 246.84 L813.15 245.51 L814.19 244.18 L815.25 242.85 L816.34 241.52 L817.46 240.18 L818.61 238.85 L819.79 237.52 L821 236.19 L822.24 234.85 L823.51 233.52 L824.81 232.19 L826.15 230.86 L827.53 229.52 L828.93 228.19 L830.38 226.86 L831.86 225.53 L833.38 224.19 L834.95 222.86 L836.55 221.53 L838.19 220.2 L839.88 218.86 L841.6 217.53 L843.38 216.2 L845.2 214.87 L847.07 213.53 L848.98 212.2 L850.95 210.87 L852.96 209.54 L855.03 208.2 L857.15 206.87 L859.33 205.54 L861.56 204.21 L863.85 202.87 L866.21 201.54 L868.62 200.21 L871.09 198.88 L873.63 197.54 L876.23 196.21 L878.9 194.88 L881.65 193.55 L884.46 192.21 L887.34 190.88 L890.3 189.55 L893.34 188.22 L896.45 186.88 L899.65 185.55 L902.93 184.22 L906.29 182.89 L909.74 181.55 L913.28 180.22 L916.91 178.89 L920.64 177.56 L924.46 176.22 L928.38 174.89 L932.41 173.56 L936.53 172.23 L940.77 170.89 L945.11 169.56 L949.57 168.23 L954.14 166.9 L958.83 165.56 L963.64 164.23 L968.58 162.9 L973.65 161.57 L978.84 160.23 L984.17 158.9 L989.64 157.57 L995.25 156.24 L1001.01 154.9 L1006.92 153.57 L1012.98 152.24 L1019.19 150.91 L1025.57 149.57 L1032.11 148.24 L1038.82 146.91 L1045.71 145.58 L1052.77 144.24 L1060.02 142.91 L1067.46 141.58 L1075.08 140.25 L1082.91 138.91 L1090.94 137.58 L1099.17 136.25 L1107.62 134.92 L1116.29 133.58 L1125.19 132.25 L1134.31 130.92 L1143.67 129.59 L1153.28 128.25 L1163.13 126.92 L1173.24 125.59 L1183.61 124.26 L1194.25 122.92 L1205.16 121.59 L1216.36 120.26 L1227.84 118.93 L1239.63 117.59 L1251.72 116.26 L1264.12 114.93 L1276.85 113.6 L1289.91 112.26 L1303.3 110.93" fill="none" stroke="#2ca02c" stroke-width="2.8" stroke-linecap="butt" stroke-linejoin="round"/>
</g>
<rect x="782" y="4.5" width="521.3" height="447.3" fill="none" stroke="#3a3a3a" stroke-width="1.3"/>
<g stroke="#3a3a3a" stroke-width="1.2"><path d="M861.52 451.8v5"/><path d="M949.88 451.8v5"/><path d="M1038.23 451.8v5"/><path d="M1126.59 451.8v5"/><path d="M1214.94 451.8v5"/><path d="M1303.3 451.8v5"/><path d="M782 443.81h-4.8"/><path d="M782 351.73h-4.8"/><path d="M782 259.65h-4.8"/><path d="M782 167.57h-4.8"/><path d="M782 75.49h-4.8"/></g>
<g font-size="21.8" fill="#000"><text x="861.52" y="477.5" text-anchor="middle">500</text><text x="949.88" y="477.5" text-anchor="middle">1000</text><text x="1038.23" y="477.5" text-anchor="middle">1500</text><text x="1126.59" y="477.5" text-anchor="middle">2000</text><text x="1214.94" y="477.5" text-anchor="middle">2500</text><text x="1303.3" y="477.5" text-anchor="middle">3000</text><text x="772.5" y="452.66" text-anchor="end">-40</text><text x="772.5" y="360.58" text-anchor="end">-20</text><text x="772.5" y="268.5" text-anchor="end">0</text><text x="772.5" y="176.42" text-anchor="end">20</text><text x="772.5" y="84.34" text-anchor="end">40</text></g>
<text x="1037.5" y="513.1" font-size="24.7" text-anchor="middle" fill="#000">Number of fossil individuals</text>
<text transform="translate(726.1 224.2) rotate(-90)" font-size="24.7" text-anchor="middle" fill="#000">Number of families</text>
<rect x="794.5" y="326" width="178.7" height="113.4" rx="4" ry="4" fill="#fff" fill-opacity="0.8" stroke="#d0d0d0" stroke-opacity="0.8" stroke-width="1.3"/>
<circle cx="828.8" cy="347.4" r="7.8" fill="#1f77b4" fill-opacity="0.8"/>
<text x="872.03" y="354.9" font-size="24.4" fill="#262626">Beigou1</text>
<circle cx="828.8" cy="382.6" r="7.8" fill="#ff7f0e" fill-opacity="0.8"/>
<text x="872.03" y="390.2" font-size="24.4" fill="#262626">Beigou2</text>
<circle cx="828.8" cy="417.6" r="7.8" fill="#2ca02c" fill-opacity="0.8"/>
<text x="872.03" y="425.1" font-size="24.4" fill="#262626">Beigou3</text>
</g>
<g id="p3">
<clipPath id="clip_p3"><rect x="1450.6" y="4.3" width="523.9" height="449.4"/></clipPath>
<clipPath id="clipm_p3"><rect x="1450.6" y="4.3" width="524.5" height="449.4"/></clipPath>
<clipPath id="clipb_p3"><rect x="1449.45" y="4.3" width="526.2" height="449.4"/></clipPath>
<g clip-path="url(#clipm_p3)">
<g fill="#1f77b4" fill-opacity="0.8"><circle cx="1450.6" cy="342.94" r="2.9"/><circle cx="1459.48" cy="321.47" r="2.9"/><circle cx="1468.36" cy="308.58" r="2.9"/><circle cx="1477.24" cy="304.29" r="2.9"/><circle cx="1486.12" cy="278.51" r="2.9"/><circle cx="1495" cy="278.51" r="2.9"/><circle cx="1503.88" cy="261.34" r="2.9"/><circle cx="1512.76" cy="257.04" r="2.9"/><circle cx="1521.64" cy="257.04" r="2.9"/><circle cx="1530.52" cy="248.45" r="2.9"/><circle cx="1539.4" cy="244.16" r="2.9"/><circle cx="1548.28" cy="239.86" r="2.9"/><circle cx="1557.16" cy="226.98" r="2.9"/><circle cx="1566.04" cy="226.98" r="2.9"/><circle cx="1574.92" cy="226.98" r="2.9"/><circle cx="1583.79" cy="222.68" r="2.9"/><circle cx="1592.67" cy="209.8" r="2.9"/><circle cx="1601.55" cy="209.8" r="2.9"/><circle cx="1610.43" cy="201.21" r="2.9"/><circle cx="1619.31" cy="196.91" r="2.9"/><circle cx="1628.19" cy="196.91" r="2.9"/><circle cx="1637.07" cy="196.91" r="2.9"/><circle cx="1645.95" cy="196.91" r="2.9"/><circle cx="1654.83" cy="192.62" r="2.9"/><circle cx="1663.71" cy="192.62" r="2.9"/><circle cx="1672.59" cy="184.03" r="2.9"/><circle cx="1681.47" cy="184.03" r="2.9"/><circle cx="1690.35" cy="184.03" r="2.9"/><circle cx="1699.23" cy="184.03" r="2.9"/><circle cx="1708.11" cy="179.73" r="2.9"/><circle cx="1716.99" cy="179.73" r="2.9"/><circle cx="1725.87" cy="179.73" r="2.9"/><circle cx="1734.75" cy="175.44" r="2.9"/><circle cx="1743.63" cy="171.14" r="2.9"/><circle cx="1752.51" cy="171.14" r="2.9"/><circle cx="1761.39" cy="166.85" r="2.9"/><circle cx="1770.27" cy="166.85" r="2.9"/><circle cx="1779.15" cy="162.55" r="2.9"/><circle cx="1788.03" cy="162.55" r="2.9"/><circle cx="1796.91" cy="162.55" r="2.9"/><circle cx="1805.79" cy="162.55" r="2.9"/><circle cx="1814.67" cy="158.26" r="2.9"/><circle cx="1823.55" cy="153.96" r="2.9"/><circle cx="1832.43" cy="153.96" r="2.9"/><circle cx="1841.31" cy="153.96" r="2.9"/><circle cx="1850.18" cy="149.67" r="2.9"/><circle cx="1859.06" cy="149.67" r="2.9"/><circle cx="1867.94" cy="149.67" r="2.9"/><circle cx="1876.82" cy="149.67" r="2.9"/><circle cx="1885.7" cy="149.67" r="2.9"/><circle cx="1894.58" cy="149.67" r="2.9"/><circle cx="1903.46" cy="149.67" r="2.9"/><circle cx="1912.34" cy="149.67" r="2.9"/><circle cx="1921.22" cy="145.37" r="2.9"/><circle cx="1930.1" cy="141.08" r="2.9"/><circle cx="1938.98" cy="141.08" r="2.9"/><circle cx="1947.86" cy="141.08" r="2.9"/><circle cx="1956.74" cy="141.08" r="2.9"/><circle cx="1965.62" cy="141.08" r="2.9"/><circle cx="1974.5" cy="141.08" r="2.9"/></g>
<path d="M1450.6 360.94 L1450.91 359.13 L1451.23 357.31 L1451.56 355.5 L1451.9 353.69 L1452.25 351.87 L1452.62 350.06 L1453 348.24 L1453.39 346.43 L1453.79 344.62 L1454.21 342.8 L1454.64 340.99 L1455.09 339.17 L1455.56 337.36 L1456.04 335.54 L1456.53 333.73 L1457.05 331.92 L1457.58 330.1 L1458.13 328.29 L1458.7 326.47 L1459.29 324.66 L1459.9 322.84 L1460.53 321.03 L1461.18 319.21 L1461.86 317.4 L1462.56 315.58 L1463.28 313.77 L1464.03 311.96 L1464.8 310.14 L1465.6 308.33 L1466.43 306.51 L1467.29 304.7 L1468.18 302.88 L1469.1 301.06 L1470.05 299.25 L1471.03 297.43 L1472.05 295.62 L1473.1 293.8 L1474.19 291.99 L1475.32 290.17 L1476.48 288.36 L1477.69 286.54 L1478.94 284.72 L1480.23 282.91 L1481.57 281.09 L1482.95 279.27 L1484.38 277.46 L1485.86 275.64 L1487.39 273.82 L1488.98 272.01 L1490.62 270.19 L1492.32 268.37 L1494.07 266.55 L1495.89 264.73 L1497.77 262.92 L1499.71 261.1 L1501.73 259.28 L1503.81 257.46 L1505.96 255.64 L1508.19 253.82 L1510.5 252 L1512.89 250.18 L1515.36 248.36 L1517.92 246.53 L1520.56 244.71 L1523.3 242.89 L1526.13 241.06 L1529.06 239.24 L1532.09 237.42 L1535.23 235.59 L1538.47 233.76 L1541.83 231.93 L1545.3 230.11 L1548.9 228.28 L1552.62 226.44 L1556.47 224.61 L1560.45 222.78 L1564.57 220.94 L1568.83 219.1 L1573.25 217.26 L1577.81 215.42 L1582.54 213.57 L1587.42 211.72 L1592.48 209.87 L1597.71 208.01 L1603.13 206.15 L1608.73 204.29 L1614.53 202.42 L1620.52 200.55 L1626.73 198.67 L1633.15 196.78 L1639.79 194.89 L1646.67 192.99 L1653.78 191.09 L1661.14 189.18 L1668.76 187.27 L1676.64 185.35 L1684.79 183.42 L1693.23 181.49 L1701.96 179.56 L1710.99 177.62 L1720.34 175.67 L1730.01 173.72 L1740.01 171.77 L1750.37 169.82 L1761.08 167.86 L1772.16 165.9 L1783.63 163.94 L1795.5 161.97 L1807.78 160.01 L1820.48 158.04 L1833.63 156.07 L1847.23 154.1 L1861.31 152.13 L1875.87 150.15 L1890.94 148.18 L1906.53 146.2 L1922.66 144.23 L1939.36 142.25 L1956.63 140.27 L1974.5 138.3 L1974.5 143.83 L1956.63 145.65 L1939.36 147.48 L1922.66 149.3 L1906.53 151.13 L1890.94 152.95 L1875.87 154.78 L1861.31 156.61 L1847.23 158.44 L1833.63 160.27 L1820.48 162.1 L1807.78 163.94 L1795.5 165.77 L1783.63 167.61 L1772.16 169.45 L1761.08 171.29 L1750.37 173.13 L1740.01 174.98 L1730.01 176.83 L1720.34 178.68 L1710.99 180.54 L1701.96 182.4 L1693.23 184.27 L1684.79 186.14 L1676.64 188.01 L1668.76 189.89 L1661.14 191.78 L1653.78 193.67 L1646.67 195.57 L1639.79 197.48 L1633.15 199.39 L1626.73 201.3 L1620.52 203.22 L1614.53 205.15 L1608.73 207.08 L1603.13 209.02 L1597.71 210.96 L1592.48 212.91 L1587.42 214.86 L1582.54 216.81 L1577.81 218.76 L1573.25 220.72 L1568.83 222.68 L1564.57 224.65 L1560.45 226.61 L1556.47 228.58 L1552.62 230.55 L1548.9 232.51 L1545.3 234.49 L1541.83 236.46 L1538.47 238.43 L1535.23 240.41 L1532.09 242.38 L1529.06 244.36 L1526.13 246.33 L1523.3 248.31 L1520.56 250.29 L1517.92 252.27 L1515.36 254.25 L1512.89 256.23 L1510.5 258.21 L1508.19 260.19 L1505.96 262.17 L1503.81 264.15 L1501.73 266.14 L1499.71 268.12 L1497.77 270.1 L1495.89 272.08 L1494.07 274.07 L1492.32 276.05 L1490.62 278.03 L1488.98 280.02 L1487.39 282 L1485.86 283.99 L1484.38 285.97 L1482.95 287.95 L1481.57 289.94 L1480.23 291.92 L1478.94 293.91 L1477.69 295.89 L1476.48 297.88 L1475.32 299.86 L1474.19 301.85 L1473.1 303.84 L1472.05 305.82 L1471.03 307.81 L1470.05 309.79 L1469.1 311.78 L1468.18 313.77 L1467.29 315.75 L1466.43 317.74 L1465.6 319.72 L1464.8 321.71 L1464.03 323.7 L1463.28 325.68 L1462.56 327.67 L1461.86 329.66 L1461.18 331.64 L1460.53 333.63 L1459.9 335.62 L1459.29 337.6 L1458.7 339.59 L1458.13 341.58 L1457.58 343.56 L1457.05 345.55 L1456.53 347.54 L1456.04 349.53 L1455.56 351.51 L1455.09 353.5 L1454.64 355.49 L1454.21 357.47 L1453.79 359.46 L1453.39 361.45 L1453 363.44 L1452.62 365.42 L1452.25 367.41 L1451.9 369.4 L1451.56 371.39 L1451.23 373.37 L1450.91 375.36 L1450.6 377.35Z" fill="#1f77b4" fill-opacity="0.15"/>
<g fill="#ff7f0e" fill-opacity="0.8"><circle cx="1450.6" cy="373" r="2.9"/><circle cx="1459.48" cy="355.82" r="2.9"/><circle cx="1468.36" cy="355.82" r="2.9"/><circle cx="1477.24" cy="338.64" r="2.9"/><circle cx="1486.12" cy="317.17" r="2.9"/><circle cx="1495" cy="274.22" r="2.9"/><circle cx="1503.88" cy="252.75" r="2.9"/><circle cx="1512.76" cy="222.68" r="2.9"/><circle cx="1521.64" cy="209.8" r="2.9"/><circle cx="1530.52" cy="192.62" r="2.9"/><circle cx="1539.4" cy="171.14" r="2.9"/><circle cx="1548.28" cy="153.96" r="2.9"/><circle cx="1557.16" cy="136.78" r="2.9"/><circle cx="1566.04" cy="123.9" r="2.9"/><circle cx="1574.92" cy="115.31" r="2.9"/><circle cx="1583.79" cy="102.42" r="2.9"/><circle cx="1592.67" cy="98.12" r="2.9"/><circle cx="1601.55" cy="98.12" r="2.9"/><circle cx="1610.43" cy="98.12" r="2.9"/><circle cx="1619.31" cy="98.12" r="2.9"/><circle cx="1628.19" cy="98.12" r="2.9"/><circle cx="1637.07" cy="98.12" r="2.9"/><circle cx="1645.95" cy="98.12" r="2.9"/><circle cx="1654.83" cy="98.12" r="2.9"/><circle cx="1663.71" cy="98.12" r="2.9"/><circle cx="1672.59" cy="98.12" r="2.9"/><circle cx="1681.47" cy="93.83" r="2.9"/><circle cx="1690.35" cy="93.83" r="2.9"/><circle cx="1699.23" cy="93.83" r="2.9"/><circle cx="1708.11" cy="93.83" r="2.9"/><circle cx="1716.99" cy="89.54" r="2.9"/><circle cx="1725.87" cy="85.24" r="2.9"/><circle cx="1734.75" cy="80.94" r="2.9"/><circle cx="1743.63" cy="80.94" r="2.9"/><circle cx="1752.51" cy="80.94" r="2.9"/><circle cx="1761.39" cy="80.94" r="2.9"/><circle cx="1770.27" cy="76.65" r="2.9"/><circle cx="1779.15" cy="76.65" r="2.9"/><circle cx="1788.03" cy="76.65" r="2.9"/><circle cx="1796.91" cy="76.65" r="2.9"/><circle cx="1805.79" cy="76.65" r="2.9"/><circle cx="1814.67" cy="72.36" r="2.9"/><circle cx="1823.55" cy="72.36" r="2.9"/><circle cx="1832.43" cy="72.36" r="2.9"/><circle cx="1841.31" cy="72.36" r="2.9"/><circle cx="1850.18" cy="68.06" r="2.9"/><circle cx="1859.06" cy="68.06" r="2.9"/><circle cx="1867.94" cy="63.77" r="2.9"/><circle cx="1876.82" cy="63.77" r="2.9"/><circle cx="1885.7" cy="63.77" r="2.9"/><circle cx="1894.58" cy="63.77" r="2.9"/><circle cx="1903.46" cy="63.77" r="2.9"/><circle cx="1912.34" cy="59.47" r="2.9"/><circle cx="1921.22" cy="59.47" r="2.9"/><circle cx="1930.1" cy="59.47" r="2.9"/><circle cx="1938.98" cy="55.18" r="2.9"/><circle cx="1947.86" cy="46.59" r="2.9"/><circle cx="1956.74" cy="46.59" r="2.9"/><circle cx="1965.62" cy="46.59" r="2.9"/><circle cx="1974.5" cy="46.59" r="2.9"/></g>
<path d="M1450.6 374.68 L1450.91 371.89 L1451.23 369.1 L1451.56 366.31 L1451.9 363.52 L1452.25 360.74 L1452.62 357.95 L1453 355.16 L1453.39 352.37 L1453.79 349.58 L1454.21 346.79 L1454.64 344.01 L1455.09 341.22 L1455.56 338.43 L1456.04 335.64 L1456.53 332.85 L1457.05 330.06 L1457.58 327.28 L1458.13 324.49 L1458.7 321.7 L1459.29 318.91 L1459.9 316.12 L1460.53 313.33 L1461.18 310.54 L1461.86 307.75 L1462.56 304.96 L1463.28 302.17 L1464.03 299.38 L1464.8 296.59 L1465.6 293.8 L1466.43 291.01 L1467.29 288.22 L1468.18 285.43 L1469.1 282.64 L1470.05 279.85 L1471.03 277.06 L1472.05 274.27 L1473.1 271.48 L1474.19 268.69 L1475.32 265.9 L1476.48 263.1 L1477.69 260.31 L1478.94 257.52 L1480.23 254.73 L1481.57 251.93 L1482.95 249.14 L1484.38 246.35 L1485.86 243.55 L1487.39 240.76 L1488.98 237.97 L1490.62 235.17 L1492.32 232.38 L1494.07 229.58 L1495.89 226.78 L1497.77 223.99 L1499.71 221.19 L1501.73 218.39 L1503.81 215.59 L1505.96 212.8 L1508.19 210 L1510.5 207.2 L1512.89 204.39 L1515.36 201.59 L1517.92 198.79 L1520.56 195.98 L1523.3 193.18 L1526.13 190.37 L1529.06 187.56 L1532.09 184.75 L1535.23 181.94 L1538.47 179.13 L1541.83 176.31 L1545.3 173.49 L1548.9 170.67 L1552.62 167.85 L1556.47 165.02 L1560.45 162.19 L1564.57 159.35 L1568.83 156.51 L1573.25 153.66 L1577.81 150.81 L1582.54 147.95 L1587.42 145.08 L1592.48 142.2 L1597.71 139.31 L1603.13 136.4 L1608.73 133.49 L1614.53 130.55 L1620.52 127.6 L1626.73 124.63 L1633.15 121.64 L1639.79 118.63 L1646.67 115.6 L1653.78 112.54 L1661.14 109.46 L1668.76 106.36 L1676.64 103.23 L1684.79 100.09 L1693.23 96.93 L1701.96 93.75 L1710.99 90.56 L1720.34 87.35 L1730.01 84.13 L1740.01 80.91 L1750.37 77.67 L1761.08 74.43 L1772.16 71.18 L1783.63 67.92 L1795.5 64.66 L1807.78 61.39 L1820.48 58.12 L1833.63 54.85 L1847.23 51.57 L1861.31 48.29 L1875.87 45.01 L1890.94 41.73 L1906.53 38.44 L1922.66 35.15 L1939.36 31.86 L1956.63 28.57 L1974.5 25.28 L1974.5 41.16 L1956.63 43.96 L1939.36 46.77 L1922.66 49.58 L1906.53 52.39 L1890.94 55.2 L1875.87 58.02 L1861.31 60.83 L1847.23 63.65 L1833.63 66.48 L1820.48 69.3 L1807.78 72.13 L1795.5 74.96 L1783.63 77.8 L1772.16 80.64 L1761.08 83.49 L1750.37 86.35 L1740.01 89.21 L1730.01 92.08 L1720.34 94.97 L1710.99 97.86 L1701.96 100.77 L1693.23 103.69 L1684.79 106.63 L1676.64 109.58 L1668.76 112.56 L1661.14 115.55 L1653.78 118.57 L1646.67 121.61 L1639.79 124.68 L1633.15 127.76 L1626.73 130.87 L1620.52 134 L1614.53 137.15 L1608.73 140.32 L1603.13 143.5 L1597.71 146.7 L1592.48 149.9 L1587.42 153.12 L1582.54 156.35 L1577.81 159.59 L1573.25 162.84 L1568.83 166.09 L1564.57 169.35 L1560.45 172.61 L1556.47 175.88 L1552.62 179.15 L1548.9 182.42 L1545.3 185.7 L1541.83 188.98 L1538.47 192.26 L1535.23 195.55 L1532.09 198.84 L1529.06 202.13 L1526.13 205.42 L1523.3 208.71 L1520.56 212 L1517.92 215.3 L1515.36 218.59 L1512.89 221.89 L1510.5 225.19 L1508.19 228.48 L1505.96 231.78 L1503.81 235.08 L1501.73 238.39 L1499.71 241.69 L1497.77 244.99 L1495.89 248.29 L1494.07 251.59 L1492.32 254.9 L1490.62 258.2 L1488.98 261.51 L1487.39 264.81 L1485.86 268.12 L1484.38 271.42 L1482.95 274.73 L1481.57 278.03 L1480.23 281.34 L1478.94 284.65 L1477.69 287.95 L1476.48 291.26 L1475.32 294.57 L1474.19 297.88 L1473.1 301.18 L1472.05 304.49 L1471.03 307.8 L1470.05 311.11 L1469.1 314.42 L1468.18 317.73 L1467.29 321.03 L1466.43 324.34 L1465.6 327.65 L1464.8 330.96 L1464.03 334.27 L1463.28 337.58 L1462.56 340.89 L1461.86 344.2 L1461.18 347.51 L1460.53 350.82 L1459.9 354.13 L1459.29 357.44 L1458.7 360.75 L1458.13 364.06 L1457.58 367.37 L1457.05 370.68 L1456.53 373.99 L1456.04 377.3 L1455.56 380.61 L1455.09 383.92 L1454.64 387.23 L1454.21 390.54 L1453.79 393.85 L1453.39 397.17 L1453 400.48 L1452.62 403.79 L1452.25 407.1 L1451.9 410.41 L1451.56 413.72 L1451.23 417.03 L1450.91 420.34 L1450.6 423.65Z" fill="#ff7f0e" fill-opacity="0.15"/>
<g fill="#2ca02c" fill-opacity="0.8"><circle cx="1450.6" cy="304.29" r="2.9"/><circle cx="1459.48" cy="278.51" r="2.9"/><circle cx="1468.36" cy="248.45" r="2.9"/><circle cx="1477.24" cy="226.98" r="2.9"/><circle cx="1486.12" cy="214.09" r="2.9"/><circle cx="1495" cy="201.21" r="2.9"/><circle cx="1503.88" cy="192.62" r="2.9"/><circle cx="1512.76" cy="188.32" r="2.9"/><circle cx="1521.64" cy="184.03" r="2.9"/><circle cx="1530.52" cy="179.73" r="2.9"/><circle cx="1539.4" cy="179.73" r="2.9"/><circle cx="1548.28" cy="166.85" r="2.9"/><circle cx="1557.16" cy="166.85" r="2.9"/><circle cx="1566.04" cy="166.85" r="2.9"/><circle cx="1574.92" cy="162.55" r="2.9"/><circle cx="1583.79" cy="162.55" r="2.9"/><circle cx="1592.67" cy="158.26" r="2.9"/><circle cx="1601.55" cy="153.96" r="2.9"/><circle cx="1610.43" cy="153.96" r="2.9"/><circle cx="1619.31" cy="149.67" r="2.9"/><circle cx="1628.19" cy="136.78" r="2.9"/><circle cx="1637.07" cy="132.49" r="2.9"/><circle cx="1645.95" cy="132.49" r="2.9"/><circle cx="1654.83" cy="119.6" r="2.9"/><circle cx="1663.71" cy="119.6" r="2.9"/><circle cx="1672.59" cy="119.6" r="2.9"/><circle cx="1681.47" cy="119.6" r="2.9"/><circle cx="1690.35" cy="115.31" r="2.9"/><circle cx="1699.23" cy="106.72" r="2.9"/><circle cx="1708.11" cy="98.12" r="2.9"/><circle cx="1716.99" cy="93.83" r="2.9"/><circle cx="1725.87" cy="93.83" r="2.9"/><circle cx="1734.75" cy="93.83" r="2.9"/><circle cx="1743.63" cy="93.83" r="2.9"/><circle cx="1752.51" cy="93.83" r="2.9"/><circle cx="1761.39" cy="93.83" r="2.9"/><circle cx="1770.27" cy="89.54" r="2.9"/><circle cx="1779.15" cy="89.54" r="2.9"/><circle cx="1788.03" cy="80.94" r="2.9"/><circle cx="1796.91" cy="80.94" r="2.9"/><circle cx="1805.79" cy="80.94" r="2.9"/><circle cx="1814.67" cy="80.94" r="2.9"/><circle cx="1823.55" cy="76.65" r="2.9"/><circle cx="1832.43" cy="72.36" r="2.9"/><circle cx="1841.31" cy="72.36" r="2.9"/><circle cx="1850.18" cy="72.36" r="2.9"/><circle cx="1859.06" cy="72.36" r="2.9"/><circle cx="1867.94" cy="68.06" r="2.9"/><circle cx="1876.82" cy="68.06" r="2.9"/><circle cx="1885.7" cy="63.77" r="2.9"/><circle cx="1894.58" cy="63.77" r="2.9"/><circle cx="1903.46" cy="63.77" r="2.9"/><circle cx="1912.34" cy="63.77" r="2.9"/><circle cx="1921.22" cy="59.47" r="2.9"/><circle cx="1930.1" cy="55.18" r="2.9"/><circle cx="1938.98" cy="55.18" r="2.9"/><circle cx="1947.86" cy="55.18" r="2.9"/><circle cx="1956.74" cy="50.88" r="2.9"/><circle cx="1965.62" cy="50.88" r="2.9"/><circle cx="1974.5" cy="50.88" r="2.9"/></g>
<path d="M1450.6 318.78 L1450.91 316.63 L1451.23 314.47 L1451.56 312.32 L1451.9 310.17 L1452.25 308.01 L1452.62 305.86 L1453 303.7 L1453.39 301.55 L1453.79 299.4 L1454.21 297.24 L1454.64 295.09 L1455.09 292.93 L1455.56 290.78 L1456.04 288.63 L1456.53 286.47 L1457.05 284.32 L1457.58 282.16 L1458.13 280.01 L1458.7 277.85 L1459.29 275.7 L1459.9 273.54 L1460.53 271.39 L1461.18 269.24 L1461.86 267.08 L1462.56 264.93 L1463.28 262.77 L1464.03 260.62 L1464.8 258.46 L1465.6 256.31 L1466.43 254.15 L1467.29 252 L1468.18 249.84 L1469.1 247.69 L1470.05 245.53 L1471.03 243.38 L1472.05 241.22 L1473.1 239.06 L1474.19 236.91 L1475.32 234.75 L1476.48 232.6 L1477.69 230.44 L1478.94 228.28 L1480.23 226.13 L1481.57 223.97 L1482.95 221.82 L1484.38 219.66 L1485.86 217.5 L1487.39 215.34 L1488.98 213.19 L1490.62 211.03 L1492.32 208.87 L1494.07 206.71 L1495.89 204.56 L1497.77 202.4 L1499.71 200.24 L1501.73 198.08 L1503.81 195.92 L1505.96 193.76 L1508.19 191.6 L1510.5 189.44 L1512.89 187.28 L1515.36 185.12 L1517.92 182.96 L1520.56 180.79 L1523.3 178.63 L1526.13 176.47 L1529.06 174.3 L1532.09 172.14 L1535.23 169.97 L1538.47 167.8 L1541.83 165.64 L1545.3 163.47 L1548.9 161.3 L1552.62 159.13 L1556.47 156.95 L1560.45 154.78 L1564.57 152.6 L1568.83 150.42 L1573.25 148.24 L1577.81 146.06 L1582.54 143.87 L1587.42 141.68 L1592.48 139.49 L1597.71 137.3 L1603.13 135.1 L1608.73 132.89 L1614.53 130.68 L1620.52 128.47 L1626.73 126.25 L1633.15 124.02 L1639.79 121.79 L1646.67 119.56 L1653.78 117.31 L1661.14 115.06 L1668.76 112.81 L1676.64 110.55 L1684.79 108.28 L1693.23 106.01 L1701.96 103.74 L1710.99 101.46 L1720.34 99.17 L1730.01 96.89 L1740.01 94.59 L1750.37 92.3 L1761.08 90 L1772.16 87.7 L1783.63 85.4 L1795.5 83.1 L1807.78 80.79 L1820.48 78.48 L1833.63 76.17 L1847.23 73.86 L1861.31 71.55 L1875.87 69.24 L1890.94 66.92 L1906.53 64.61 L1922.66 62.29 L1939.36 59.97 L1956.63 57.66 L1974.5 55.34 L1974.5 60.87 L1956.63 63.04 L1939.36 65.2 L1922.66 67.37 L1906.53 69.53 L1890.94 71.7 L1875.87 73.86 L1861.31 76.03 L1847.23 78.2 L1833.63 80.37 L1820.48 82.54 L1807.78 84.72 L1795.5 86.89 L1783.63 89.07 L1772.16 91.25 L1761.08 93.43 L1750.37 95.61 L1740.01 97.8 L1730.01 99.99 L1720.34 102.18 L1710.99 104.38 L1701.96 106.58 L1693.23 108.79 L1684.79 111 L1676.64 113.21 L1668.76 115.44 L1661.14 117.66 L1653.78 119.9 L1646.67 122.13 L1639.79 124.38 L1633.15 126.63 L1626.73 128.88 L1620.52 131.15 L1614.53 133.41 L1608.73 135.69 L1603.13 137.96 L1597.71 140.24 L1592.48 142.53 L1587.42 144.82 L1582.54 147.11 L1577.81 149.41 L1573.25 151.7 L1568.83 154 L1564.57 156.31 L1560.45 158.61 L1556.47 160.92 L1552.62 163.23 L1548.9 165.54 L1545.3 167.85 L1541.83 170.16 L1538.47 172.47 L1535.23 174.79 L1532.09 177.1 L1529.06 179.42 L1526.13 181.74 L1523.3 184.05 L1520.56 186.37 L1517.92 188.69 L1515.36 191.01 L1512.89 193.33 L1510.5 195.65 L1508.19 197.97 L1505.96 200.29 L1503.81 202.62 L1501.73 204.94 L1499.71 207.26 L1497.77 209.58 L1495.89 211.91 L1494.07 214.23 L1492.32 216.55 L1490.62 218.88 L1488.98 221.2 L1487.39 223.52 L1485.86 225.85 L1484.38 228.17 L1482.95 230.5 L1481.57 232.82 L1480.23 235.15 L1478.94 237.47 L1477.69 239.8 L1476.48 242.12 L1475.32 244.45 L1474.19 246.77 L1473.1 249.1 L1472.05 251.42 L1471.03 253.75 L1470.05 256.07 L1469.1 258.4 L1468.18 260.73 L1467.29 263.05 L1466.43 265.38 L1465.6 267.71 L1464.8 270.03 L1464.03 272.36 L1463.28 274.68 L1462.56 277.01 L1461.86 279.34 L1461.18 281.66 L1460.53 283.99 L1459.9 286.32 L1459.29 288.64 L1458.7 290.97 L1458.13 293.3 L1457.58 295.63 L1457.05 297.95 L1456.53 300.28 L1456.04 302.61 L1455.56 304.93 L1455.09 307.26 L1454.64 309.59 L1454.21 311.91 L1453.79 314.24 L1453.39 316.57 L1453 318.9 L1452.62 321.22 L1452.25 323.55 L1451.9 325.88 L1451.56 328.21 L1451.23 330.53 L1450.91 332.86 L1450.6 335.19Z" fill="#2ca02c" fill-opacity="0.15"/>
<path d="M1450.6 369.14 L1450.83 367.72 L1451.07 366.29 L1451.31 364.87 L1451.56 363.44 L1451.81 362.02 L1452.07 360.59 L1452.34 359.17 L1452.62 357.74 L1452.9 356.31 L1453.19 354.89 L1453.49 353.46 L1453.79 352.04 L1454.1 350.61 L1454.43 349.19 L1454.75 347.76 L1455.09 346.34 L1455.44 344.91 L1455.8 343.49 L1456.16 342.06 L1456.53 340.63 L1456.92 339.21 L1457.31 337.78 L1457.72 336.36 L1458.13 334.93 L1458.56 333.51 L1458.99 332.08 L1459.44 330.66 L1459.9 329.23 L1460.37 327.8 L1460.85 326.38 L1461.35 324.95 L1461.86 323.53 L1462.38 322.1 L1462.92 320.68 L1463.47 319.25 L1464.03 317.83 L1464.61 316.4 L1465.2 314.98 L1465.81 313.55 L1466.43 312.12 L1467.07 310.7 L1467.73 309.27 L1468.41 307.85 L1469.1 306.42 L1469.81 305 L1470.54 303.57 L1471.28 302.15 L1472.05 300.72 L1472.83 299.29 L1473.64 297.87 L1474.47 296.44 L1475.32 295.02 L1476.19 293.59 L1477.08 292.17 L1478 290.74 L1478.94 289.32 L1479.9 287.89 L1480.89 286.46 L1481.91 285.04 L1482.95 283.61 L1484.02 282.19 L1485.11 280.76 L1486.24 279.34 L1487.39 277.91 L1488.58 276.49 L1489.79 275.06 L1491.04 273.64 L1492.32 272.21 L1493.63 270.78 L1494.97 269.36 L1496.35 267.93 L1497.77 266.51 L1499.22 265.08 L1500.71 263.66 L1502.24 262.23 L1503.81 260.81 L1505.42 259.38 L1507.07 257.95 L1508.76 256.53 L1510.5 255.1 L1512.28 253.68 L1514.11 252.25 L1515.99 250.83 L1517.92 249.4 L1519.89 247.98 L1521.92 246.55 L1524 245.13 L1526.13 243.7 L1528.32 242.27 L1530.56 240.85 L1532.86 239.42 L1535.23 238 L1537.65 236.57 L1540.14 235.15 L1542.69 233.72 L1545.3 232.3 L1547.99 230.87 L1550.74 229.44 L1553.57 228.02 L1556.47 226.59 L1559.44 225.17 L1562.49 223.74 L1565.62 222.32 L1568.83 220.89 L1572.13 219.47 L1575.51 218.04 L1578.98 216.62 L1582.54 215.19 L1586.19 213.76 L1589.93 212.34 L1593.77 210.91 L1597.71 209.49 L1601.76 208.06 L1605.9 206.64 L1610.16 205.21 L1614.53 203.79 L1619 202.36 L1623.6 200.93 L1628.31 199.51 L1633.15 198.08 L1638.11 196.66 L1643.2 195.23 L1648.42 193.81 L1653.78 192.38 L1659.28 190.96 L1664.92 189.53 L1670.7 188.11 L1676.64 186.68 L1682.73 185.25 L1688.97 183.83 L1695.38 182.4 L1701.96 180.98 L1708.7 179.55 L1715.62 178.13 L1722.72 176.7 L1730.01 175.28 L1737.48 173.85 L1745.15 172.42 L1753.01 171 L1761.08 169.57 L1769.36 168.15 L1777.85 166.72 L1786.56 165.3 L1795.5 163.87 L1804.67 162.45 L1814.08 161.02 L1823.73 159.6 L1833.63 158.17 L1843.79 156.74 L1854.21 155.32 L1864.9 153.89 L1875.87 152.47 L1887.12 151.04 L1898.67 149.62 L1910.51 148.19 L1922.66 146.77 L1935.13 145.34 L1947.92 143.91 L1961.04 142.49 L1974.5 141.06" fill="none" stroke="#1f77b4" stroke-width="2.8" stroke-linecap="butt" stroke-linejoin="round"/>
<path d="M1450.6 399.16 L1450.83 396.88 L1451.07 394.59 L1451.31 392.3 L1451.56 390.02 L1451.81 387.73 L1452.07 385.44 L1452.34 383.15 L1452.62 380.87 L1452.9 378.58 L1453.19 376.29 L1453.49 374.01 L1453.79 371.72 L1454.1 369.43 L1454.43 367.14 L1454.75 364.86 L1455.09 362.57 L1455.44 360.28 L1455.8 358 L1456.16 355.71 L1456.53 353.42 L1456.92 351.13 L1457.31 348.85 L1457.72 346.56 L1458.13 344.27 L1458.56 341.99 L1458.99 339.7 L1459.44 337.41 L1459.9 335.12 L1460.37 332.84 L1460.85 330.55 L1461.35 328.26 L1461.86 325.98 L1462.38 323.69 L1462.92 321.4 L1463.47 319.11 L1464.03 316.83 L1464.61 314.54 L1465.2 312.25 L1465.81 309.97 L1466.43 307.68 L1467.07 305.39 L1467.73 303.1 L1468.41 300.82 L1469.1 298.53 L1469.81 296.24 L1470.54 293.95 L1471.28 291.67 L1472.05 289.38 L1472.83 287.09 L1473.64 284.81 L1474.47 282.52 L1475.32 280.23 L1476.19 277.94 L1477.08 275.66 L1478 273.37 L1478.94 271.08 L1479.9 268.8 L1480.89 266.51 L1481.91 264.22 L1482.95 261.93 L1484.02 259.65 L1485.11 257.36 L1486.24 255.07 L1487.39 252.79 L1488.58 250.5 L1489.79 248.21 L1491.04 245.92 L1492.32 243.64 L1493.63 241.35 L1494.97 239.06 L1496.35 236.78 L1497.77 234.49 L1499.22 232.2 L1500.71 229.91 L1502.24 227.63 L1503.81 225.34 L1505.42 223.05 L1507.07 220.77 L1508.76 218.48 L1510.5 216.19 L1512.28 213.9 L1514.11 211.62 L1515.99 209.33 L1517.92 207.04 L1519.89 204.76 L1521.92 202.47 L1524 200.18 L1526.13 197.89 L1528.32 195.61 L1530.56 193.32 L1532.86 191.03 L1535.23 188.74 L1537.65 186.46 L1540.14 184.17 L1542.69 181.88 L1545.3 179.6 L1547.99 177.31 L1550.74 175.02 L1553.57 172.73 L1556.47 170.45 L1559.44 168.16 L1562.49 165.87 L1565.62 163.59 L1568.83 161.3 L1572.13 159.01 L1575.51 156.72 L1578.98 154.44 L1582.54 152.15 L1586.19 149.86 L1589.93 147.58 L1593.77 145.29 L1597.71 143 L1601.76 140.71 L1605.9 138.43 L1610.16 136.14 L1614.53 133.85 L1619 131.57 L1623.6 129.28 L1628.31 126.99 L1633.15 124.7 L1638.11 122.42 L1643.2 120.13 L1648.42 117.84 L1653.78 115.56 L1659.28 113.27 L1664.92 110.98 L1670.7 108.69 L1676.64 106.41 L1682.73 104.12 L1688.97 101.83 L1695.38 99.54 L1701.96 97.26 L1708.7 94.97 L1715.62 92.68 L1722.72 90.4 L1730.01 88.11 L1737.48 85.82 L1745.15 83.53 L1753.01 81.25 L1761.08 78.96 L1769.36 76.67 L1777.85 74.39 L1786.56 72.1 L1795.5 69.81 L1804.67 67.52 L1814.08 65.24 L1823.73 62.95 L1833.63 60.66 L1843.79 58.38 L1854.21 56.09 L1864.9 53.8 L1875.87 51.51 L1887.12 49.23 L1898.67 46.94 L1910.51 44.65 L1922.66 42.37 L1935.13 40.08 L1947.92 37.79 L1961.04 35.5 L1974.5 33.22" fill="none" stroke="#ff7f0e" stroke-width="2.8" stroke-linecap="butt" stroke-linejoin="round"/>
<path d="M1450.6 326.98 L1450.83 325.3 L1451.07 323.62 L1451.31 321.94 L1451.56 320.26 L1451.81 318.58 L1452.07 316.9 L1452.34 315.22 L1452.62 313.54 L1452.9 311.86 L1453.19 310.18 L1453.49 308.5 L1453.79 306.82 L1454.1 305.14 L1454.43 303.46 L1454.75 301.78 L1455.09 300.1 L1455.44 298.42 L1455.8 296.74 L1456.16 295.06 L1456.53 293.38 L1456.92 291.69 L1457.31 290.01 L1457.72 288.33 L1458.13 286.65 L1458.56 284.97 L1458.99 283.29 L1459.44 281.61 L1459.9 279.93 L1460.37 278.25 L1460.85 276.57 L1461.35 274.89 L1461.86 273.21 L1462.38 271.53 L1462.92 269.85 L1463.47 268.17 L1464.03 266.49 L1464.61 264.81 L1465.2 263.13 L1465.81 261.45 L1466.43 259.77 L1467.07 258.08 L1467.73 256.4 L1468.41 254.72 L1469.1 253.04 L1469.81 251.36 L1470.54 249.68 L1471.28 248 L1472.05 246.32 L1472.83 244.64 L1473.64 242.96 L1474.47 241.28 L1475.32 239.6 L1476.19 237.92 L1477.08 236.24 L1478 234.56 L1478.94 232.88 L1479.9 231.2 L1480.89 229.52 L1481.91 227.84 L1482.95 226.16 L1484.02 224.48 L1485.11 222.79 L1486.24 221.11 L1487.39 219.43 L1488.58 217.75 L1489.79 216.07 L1491.04 214.39 L1492.32 212.71 L1493.63 211.03 L1494.97 209.35 L1496.35 207.67 L1497.77 205.99 L1499.22 204.31 L1500.71 202.63 L1502.24 200.95 L1503.81 199.27 L1505.42 197.59 L1507.07 195.91 L1508.76 194.23 L1510.5 192.55 L1512.28 190.87 L1514.11 189.18 L1515.99 187.5 L1517.92 185.82 L1519.89 184.14 L1521.92 182.46 L1524 180.78 L1526.13 179.1 L1528.32 177.42 L1530.56 175.74 L1532.86 174.06 L1535.23 172.38 L1537.65 170.7 L1540.14 169.02 L1542.69 167.34 L1545.3 165.66 L1547.99 163.98 L1550.74 162.3 L1553.57 160.62 L1556.47 158.94 L1559.44 157.26 L1562.49 155.58 L1565.62 153.89 L1568.83 152.21 L1572.13 150.53 L1575.51 148.85 L1578.98 147.17 L1582.54 145.49 L1586.19 143.81 L1589.93 142.13 L1593.77 140.45 L1597.71 138.77 L1601.76 137.09 L1605.9 135.41 L1610.16 133.73 L1614.53 132.05 L1619 130.37 L1623.6 128.69 L1628.31 127.01 L1633.15 125.33 L1638.11 123.65 L1643.2 121.97 L1648.42 120.28 L1653.78 118.6 L1659.28 116.92 L1664.92 115.24 L1670.7 113.56 L1676.64 111.88 L1682.73 110.2 L1688.97 108.52 L1695.38 106.84 L1701.96 105.16 L1708.7 103.48 L1715.62 101.8 L1722.72 100.12 L1730.01 98.44 L1737.48 96.76 L1745.15 95.08 L1753.01 93.4 L1761.08 91.72 L1769.36 90.04 L1777.85 88.36 L1786.56 86.68 L1795.5 84.99 L1804.67 83.31 L1814.08 81.63 L1823.73 79.95 L1833.63 78.27 L1843.79 76.59 L1854.21 74.91 L1864.9 73.23 L1875.87 71.55 L1887.12 69.87 L1898.67 68.19 L1910.51 66.51 L1922.66 64.83 L1935.13 63.15 L1947.92 61.47 L1961.04 59.79 L1974.5 58.11" fill="none" stroke="#2ca02c" stroke-width="2.8" stroke-linecap="butt" stroke-linejoin="round"/>
</g>
<rect x="1450.6" y="4.3" width="523.9" height="449.4" fill="none" stroke="#505050" stroke-width="1.3"/>
<g stroke="#505050" stroke-width="1.2"><path d="M1530.52 453.7v5"/><path d="M1619.31 453.7v5"/><path d="M1708.11 453.7v5"/><path d="M1796.91 453.7v5"/><path d="M1885.7 453.7v5"/><path d="M1974.5 453.7v5"/><path d="M1450.6 377.3h-4.8"/><path d="M1450.6 291.4h-4.8"/><path d="M1450.6 205.5h-4.8"/><path d="M1450.6 119.6h-4.8"/><path d="M1450.6 33.7h-4.8"/></g>
<g font-size="21.8" fill="#000"><text x="1530.52" y="479.5" text-anchor="middle">500</text><text x="1619.31" y="479.5" text-anchor="middle">1000</text><text x="1708.11" y="479.5" text-anchor="middle">1500</text><text x="1796.91" y="479.5" text-anchor="middle">2000</text><text x="1885.7" y="479.5" text-anchor="middle">2500</text><text x="1974.5" y="479.5" text-anchor="middle">3000</text><text x="1441.1" y="385.1" text-anchor="end">0</text><text x="1441.1" y="299.2" text-anchor="end">20</text><text x="1441.1" y="213.3" text-anchor="end">40</text><text x="1441.1" y="127.4" text-anchor="end">60</text><text x="1441.1" y="41.5" text-anchor="end">80</text></g>
<text x="1702.5" y="515.8" font-size="24.7" text-anchor="middle" fill="#000">Number of fossil individuals</text>
<text transform="translate(1392.9 220) rotate(-90)" font-size="24.7" text-anchor="middle" fill="#000">Number of families</text>
<rect x="1758.2" y="327.6" width="204.2" height="113.7" rx="4" ry="4" fill="#fff" fill-opacity="0.8" stroke="#d0d0d0" stroke-opacity="0.8" stroke-width="1.3"/>
<circle cx="1792.9" cy="348.75" r="7.8" fill="#1f77b4" fill-opacity="0.8"/>
<text x="1836.72" y="355.8" font-size="24.5" fill="#262626">Donggou1</text>
<circle cx="1792.9" cy="384.1" r="7.8" fill="#ff7f0e" fill-opacity="0.8"/>
<text x="1836.72" y="391.3" font-size="24.5" fill="#262626">Donggou2</text>
<circle cx="1792.9" cy="419.6" r="7.8" fill="#2ca02c" fill-opacity="0.8"/>
<text x="1836.72" y="426.4" font-size="24.5" fill="#262626">Donggou3</text>
</g>
<g id="p4">
<clipPath id="clip_p4"><rect x="99" y="575.8" width="515" height="445.7"/></clipPath>
<clipPath id="clipm_p4"><rect x="99" y="575.8" width="515.6" height="445.7"/></clipPath>
<clipPath id="clipb_p4"><rect x="97.85" y="575.8" width="517.3" height="445.7"/></clipPath>
<g clip-path="url(#clipm_p4)">
<g fill="#1f77b4" fill-opacity="0.8"><circle cx="99" cy="925.69" r="2.7"/><circle cx="107.73" cy="921.88" r="2.7"/><circle cx="116.46" cy="918.07" r="2.7"/><circle cx="125.19" cy="910.45" r="2.7"/><circle cx="133.92" cy="900.92" r="2.7"/><circle cx="142.64" cy="883.4" r="2.7"/><circle cx="151.37" cy="874.25" r="2.7"/><circle cx="160.1" cy="895.4" r="2.7"/><circle cx="168.83" cy="896.92" r="2.7"/><circle cx="177.56" cy="891.4" r="2.7"/><circle cx="186.29" cy="889.5" r="2.7"/><circle cx="195.02" cy="887.59" r="2.7"/><circle cx="203.75" cy="886.26" r="2.7"/><circle cx="212.47" cy="877.3" r="2.7"/><circle cx="221.2" cy="876.16" r="2.7"/><circle cx="229.93" cy="874.25" r="2.7"/><circle cx="238.66" cy="869.49" r="2.7"/><circle cx="247.39" cy="865.3" r="2.7"/><circle cx="256.12" cy="857.11" r="2.7"/><circle cx="264.85" cy="856.35" r="2.7"/><circle cx="273.58" cy="852.54" r="2.7"/><circle cx="282.31" cy="850.44" r="2.7"/><circle cx="291.03" cy="847.97" r="2.7"/><circle cx="299.76" cy="847.59" r="2.7"/><circle cx="308.49" cy="847.59" r="2.7"/><circle cx="317.22" cy="848.35" r="2.7"/><circle cx="325.95" cy="847.59" r="2.7"/><circle cx="334.68" cy="845.68" r="2.7"/><circle cx="343.41" cy="840.35" r="2.7"/><circle cx="352.14" cy="840.35" r="2.7"/><circle cx="360.86" cy="840.35" r="2.7"/><circle cx="369.59" cy="840.35" r="2.7"/><circle cx="378.32" cy="841.11" r="2.7"/><circle cx="387.05" cy="839.58" r="2.7"/><circle cx="395.78" cy="839.58" r="2.7"/><circle cx="404.51" cy="839.58" r="2.7"/><circle cx="413.24" cy="839.2" r="2.7"/><circle cx="421.97" cy="839.2" r="2.7"/><circle cx="430.69" cy="839.2" r="2.7"/><circle cx="439.42" cy="839.2" r="2.7"/><circle cx="448.15" cy="839.2" r="2.7"/><circle cx="456.88" cy="839.2" r="2.7"/><circle cx="465.61" cy="834.25" r="2.7"/><circle cx="474.34" cy="826.82" r="2.7"/><circle cx="483.07" cy="827.96" r="2.7"/><circle cx="491.8" cy="820.91" r="2.7"/><circle cx="500.53" cy="820.91" r="2.7"/><circle cx="509.25" cy="820.91" r="2.7"/><circle cx="517.98" cy="820.91" r="2.7"/><circle cx="526.71" cy="827.58" r="2.7"/><circle cx="535.44" cy="824.73" r="2.7"/><circle cx="544.17" cy="818.63" r="2.7"/><circle cx="552.9" cy="798.25" r="2.7"/><circle cx="561.63" cy="796.15" r="2.7"/><circle cx="570.36" cy="794.25" r="2.7"/><circle cx="579.08" cy="760.72" r="2.7"/><circle cx="587.81" cy="748.72" r="2.7"/><circle cx="596.54" cy="758.81" r="2.7"/><circle cx="605.27" cy="758.81" r="2.7"/><circle cx="614" cy="750.24" r="2.7"/></g>
<g fill="#ff7f0e" fill-opacity="0.8"><circle cx="99" cy="905.12" r="2.7"/><circle cx="107.73" cy="897.31" r="2.7"/><circle cx="116.46" cy="876.54" r="2.7"/><circle cx="125.19" cy="876.54" r="2.7"/><circle cx="133.92" cy="889.88" r="2.7"/><circle cx="142.64" cy="874.25" r="2.7"/><circle cx="151.37" cy="885.68" r="2.7"/><circle cx="160.1" cy="883.78" r="2.7"/><circle cx="168.83" cy="881.88" r="2.7"/><circle cx="177.56" cy="879.97" r="2.7"/><circle cx="186.29" cy="883.78" r="2.7"/><circle cx="195.02" cy="887.02" r="2.7"/><circle cx="203.75" cy="886.64" r="2.7"/><circle cx="212.47" cy="886.64" r="2.7"/><circle cx="221.2" cy="886.64" r="2.7"/><circle cx="229.93" cy="886.64" r="2.7"/><circle cx="238.66" cy="884.92" r="2.7"/><circle cx="247.39" cy="884.92" r="2.7"/><circle cx="256.12" cy="884.92" r="2.7"/><circle cx="264.85" cy="884.92" r="2.7"/><circle cx="273.58" cy="884.92" r="2.7"/><circle cx="282.31" cy="884.92" r="2.7"/><circle cx="291.03" cy="884.92" r="2.7"/><circle cx="299.76" cy="872.35" r="2.7"/><circle cx="308.49" cy="860.92" r="2.7"/><circle cx="317.22" cy="861.49" r="2.7"/><circle cx="325.95" cy="860.92" r="2.7"/><circle cx="334.68" cy="859.97" r="2.7"/><circle cx="343.41" cy="859.01" r="2.7"/><circle cx="352.14" cy="856.73" r="2.7"/><circle cx="360.86" cy="856.16" r="2.7"/><circle cx="369.59" cy="855.21" r="2.7"/><circle cx="378.32" cy="853.3" r="2.7"/><circle cx="387.05" cy="851.39" r="2.7"/><circle cx="395.78" cy="849.49" r="2.7"/><circle cx="404.51" cy="847.59" r="2.7"/><circle cx="413.24" cy="843.77" r="2.7"/><circle cx="421.97" cy="828.73" r="2.7"/><circle cx="430.69" cy="828.73" r="2.7"/><circle cx="439.42" cy="828.73" r="2.7"/><circle cx="448.15" cy="828.73" r="2.7"/><circle cx="456.88" cy="828.73" r="2.7"/><circle cx="465.61" cy="832.15" r="2.7"/><circle cx="474.34" cy="838.06" r="2.7"/><circle cx="483.07" cy="841.87" r="2.7"/><circle cx="491.8" cy="845.3" r="2.7"/><circle cx="500.53" cy="845.3" r="2.7"/><circle cx="509.25" cy="841.11" r="2.7"/><circle cx="517.98" cy="838.06" r="2.7"/><circle cx="526.71" cy="832.92" r="2.7"/><circle cx="535.44" cy="827.96" r="2.7"/><circle cx="544.17" cy="828.53" r="2.7"/><circle cx="552.9" cy="828.53" r="2.7"/><circle cx="561.63" cy="828.53" r="2.7"/><circle cx="570.36" cy="828.53" r="2.7"/><circle cx="579.08" cy="828.53" r="2.7"/><circle cx="587.81" cy="815.58" r="2.7"/><circle cx="596.54" cy="801.29" r="2.7"/><circle cx="605.27" cy="801.29" r="2.7"/><circle cx="614" cy="801.29" r="2.7"/></g>
<g fill="#2ca02c" fill-opacity="0.8"><circle cx="99" cy="927.6" r="2.7"/><circle cx="107.73" cy="926.07" r="2.7"/><circle cx="116.46" cy="923.21" r="2.7"/><circle cx="125.19" cy="919.98" r="2.7"/><circle cx="133.92" cy="919.98" r="2.7"/><circle cx="142.64" cy="915.59" r="2.7"/><circle cx="151.37" cy="915.59" r="2.7"/><circle cx="160.1" cy="911.02" r="2.7"/><circle cx="168.83" cy="911.02" r="2.7"/><circle cx="177.56" cy="898.26" r="2.7"/><circle cx="186.29" cy="890.83" r="2.7"/><circle cx="195.02" cy="869.87" r="2.7"/><circle cx="203.75" cy="855.59" r="2.7"/><circle cx="212.47" cy="838.25" r="2.7"/><circle cx="221.2" cy="838.25" r="2.7"/><circle cx="229.93" cy="838.25" r="2.7"/><circle cx="238.66" cy="838.25" r="2.7"/><circle cx="247.39" cy="869.87" r="2.7"/><circle cx="256.12" cy="869.87" r="2.7"/><circle cx="264.85" cy="869.87" r="2.7"/><circle cx="273.58" cy="869.87" r="2.7"/><circle cx="282.31" cy="869.87" r="2.7"/><circle cx="291.03" cy="869.87" r="2.7"/><circle cx="299.76" cy="848.73" r="2.7"/><circle cx="308.49" cy="848.73" r="2.7"/><circle cx="317.22" cy="857.87" r="2.7"/><circle cx="325.95" cy="857.87" r="2.7"/><circle cx="334.68" cy="857.87" r="2.7"/><circle cx="343.41" cy="845.11" r="2.7"/><circle cx="352.14" cy="845.11" r="2.7"/><circle cx="360.86" cy="845.11" r="2.7"/><circle cx="369.59" cy="862.06" r="2.7"/><circle cx="378.32" cy="841.87" r="2.7"/><circle cx="387.05" cy="841.87" r="2.7"/><circle cx="395.78" cy="841.87" r="2.7"/><circle cx="404.51" cy="841.87" r="2.7"/><circle cx="413.24" cy="860.54" r="2.7"/><circle cx="421.97" cy="873.87" r="2.7"/><circle cx="430.69" cy="873.87" r="2.7"/><circle cx="439.42" cy="873.87" r="2.7"/><circle cx="448.15" cy="867.21" r="2.7"/><circle cx="456.88" cy="870.64" r="2.7"/><circle cx="465.61" cy="870.64" r="2.7"/><circle cx="474.34" cy="870.64" r="2.7"/><circle cx="483.07" cy="870.64" r="2.7"/><circle cx="491.8" cy="870.64" r="2.7"/><circle cx="500.53" cy="864.54" r="2.7"/><circle cx="509.25" cy="864.54" r="2.7"/><circle cx="517.98" cy="872.35" r="2.7"/><circle cx="526.71" cy="872.35" r="2.7"/><circle cx="535.44" cy="872.35" r="2.7"/><circle cx="544.17" cy="872.35" r="2.7"/><circle cx="552.9" cy="877.68" r="2.7"/><circle cx="561.63" cy="877.68" r="2.7"/><circle cx="570.36" cy="872.73" r="2.7"/><circle cx="579.08" cy="872.73" r="2.7"/><circle cx="587.81" cy="872.73" r="2.7"/><circle cx="596.54" cy="876.54" r="2.7"/><circle cx="605.27" cy="876.54" r="2.7"/><circle cx="614" cy="875.02" r="2.7"/></g>
</g><g clip-path="url(#clipb_p4)"><g stroke="#e63e22" stroke-width="2.45" stroke-opacity="0.86" fill="none"><path d="M99 845.68V927.6"/><path d="M107.73 851.59V924.74"/><path d="M116.46 775.58V923.78"/><path d="M125.19 775.58V919.98"/><path d="M133.92 819.96V919.98"/><path d="M142.64 773.48V917.12"/><path d="M151.37 754.05V917.12"/><path d="M160.1 839.39V915.59"/><path d="M168.83 845.11V915.59"/><path d="M177.56 826.06V909.69"/><path d="M186.29 807.58V906.64"/><path d="M195.02 747.76V900.54"/><path d="M203.75 708.9V899.02"/><path d="M212.47 667.37V896.16"/><path d="M221.2 667.37V896.16"/><path d="M229.93 667.37V891.59"/><path d="M238.66 667.37V890.07"/><path d="M247.39 750.24V897.5"/><path d="M256.12 750.24V897.5"/><path d="M264.85 750.24V897.5"/><path d="M273.58 750.24V897.5"/><path d="M282.31 750.24V897.5"/><path d="M291.03 750.24V897.5"/><path d="M299.76 684.9V887.78"/><path d="M308.49 684.9V887.78"/><path d="M317.22 716.9V890.83"/><path d="M325.95 716.9V890.83"/><path d="M334.68 716.9V890.83"/><path d="M343.41 683.37V886.26"/><path d="M352.14 683.37V886.26"/><path d="M360.86 683.37V886.26"/><path d="M369.59 754.81V888.54"/><path d="M378.32 681.09V884.16"/><path d="M387.05 681.09V884.16"/><path d="M395.78 681.09V884.16"/><path d="M404.51 681.09V884.16"/><path d="M413.24 740.14V886.83"/><path d="M421.97 740.14V890.07"/><path d="M430.69 740.14V890.07"/><path d="M439.42 740.14V890.07"/><path d="M448.15 740.14V886.83"/><path d="M456.88 740.14V886.26"/><path d="M465.61 757.86V886.26"/><path d="M474.34 761.29V886.26"/><path d="M483.07 772.72V886.26"/><path d="M491.8 759.38V886.26"/><path d="M500.53 759.38V882.64"/><path d="M509.25 759.38V882.64"/><path d="M517.98 759.38V884.92"/><path d="M526.71 766.43V884.92"/><path d="M535.44 753.67V884.92"/><path d="M544.17 753.67V884.92"/><path d="M552.9 700.71V886.83"/><path d="M561.63 698.42V886.83"/><path d="M570.36 705.85V883.78"/><path d="M579.08 651.37V883.78"/><path d="M587.81 596.12V883.78"/><path d="M596.54 635.37V883.78"/><path d="M605.27 635.37V883.78"/><path d="M614 616.51V883.4"/></g><g stroke="#e63e22" stroke-width="2.45" stroke-opacity="0.4" fill="none"><path d="M99 886.64V927.6"/><path d="M107.73 888.16V924.74"/><path d="M116.46 849.68V923.78"/><path d="M125.19 847.78V919.98"/><path d="M133.92 869.97V919.98"/><path d="M142.64 845.3V917.12"/><path d="M151.37 835.58V917.12"/><path d="M160.1 877.49V915.59"/><path d="M168.83 880.35V915.59"/><path d="M177.56 867.87V909.69"/><path d="M186.29 857.11V906.64"/><path d="M195.02 824.15V900.54"/><path d="M203.75 803.96V899.02"/><path d="M212.47 781.77V896.16"/><path d="M221.2 781.77V896.16"/><path d="M229.93 779.48V891.59"/><path d="M238.66 778.72V890.07"/><path d="M247.39 823.87V897.5"/><path d="M256.12 823.87V897.5"/><path d="M264.85 823.87V897.5"/><path d="M273.58 823.87V897.5"/><path d="M282.31 823.87V897.5"/><path d="M291.03 823.87V897.5"/><path d="M299.76 786.34V887.78"/><path d="M308.49 786.34V887.78"/><path d="M317.22 803.87V890.83"/><path d="M325.95 803.87V890.83"/><path d="M334.68 803.87V890.83"/><path d="M343.41 784.82V886.26"/><path d="M352.14 784.82V886.26"/><path d="M360.86 784.82V886.26"/><path d="M369.59 821.68V888.54"/><path d="M378.32 782.62V884.16"/><path d="M387.05 782.62V884.16"/><path d="M395.78 782.62V884.16"/><path d="M404.51 782.62V884.16"/><path d="M413.24 813.49V886.83"/><path d="M421.97 815.1V890.07"/><path d="M430.69 815.1V890.07"/><path d="M439.42 815.1V890.07"/><path d="M448.15 813.49V886.83"/><path d="M456.88 813.2V886.26"/><path d="M465.61 822.06V886.26"/><path d="M474.34 823.77V886.26"/><path d="M483.07 829.49V886.26"/><path d="M491.8 822.82V886.26"/><path d="M500.53 821.01V882.64"/><path d="M509.25 821.01V882.64"/><path d="M517.98 822.15V884.92"/><path d="M526.71 825.68V884.92"/><path d="M535.44 819.3V884.92"/><path d="M544.17 819.3V884.92"/><path d="M552.9 793.77V886.83"/><path d="M561.63 792.63V886.83"/><path d="M570.36 794.82V883.78"/><path d="M579.08 767.58V883.78"/><path d="M587.81 739.95V883.78"/><path d="M596.54 759.57V883.78"/><path d="M605.27 759.57V883.78"/><path d="M614 749.95V883.4"/></g></g><g clip-path="url(#clipm_p4)">
<path d="M99 947.81 L99.3 946.68 L99.62 945.55 L99.94 944.42 L100.28 943.29 L100.62 942.16 L100.98 941.03 L101.35 939.9 L101.74 938.77 L102.14 937.64 L102.55 936.51 L102.98 935.38 L103.42 934.25 L103.87 933.12 L104.34 931.99 L104.83 930.86 L105.34 929.73 L105.86 928.6 L106.4 927.47 L106.96 926.34 L107.54 925.21 L108.14 924.08 L108.76 922.94 L109.4 921.81 L110.07 920.68 L110.75 919.55 L111.47 918.42 L112.2 917.28 L112.96 916.15 L113.75 915.02 L114.56 913.88 L115.41 912.75 L116.28 911.62 L117.18 910.48 L118.12 909.35 L119.08 908.21 L120.08 907.08 L121.12 905.94 L122.19 904.8 L123.3 903.67 L124.44 902.53 L125.63 901.39 L126.86 900.26 L128.13 899.12 L129.44 897.98 L130.8 896.84 L132.21 895.7 L133.66 894.56 L135.17 893.42 L136.73 892.28 L138.34 891.13 L140.01 889.99 L141.73 888.84 L143.52 887.7 L145.37 886.55 L147.28 885.41 L149.26 884.26 L151.31 883.11 L153.42 881.96 L155.62 880.81 L157.88 879.65 L160.23 878.5 L162.66 877.34 L165.17 876.18 L167.77 875.02 L170.46 873.86 L173.24 872.7 L176.12 871.53 L179.1 870.36 L182.19 869.19 L185.38 868.01 L188.68 866.84 L192.09 865.65 L195.63 864.47 L199.29 863.28 L203.07 862.08 L206.98 860.89 L211.03 859.68 L215.23 858.47 L219.56 857.25 L224.05 856.03 L228.69 854.8 L233.5 853.56 L238.47 852.31 L243.61 851.06 L248.94 849.79 L254.44 848.51 L260.14 847.22 L266.04 845.92 L272.14 844.61 L278.45 843.29 L284.98 841.95 L291.74 840.6 L298.73 839.24 L305.97 837.86 L313.45 836.47 L321.2 835.07 L329.21 833.66 L337.51 832.23 L346.09 830.79 L354.97 829.35 L364.15 827.89 L373.66 826.42 L383.5 824.95 L393.67 823.46 L404.2 821.97 L415.1 820.47 L426.37 818.97 L438.04 817.46 L450.11 815.94 L462.6 814.42 L475.52 812.9 L488.89 811.36 L502.73 809.83 L517.05 808.29 L531.86 806.75 L547.19 805.21 L563.04 803.66 L579.45 802.11 L596.43 800.56 L614 799.01 L614 814.5 L596.43 815.67 L579.45 816.83 L563.04 818 L547.19 819.17 L531.86 820.34 L517.05 821.52 L502.73 822.7 L488.89 823.88 L475.52 825.07 L462.6 826.26 L450.11 827.45 L438.04 828.65 L426.37 829.86 L415.1 831.07 L404.2 832.29 L393.67 833.52 L383.5 834.75 L373.66 835.99 L364.15 837.24 L354.97 838.5 L346.09 839.77 L337.51 841.05 L329.21 842.34 L321.2 843.65 L313.45 844.96 L305.97 846.29 L298.73 847.63 L291.74 849.82 L284.98 851.19 L278.45 852.57 L272.14 853.97 L266.04 855.39 L260.14 856.82 L254.44 858.26 L248.94 859.71 L243.61 861.18 L238.47 862.66 L233.5 864.16 L228.69 865.66 L224.05 867.17 L219.56 868.69 L215.23 870.22 L211.03 871.75 L206.98 873.3 L203.07 874.85 L199.29 876.4 L195.63 877.96 L192.09 879.53 L188.68 881.1 L185.38 882.67 L182.19 884.25 L179.1 885.83 L176.12 887.42 L173.24 889.01 L170.46 890.6 L167.77 892.19 L165.17 893.79 L162.66 895.39 L160.23 896.99 L157.88 898.59 L155.62 900.2 L153.42 901.8 L151.31 903.41 L149.26 905.02 L147.28 906.63 L145.37 908.24 L143.52 909.86 L141.73 911.47 L140.01 913.09 L138.34 914.7 L136.73 916.32 L135.17 917.94 L133.66 919.56 L132.21 921.18 L130.8 922.8 L129.44 924.42 L128.13 926.04 L126.86 927.66 L125.63 929.29 L124.44 930.91 L123.3 932.54 L122.19 934.16 L121.12 935.79 L120.08 937.41 L119.08 939.04 L118.12 940.66 L117.18 942.29 L116.28 943.92 L115.41 945.55 L114.56 947.17 L113.75 948.8 L112.96 950.43 L112.2 952.06 L111.47 953.69 L110.75 955.32 L110.07 956.95 L109.4 958.58 L108.76 960.21 L108.14 961.84 L107.54 963.47 L106.96 965.1 L106.4 966.73 L105.86 968.37 L105.34 970 L104.83 971.63 L104.34 973.26 L103.87 974.89 L103.42 976.53 L102.98 978.16 L102.55 979.79 L102.14 981.42 L101.74 983.06 L101.35 984.69 L100.98 986.32 L100.62 987.96 L100.28 989.59 L99.94 991.22 L99.62 992.86 L99.3 994.49 L99 996.13Z" fill="#1f77b4" fill-opacity="0.15"/>
<path d="M99 916.5 L99.3 915.83 L99.62 915.17 L99.94 914.5 L100.28 913.84 L100.62 913.17 L100.98 912.51 L101.35 911.84 L101.74 911.17 L102.14 910.51 L102.55 909.84 L102.98 909.18 L103.42 908.51 L103.87 907.85 L104.34 907.18 L104.83 906.52 L105.34 905.85 L105.86 905.18 L106.4 904.52 L106.96 903.85 L107.54 903.19 L108.14 902.52 L108.76 901.85 L109.4 901.19 L110.07 900.52 L110.75 899.86 L111.47 899.19 L112.2 898.52 L112.96 897.86 L113.75 897.19 L114.56 896.52 L115.41 895.86 L116.28 895.19 L117.18 894.52 L118.12 893.86 L119.08 893.19 L120.08 892.52 L121.12 891.86 L122.19 891.19 L123.3 890.52 L124.44 889.86 L125.63 889.19 L126.86 888.52 L128.13 887.85 L129.44 887.18 L130.8 886.52 L132.21 885.85 L133.66 885.18 L135.17 884.51 L136.73 883.84 L138.34 883.17 L140.01 882.51 L141.73 881.84 L143.52 881.17 L145.37 880.5 L147.28 879.83 L149.26 879.16 L151.31 878.49 L153.42 877.81 L155.62 877.14 L157.88 876.47 L160.23 875.8 L162.66 875.13 L165.17 874.45 L167.77 873.78 L170.46 873.1 L173.24 872.43 L176.12 871.75 L179.1 871.08 L182.19 870.4 L185.38 869.72 L188.68 869.04 L192.09 868.36 L195.63 867.67 L199.29 866.99 L203.07 866.3 L206.98 865.61 L211.03 864.92 L215.23 864.23 L219.56 863.53 L224.05 862.83 L228.69 862.12 L233.5 861.41 L238.47 860.69 L243.61 859.97 L248.94 859.24 L254.44 858.5 L260.14 857.75 L266.04 856.98 L272.14 856.21 L278.45 855.42 L284.98 854.61 L291.74 853.79 L298.73 852.95 L305.97 852.11 L313.45 851.26 L321.2 850.41 L329.21 849.55 L337.51 848.68 L346.09 847.81 L354.97 846.94 L364.15 846.06 L373.66 845.17 L383.5 844.28 L393.67 843.39 L404.2 842.5 L415.1 841.6 L426.37 840.69 L438.04 839.79 L450.11 838.88 L462.6 837.98 L475.52 837.06 L488.89 836.15 L502.73 835.24 L517.05 834.32 L531.86 833.41 L547.19 832.49 L563.04 831.57 L579.45 830.65 L596.43 829.73 L614 828.8 L614 835.54 L596.43 836.28 L579.45 837.03 L563.04 837.77 L547.19 838.52 L531.86 839.27 L517.05 840.02 L502.73 840.77 L488.89 841.52 L475.52 842.27 L462.6 843.03 L450.11 843.79 L438.04 844.55 L426.37 845.31 L415.1 846.08 L404.2 846.84 L393.67 847.61 L383.5 848.39 L373.66 849.17 L364.15 849.95 L354.97 850.74 L346.09 851.53 L337.51 852.32 L329.21 853.12 L321.2 853.93 L313.45 854.74 L305.97 855.56 L298.73 856.39 L291.74 857.22 L284.98 858.06 L278.45 858.92 L272.14 859.8 L266.04 860.69 L260.14 861.59 L254.44 862.51 L248.94 863.43 L243.61 864.37 L238.47 865.31 L233.5 866.26 L228.69 867.21 L224.05 868.18 L219.56 869.14 L215.23 870.11 L211.03 871.08 L206.98 872.06 L203.07 873.03 L199.29 874.01 L195.63 875 L192.09 875.98 L188.68 876.96 L185.38 877.95 L182.19 878.94 L179.1 879.93 L176.12 880.92 L173.24 881.91 L170.46 882.9 L167.77 883.89 L165.17 884.88 L162.66 885.87 L160.23 886.87 L157.88 887.86 L155.62 888.86 L153.42 889.85 L151.31 890.85 L149.26 891.84 L147.28 892.84 L145.37 893.84 L143.52 894.83 L141.73 895.83 L140.01 896.83 L138.34 897.82 L136.73 898.82 L135.17 899.82 L133.66 900.82 L132.21 901.82 L130.8 902.81 L129.44 903.81 L128.13 904.81 L126.86 905.81 L125.63 906.81 L124.44 907.81 L123.3 908.81 L122.19 909.81 L121.12 910.81 L120.08 911.81 L119.08 912.81 L118.12 913.81 L117.18 914.81 L116.28 915.81 L115.41 916.81 L114.56 917.81 L113.75 918.81 L112.96 919.81 L112.2 920.81 L111.47 921.81 L110.75 922.81 L110.07 923.81 L109.4 924.81 L108.76 925.81 L108.14 926.81 L107.54 927.81 L106.96 928.81 L106.4 929.81 L105.86 930.81 L105.34 931.81 L104.83 932.81 L104.34 933.81 L103.87 934.81 L103.42 935.82 L102.98 936.82 L102.55 937.82 L102.14 938.82 L101.74 939.82 L101.35 940.82 L100.98 941.82 L100.62 942.82 L100.28 943.82 L99.94 944.82 L99.62 945.83 L99.3 946.83 L99 947.83Z" fill="#ff7f0e" fill-opacity="0.15"/>
<path d="M99 907.54 L99.3 907.16 L99.62 906.77 L99.94 906.39 L100.28 906.01 L100.62 905.62 L100.98 905.24 L101.35 904.85 L101.74 904.47 L102.14 904.08 L102.55 903.7 L102.98 903.31 L103.42 902.93 L103.87 902.54 L104.34 902.16 L104.83 901.77 L105.34 901.39 L105.86 901 L106.4 900.62 L106.96 900.23 L107.54 899.85 L108.14 899.46 L108.76 899.08 L109.4 898.69 L110.07 898.31 L110.75 897.92 L111.47 897.54 L112.2 897.15 L112.96 896.77 L113.75 896.38 L114.56 895.99 L115.41 895.61 L116.28 895.22 L117.18 894.84 L118.12 894.45 L119.08 894.07 L120.08 893.68 L121.12 893.29 L122.19 892.91 L123.3 892.52 L124.44 892.13 L125.63 891.75 L126.86 891.36 L128.13 890.97 L129.44 890.59 L130.8 890.2 L132.21 889.81 L133.66 889.42 L135.17 889.04 L136.73 888.65 L138.34 888.26 L140.01 887.87 L141.73 887.48 L143.52 887.09 L145.37 886.71 L147.28 886.32 L149.26 885.93 L151.31 885.54 L153.42 885.15 L155.62 884.76 L157.88 884.36 L160.23 883.97 L162.66 883.58 L165.17 883.19 L167.77 882.8 L170.46 882.4 L173.24 882.01 L176.12 881.61 L179.1 881.22 L182.19 880.82 L185.38 880.42 L188.68 880.02 L192.09 879.62 L195.63 879.22 L199.29 878.81 L203.07 878.41 L206.98 878 L211.03 877.59 L215.23 877.17 L219.56 876.76 L224.05 876.34 L228.69 875.91 L233.5 875.48 L238.47 875.05 L243.61 874.6 L248.94 874.15 L254.44 873.69 L260.14 873.22 L266.04 872.74 L272.14 872.24 L278.45 871.73 L284.98 871.21 L291.74 870.67 L298.73 870.11 L305.97 869.56 L313.45 868.99 L321.2 868.43 L329.21 867.86 L337.51 867.29 L346.09 866.72 L354.97 866.14 L364.15 865.56 L373.66 864.98 L383.5 864.39 L393.67 863.8 L404.2 863.21 L415.1 862.62 L426.37 862.02 L438.04 861.43 L450.11 860.83 L462.6 860.23 L475.52 859.62 L488.89 859.02 L502.73 858.42 L517.05 857.81 L531.86 857.2 L547.19 856.59 L563.04 855.98 L579.45 855.37 L596.43 854.76 L614 854.14 L614 859.68 L596.43 860.17 L579.45 860.66 L563.04 861.16 L547.19 861.65 L531.86 862.15 L517.05 862.64 L502.73 863.14 L488.89 863.64 L475.52 864.14 L462.6 864.65 L450.11 865.15 L438.04 865.66 L426.37 866.16 L415.1 866.67 L404.2 867.19 L393.67 867.7 L383.5 868.22 L373.66 868.74 L364.15 869.26 L354.97 869.78 L346.09 870.31 L337.51 870.84 L329.21 871.37 L321.2 871.91 L313.45 872.45 L305.97 873 L298.73 873.54 L291.74 874.1 L284.98 874.66 L278.45 875.24 L272.14 875.83 L266.04 876.44 L260.14 877.07 L254.44 877.7 L248.94 878.35 L243.61 879 L238.47 879.66 L233.5 880.33 L228.69 881 L224.05 881.68 L219.56 882.37 L215.23 883.06 L211.03 883.75 L206.98 884.44 L203.07 885.14 L199.29 885.84 L195.63 886.54 L192.09 887.24 L188.68 887.95 L185.38 888.65 L182.19 889.36 L179.1 890.07 L176.12 890.77 L173.24 891.48 L170.46 892.19 L167.77 892.91 L165.17 893.62 L162.66 894.33 L160.23 895.04 L157.88 895.76 L155.62 896.47 L153.42 897.18 L151.31 897.9 L149.26 898.61 L147.28 899.33 L145.37 900.05 L143.52 900.76 L141.73 901.48 L140.01 902.19 L138.34 902.91 L136.73 903.63 L135.17 904.34 L133.66 905.06 L132.21 905.78 L130.8 906.5 L129.44 907.21 L128.13 907.93 L126.86 908.65 L125.63 909.37 L124.44 910.09 L123.3 910.81 L122.19 911.52 L121.12 912.24 L120.08 912.96 L119.08 913.68 L118.12 914.4 L117.18 915.12 L116.28 915.84 L115.41 916.56 L114.56 917.28 L113.75 917.99 L112.96 918.71 L112.2 919.43 L111.47 920.15 L110.75 920.87 L110.07 921.59 L109.4 922.31 L108.76 923.03 L108.14 923.75 L107.54 924.47 L106.96 925.19 L106.4 925.91 L105.86 926.63 L105.34 927.35 L104.83 928.07 L104.34 928.79 L103.87 929.51 L103.42 930.23 L102.98 930.95 L102.55 931.67 L102.14 932.39 L101.74 933.11 L101.35 933.83 L100.98 934.55 L100.62 935.27 L100.28 935.99 L99.94 936.71 L99.62 937.43 L99.3 938.15 L99 938.87Z" fill="#2ca02c" fill-opacity="0.15"/>
<path d="M99 969.77 L99.23 968.75 L99.46 967.73 L99.7 966.71 L99.94 965.69 L100.19 964.68 L100.45 963.66 L100.71 962.64 L100.98 961.62 L101.26 960.6 L101.55 959.58 L101.84 958.56 L102.14 957.54 L102.45 956.52 L102.76 955.51 L103.08 954.49 L103.42 953.47 L103.76 952.45 L104.11 951.43 L104.47 950.41 L104.83 949.39 L105.21 948.37 L105.6 947.35 L106 946.34 L106.4 945.32 L106.82 944.3 L107.25 943.28 L107.69 942.26 L108.14 941.24 L108.6 940.22 L109.08 939.2 L109.57 938.19 L110.07 937.17 L110.58 936.15 L111.11 935.13 L111.65 934.11 L112.2 933.09 L112.77 932.07 L113.35 931.05 L113.95 930.03 L114.56 929.02 L115.19 928 L115.84 926.98 L116.5 925.96 L117.18 924.94 L117.88 923.92 L118.6 922.9 L119.33 921.88 L120.08 920.86 L120.86 919.85 L121.65 918.83 L122.46 917.81 L123.3 916.79 L124.15 915.77 L125.03 914.75 L125.93 913.73 L126.86 912.71 L127.8 911.7 L128.78 910.68 L129.78 909.66 L130.8 908.64 L131.85 907.62 L132.93 906.6 L134.03 905.58 L135.17 904.56 L136.33 903.54 L137.53 902.53 L138.75 901.51 L140.01 900.49 L141.3 899.47 L142.62 898.45 L143.98 897.43 L145.37 896.41 L146.8 895.39 L148.26 894.38 L149.76 893.36 L151.31 892.34 L152.89 891.32 L154.51 890.3 L156.18 889.28 L157.88 888.26 L159.64 887.24 L161.43 886.22 L163.28 885.21 L165.17 884.19 L167.11 883.17 L169.1 882.15 L171.15 881.13 L173.24 880.11 L175.4 879.09 L177.6 878.07 L179.87 877.05 L182.19 876.04 L184.57 875.02 L187.01 874 L189.52 872.98 L192.09 871.96 L194.73 870.94 L197.44 869.92 L200.22 868.9 L203.07 867.89 L205.99 866.87 L208.99 865.85 L212.07 864.83 L215.23 863.81 L218.46 862.79 L221.79 861.77 L225.2 860.75 L228.69 859.73 L232.28 858.72 L235.96 857.7 L239.74 856.68 L243.61 855.66 L247.59 854.64 L251.67 853.62 L255.85 852.6 L260.14 851.58 L264.54 850.57 L269.06 849.55 L273.69 848.53 L278.45 847.51 L283.33 846.49 L288.33 845.47 L293.46 844.45 L298.73 843.43 L304.13 842.41 L309.68 841.4 L315.36 840.38 L321.2 839.36 L327.18 838.34 L333.33 837.32 L339.63 836.3 L346.09 835.28 L352.72 834.26 L359.52 833.24 L366.5 832.23 L373.66 831.21 L381.01 830.19 L388.54 829.17 L396.27 828.15 L404.2 827.13 L412.34 826.11 L420.69 825.09 L429.25 824.08 L438.04 823.06 L447.05 822.04 L456.3 821.02 L465.79 820 L475.52 818.98 L485.51 817.96 L495.75 816.94 L506.26 815.92 L517.05 814.91 L528.11 813.89 L539.46 812.87 L551.1 811.85 L563.04 810.83 L575.3 809.81 L587.87 808.79 L600.77 807.77 L614 806.75" fill="none" stroke="#1f77b4" stroke-width="2.8" stroke-linecap="butt" stroke-linejoin="round"/>
<path d="M99 932.16 L99.23 931.54 L99.46 930.91 L99.7 930.29 L99.94 929.66 L100.19 929.04 L100.45 928.41 L100.71 927.79 L100.98 927.16 L101.26 926.54 L101.55 925.91 L101.84 925.29 L102.14 924.66 L102.45 924.04 L102.76 923.41 L103.08 922.79 L103.42 922.16 L103.76 921.54 L104.11 920.91 L104.47 920.29 L104.83 919.66 L105.21 919.04 L105.6 918.41 L106 917.79 L106.4 917.16 L106.82 916.54 L107.25 915.91 L107.69 915.29 L108.14 914.66 L108.6 914.04 L109.08 913.41 L109.57 912.79 L110.07 912.16 L110.58 911.54 L111.11 910.91 L111.65 910.29 L112.2 909.66 L112.77 909.04 L113.35 908.41 L113.95 907.79 L114.56 907.16 L115.19 906.54 L115.84 905.91 L116.5 905.29 L117.18 904.66 L117.88 904.04 L118.6 903.42 L119.33 902.79 L120.08 902.17 L120.86 901.54 L121.65 900.92 L122.46 900.29 L123.3 899.67 L124.15 899.04 L125.03 898.42 L125.93 897.79 L126.86 897.17 L127.8 896.54 L128.78 895.92 L129.78 895.29 L130.8 894.67 L131.85 894.04 L132.93 893.42 L134.03 892.79 L135.17 892.17 L136.33 891.54 L137.53 890.92 L138.75 890.29 L140.01 889.67 L141.3 889.04 L142.62 888.42 L143.98 887.79 L145.37 887.17 L146.8 886.54 L148.26 885.92 L149.76 885.29 L151.31 884.67 L152.89 884.04 L154.51 883.42 L156.18 882.79 L157.88 882.17 L159.64 881.54 L161.43 880.92 L163.28 880.29 L165.17 879.67 L167.11 879.04 L169.1 878.42 L171.15 877.79 L173.24 877.17 L175.4 876.54 L177.6 875.92 L179.87 875.29 L182.19 874.67 L184.57 874.04 L187.01 873.42 L189.52 872.79 L192.09 872.17 L194.73 871.54 L197.44 870.92 L200.22 870.29 L203.07 869.67 L205.99 869.04 L208.99 868.42 L212.07 867.79 L215.23 867.17 L218.46 866.54 L221.79 865.92 L225.2 865.29 L228.69 864.67 L232.28 864.04 L235.96 863.42 L239.74 862.79 L243.61 862.17 L247.59 861.54 L251.67 860.92 L255.85 860.29 L260.14 859.67 L264.54 859.04 L269.06 858.42 L273.69 857.79 L278.45 857.17 L283.33 856.54 L288.33 855.92 L293.46 855.29 L298.73 854.67 L304.13 854.04 L309.68 853.42 L315.36 852.79 L321.2 852.17 L327.18 851.54 L333.33 850.92 L339.63 850.29 L346.09 849.67 L352.72 849.04 L359.52 848.42 L366.5 847.79 L373.66 847.17 L381.01 846.54 L388.54 845.92 L396.27 845.29 L404.2 844.67 L412.34 844.04 L420.69 843.42 L429.25 842.79 L438.04 842.17 L447.05 841.54 L456.3 840.92 L465.79 840.29 L475.52 839.67 L485.51 839.04 L495.75 838.42 L506.26 837.8 L517.05 837.17 L528.11 836.55 L539.46 835.92 L551.1 835.3 L563.04 834.67 L575.3 834.05 L587.87 833.42 L600.77 832.8 L614 832.17" fill="none" stroke="#ff7f0e" stroke-width="2.8" stroke-linecap="butt" stroke-linejoin="round"/>
<path d="M99 923.21 L99.23 922.79 L99.46 922.38 L99.7 921.97 L99.94 921.55 L100.19 921.14 L100.45 920.72 L100.71 920.31 L100.98 919.89 L101.26 919.48 L101.55 919.07 L101.84 918.65 L102.14 918.24 L102.45 917.82 L102.76 917.41 L103.08 916.99 L103.42 916.58 L103.76 916.17 L104.11 915.75 L104.47 915.34 L104.83 914.92 L105.21 914.51 L105.6 914.09 L106 913.68 L106.4 913.26 L106.82 912.85 L107.25 912.44 L107.69 912.02 L108.14 911.61 L108.6 911.19 L109.08 910.78 L109.57 910.36 L110.07 909.95 L110.58 909.54 L111.11 909.12 L111.65 908.71 L112.2 908.29 L112.77 907.88 L113.35 907.46 L113.95 907.05 L114.56 906.63 L115.19 906.22 L115.84 905.81 L116.5 905.39 L117.18 904.98 L117.88 904.56 L118.6 904.15 L119.33 903.73 L120.08 903.32 L120.86 902.91 L121.65 902.49 L122.46 902.08 L123.3 901.66 L124.15 901.25 L125.03 900.83 L125.93 900.42 L126.86 900.01 L127.8 899.59 L128.78 899.18 L129.78 898.76 L130.8 898.35 L131.85 897.93 L132.93 897.52 L134.03 897.1 L135.17 896.69 L136.33 896.28 L137.53 895.86 L138.75 895.45 L140.01 895.03 L141.3 894.62 L142.62 894.2 L143.98 893.79 L145.37 893.38 L146.8 892.96 L148.26 892.55 L149.76 892.13 L151.31 891.72 L152.89 891.3 L154.51 890.89 L156.18 890.47 L157.88 890.06 L159.64 889.65 L161.43 889.23 L163.28 888.82 L165.17 888.4 L167.11 887.99 L169.1 887.57 L171.15 887.16 L173.24 886.75 L175.4 886.33 L177.6 885.92 L179.87 885.5 L182.19 885.09 L184.57 884.67 L187.01 884.26 L189.52 883.85 L192.09 883.43 L194.73 883.02 L197.44 882.6 L200.22 882.19 L203.07 881.77 L205.99 881.36 L208.99 880.94 L212.07 880.53 L215.23 880.12 L218.46 879.7 L221.79 879.29 L225.2 878.87 L228.69 878.46 L232.28 878.04 L235.96 877.63 L239.74 877.22 L243.61 876.8 L247.59 876.39 L251.67 875.97 L255.85 875.56 L260.14 875.14 L264.54 874.73 L269.06 874.31 L273.69 873.9 L278.45 873.49 L283.33 873.07 L288.33 872.66 L293.46 872.24 L298.73 871.83 L304.13 871.41 L309.68 871 L315.36 870.59 L321.2 870.17 L327.18 869.76 L333.33 869.34 L339.63 868.93 L346.09 868.51 L352.72 868.1 L359.52 867.69 L366.5 867.27 L373.66 866.86 L381.01 866.44 L388.54 866.03 L396.27 865.61 L404.2 865.2 L412.34 864.78 L420.69 864.37 L429.25 863.96 L438.04 863.54 L447.05 863.13 L456.3 862.71 L465.79 862.3 L475.52 861.88 L485.51 861.47 L495.75 861.06 L506.26 860.64 L517.05 860.23 L528.11 859.81 L539.46 859.4 L551.1 858.98 L563.04 858.57 L575.3 858.15 L587.87 857.74 L600.77 857.33 L614 856.91" fill="none" stroke="#2ca02c" stroke-width="2.8" stroke-linecap="butt" stroke-linejoin="round"/>
</g>
<rect x="99" y="575.8" width="515" height="445.7" fill="none" stroke="#6e6e6e" stroke-width="1.3"/>
<g stroke="#6e6e6e" stroke-width="1.2"><path d="M177.56 1021.5v5"/><path d="M264.85 1021.5v5"/><path d="M352.14 1021.5v5"/><path d="M439.42 1021.5v5"/><path d="M526.71 1021.5v5"/><path d="M614 1021.5v5"/><path d="M99 929.5h-4.8"/><path d="M99 834.25h-4.8"/><path d="M99 739h-4.8"/><path d="M99 643.75h-4.8"/></g>
<g font-size="21.8" fill="#000"><text x="177.56" y="1046.5" text-anchor="middle">500</text><text x="264.85" y="1046.5" text-anchor="middle">1000</text><text x="352.14" y="1046.5" text-anchor="middle">1500</text><text x="439.42" y="1046.5" text-anchor="middle">2000</text><text x="526.71" y="1046.5" text-anchor="middle">2500</text><text x="614" y="1046.5" text-anchor="middle">3000</text><text x="90.1" y="936.6" text-anchor="end">0</text><text x="90.1" y="841.35" text-anchor="end">50</text><text x="90.1" y="746.1" text-anchor="end">100</text><text x="90.1" y="650.85" text-anchor="end">150</text></g>
<text x="354.8" y="1081" font-size="24.7" text-anchor="middle" fill="#000">Number of fossil individuals</text>
<text transform="translate(42.8 805.3) rotate(-90)" font-size="24.7" text-anchor="middle" fill="#000">Number of families</text>
<rect x="391.05" y="588" width="210.5" height="112.9" rx="4" ry="4" fill="#fff" fill-opacity="0.8" stroke="#d0d0d0" stroke-opacity="0.8" stroke-width="1.3"/>
<circle cx="424.6" cy="609.07" r="7.8" fill="#1f77b4" fill-opacity="0.8"/>
<text x="467.94" y="615.96" font-size="24.2" fill="#262626">Donggouli1</text>
<circle cx="424.6" cy="644.2" r="7.8" fill="#ff7f0e" fill-opacity="0.8"/>
<text x="467.94" y="650.9" font-size="24.2" fill="#262626">Donggouli2</text>
<circle cx="424.6" cy="679.4" r="7.8" fill="#2ca02c" fill-opacity="0.8"/>
<text x="467.94" y="685.9" font-size="24.2" fill="#262626">Donggouli3</text>
</g>
<g id="p5">
<clipPath id="clip_p5"><rect x="785.8" y="576" width="520.2" height="445.8"/></clipPath>
<clipPath id="clipm_p5"><rect x="785.8" y="576" width="520.8" height="445.8"/></clipPath>
<clipPath id="clipb_p5"><rect x="784.65" y="576" width="522.5" height="445.8"/></clipPath>
<g clip-path="url(#clipm_p5)">
<g fill="#1f77b4" fill-opacity="0.8"><circle cx="785.8" cy="892.36" r="2.7"/><circle cx="794.62" cy="893.26" r="2.7"/><circle cx="803.43" cy="893.26" r="2.7"/><circle cx="812.25" cy="879.46" r="2.7"/><circle cx="821.07" cy="817.28" r="2.7"/><circle cx="829.88" cy="861.54" r="2.7"/><circle cx="838.7" cy="863.87" r="2.7"/><circle cx="847.52" cy="869.6" r="2.7"/><circle cx="856.34" cy="873.01" r="2.7"/><circle cx="865.15" cy="872.83" r="2.7"/><circle cx="873.97" cy="872.83" r="2.7"/><circle cx="882.79" cy="872.83" r="2.7"/><circle cx="891.6" cy="871.75" r="2.7"/><circle cx="900.42" cy="871.04" r="2.7"/><circle cx="909.24" cy="871.04" r="2.7"/><circle cx="918.05" cy="871.04" r="2.7"/><circle cx="926.87" cy="871.04" r="2.7"/><circle cx="935.69" cy="871.04" r="2.7"/><circle cx="944.51" cy="862.08" r="2.7"/><circle cx="953.32" cy="861.54" r="2.7"/><circle cx="962.14" cy="861.54" r="2.7"/><circle cx="970.96" cy="861.54" r="2.7"/><circle cx="979.77" cy="863.51" r="2.7"/><circle cx="988.59" cy="863.51" r="2.7"/><circle cx="997.41" cy="861.9" r="2.7"/><circle cx="1006.22" cy="858.13" r="2.7"/><circle cx="1015.04" cy="853.65" r="2.7"/><circle cx="1023.86" cy="852.94" r="2.7"/><circle cx="1032.67" cy="852.94" r="2.7"/><circle cx="1041.49" cy="850.61" r="2.7"/><circle cx="1050.31" cy="849.17" r="2.7"/><circle cx="1059.13" cy="840.03" r="2.7"/><circle cx="1067.94" cy="833.05" r="2.7"/><circle cx="1076.76" cy="778.03" r="2.7"/><circle cx="1085.58" cy="808.32" r="2.7"/><circle cx="1094.39" cy="774.45" r="2.7"/><circle cx="1103.21" cy="784.12" r="2.7"/><circle cx="1112.03" cy="771.4" r="2.7"/><circle cx="1120.84" cy="771.4" r="2.7"/><circle cx="1129.66" cy="762.8" r="2.7"/><circle cx="1138.48" cy="760.47" r="2.7"/><circle cx="1147.29" cy="750.43" r="2.7"/><circle cx="1156.11" cy="770.68" r="2.7"/><circle cx="1164.93" cy="770.68" r="2.7"/><circle cx="1173.75" cy="766.02" r="2.7"/><circle cx="1182.56" cy="764.23" r="2.7"/><circle cx="1191.38" cy="764.23" r="2.7"/><circle cx="1200.2" cy="758.68" r="2.7"/><circle cx="1209.01" cy="758.68" r="2.7"/><circle cx="1217.83" cy="758.68" r="2.7"/><circle cx="1226.65" cy="758.68" r="2.7"/><circle cx="1235.46" cy="758.68" r="2.7"/><circle cx="1244.28" cy="776.6" r="2.7"/><circle cx="1253.1" cy="776.6" r="2.7"/><circle cx="1261.92" cy="782.15" r="2.7"/><circle cx="1270.73" cy="782.15" r="2.7"/><circle cx="1279.55" cy="782.15" r="2.7"/><circle cx="1288.37" cy="782.15" r="2.7"/><circle cx="1297.18" cy="782.15" r="2.7"/><circle cx="1306" cy="782.15" r="2.7"/></g>
<g fill="#ff7f0e" fill-opacity="0.8"><circle cx="785.8" cy="858.49" r="2.7"/><circle cx="794.62" cy="849.53" r="2.7"/><circle cx="803.43" cy="832.33" r="2.7"/><circle cx="812.25" cy="832.33" r="2.7"/><circle cx="821.07" cy="831.07" r="2.7"/><circle cx="829.88" cy="833.4" r="2.7"/><circle cx="838.7" cy="835.2" r="2.7"/><circle cx="847.52" cy="836.99" r="2.7"/><circle cx="856.34" cy="839.14" r="2.7"/><circle cx="865.15" cy="835.55" r="2.7"/><circle cx="873.97" cy="835.55" r="2.7"/><circle cx="882.79" cy="835.55" r="2.7"/><circle cx="891.6" cy="835.55" r="2.7"/><circle cx="900.42" cy="834.84" r="2.7"/><circle cx="909.24" cy="831.07" r="2.7"/><circle cx="918.05" cy="831.07" r="2.7"/><circle cx="926.87" cy="829.82" r="2.7"/><circle cx="935.69" cy="828.39" r="2.7"/><circle cx="944.51" cy="827.31" r="2.7"/><circle cx="953.32" cy="826.24" r="2.7"/><circle cx="962.14" cy="823.55" r="2.7"/><circle cx="970.96" cy="824.44" r="2.7"/><circle cx="979.77" cy="825.16" r="2.7"/><circle cx="988.59" cy="825.16" r="2.7"/><circle cx="997.41" cy="824.44" r="2.7"/><circle cx="1006.22" cy="824.44" r="2.7"/><circle cx="1015.04" cy="815.48" r="2.7"/><circle cx="1023.86" cy="810.47" r="2.7"/><circle cx="1032.67" cy="810.47" r="2.7"/><circle cx="1041.49" cy="811.54" r="2.7"/><circle cx="1050.31" cy="811.54" r="2.7"/><circle cx="1059.13" cy="811.54" r="2.7"/><circle cx="1067.94" cy="811.54" r="2.7"/><circle cx="1076.76" cy="811.54" r="2.7"/><circle cx="1085.58" cy="811.54" r="2.7"/><circle cx="1094.39" cy="811.54" r="2.7"/><circle cx="1103.21" cy="811.54" r="2.7"/><circle cx="1112.03" cy="810.11" r="2.7"/><circle cx="1120.84" cy="806.7" r="2.7"/><circle cx="1129.66" cy="806.7" r="2.7"/><circle cx="1138.48" cy="810.11" r="2.7"/><circle cx="1147.29" cy="810.11" r="2.7"/><circle cx="1156.11" cy="801.33" r="2.7"/><circle cx="1164.93" cy="801.33" r="2.7"/><circle cx="1173.75" cy="801.33" r="2.7"/><circle cx="1182.56" cy="801.33" r="2.7"/><circle cx="1191.38" cy="801.33" r="2.7"/><circle cx="1200.2" cy="801.33" r="2.7"/><circle cx="1209.01" cy="798.1" r="2.7"/><circle cx="1217.83" cy="803.84" r="2.7"/><circle cx="1226.65" cy="812.26" r="2.7"/><circle cx="1235.46" cy="812.26" r="2.7"/><circle cx="1244.28" cy="812.26" r="2.7"/><circle cx="1253.1" cy="812.26" r="2.7"/><circle cx="1261.92" cy="812.26" r="2.7"/><circle cx="1270.73" cy="812.26" r="2.7"/><circle cx="1279.55" cy="812.26" r="2.7"/><circle cx="1288.37" cy="812.26" r="2.7"/><circle cx="1297.18" cy="812.26" r="2.7"/><circle cx="1306" cy="813.87" r="2.7"/></g>
<g fill="#2ca02c" fill-opacity="0.8"><circle cx="785.8" cy="897.56" r="2.7"/><circle cx="794.62" cy="893.79" r="2.7"/><circle cx="803.43" cy="893.79" r="2.7"/><circle cx="812.25" cy="889.31" r="2.7"/><circle cx="821.07" cy="879.46" r="2.7"/><circle cx="829.88" cy="886.27" r="2.7"/><circle cx="838.7" cy="888.6" r="2.7"/><circle cx="847.52" cy="886.98" r="2.7"/><circle cx="856.34" cy="884.83" r="2.7"/><circle cx="865.15" cy="882.5" r="2.7"/><circle cx="873.97" cy="883.22" r="2.7"/><circle cx="882.79" cy="883.22" r="2.7"/><circle cx="891.6" cy="883.22" r="2.7"/><circle cx="900.42" cy="881.07" r="2.7"/><circle cx="909.24" cy="877.67" r="2.7"/><circle cx="918.05" cy="876.23" r="2.7"/><circle cx="926.87" cy="877.31" r="2.7"/><circle cx="935.69" cy="877.31" r="2.7"/><circle cx="944.51" cy="878.38" r="2.7"/><circle cx="953.32" cy="876.23" r="2.7"/><circle cx="962.14" cy="876.23" r="2.7"/><circle cx="970.96" cy="874.26" r="2.7"/><circle cx="979.77" cy="873.9" r="2.7"/><circle cx="988.59" cy="873.9" r="2.7"/><circle cx="997.41" cy="873.9" r="2.7"/><circle cx="1006.22" cy="870.86" r="2.7"/><circle cx="1015.04" cy="859.93" r="2.7"/><circle cx="1023.86" cy="852.94" r="2.7"/><circle cx="1032.67" cy="852.94" r="2.7"/><circle cx="1041.49" cy="852.22" r="2.7"/><circle cx="1050.31" cy="855.09" r="2.7"/><circle cx="1059.13" cy="852.94" r="2.7"/><circle cx="1067.94" cy="852.94" r="2.7"/><circle cx="1076.76" cy="852.94" r="2.7"/><circle cx="1085.58" cy="852.94" r="2.7"/><circle cx="1094.39" cy="852.4" r="2.7"/><circle cx="1103.21" cy="848.46" r="2.7"/><circle cx="1112.03" cy="833.58" r="2.7"/><circle cx="1120.84" cy="831.43" r="2.7"/><circle cx="1129.66" cy="816.38" r="2.7"/><circle cx="1138.48" cy="816.38" r="2.7"/><circle cx="1147.29" cy="821.4" r="2.7"/><circle cx="1156.11" cy="814.23" r="2.7"/><circle cx="1164.93" cy="814.23" r="2.7"/><circle cx="1173.75" cy="818.71" r="2.7"/><circle cx="1182.56" cy="818.71" r="2.7"/><circle cx="1191.38" cy="818.71" r="2.7"/><circle cx="1200.2" cy="820.86" r="2.7"/><circle cx="1209.01" cy="816.92" r="2.7"/><circle cx="1217.83" cy="828.03" r="2.7"/><circle cx="1226.65" cy="819.78" r="2.7"/><circle cx="1235.46" cy="817.28" r="2.7"/><circle cx="1244.28" cy="817.28" r="2.7"/><circle cx="1253.1" cy="817.28" r="2.7"/><circle cx="1261.92" cy="817.28" r="2.7"/><circle cx="1270.73" cy="817.28" r="2.7"/><circle cx="1279.55" cy="817.28" r="2.7"/><circle cx="1288.37" cy="817.28" r="2.7"/><circle cx="1297.18" cy="817.28" r="2.7"/><circle cx="1306" cy="815.48" r="2.7"/></g>
</g><g clip-path="url(#clipb_p5)"><g stroke="#e63e22" stroke-width="2.45" stroke-opacity="0.86" fill="none"><path d="M785.8 762.08V897.92"/><path d="M794.62 806.34V860.46"/><path d="M794.62 870.86V893.79"/><path d="M803.43 785.74V843.08"/><path d="M803.43 870.86V893.79"/><path d="M812.25 785.74V889.31"/><path d="M821.07 656.89V880.71"/><path d="M829.88 797.74V886.27"/><path d="M838.7 799.18V871.04"/><path d="M847.52 802.94V873.19"/><path d="M856.34 812.8V843.8"/><path d="M856.34 863.33V884.83"/><path d="M865.15 805.81V841.65"/><path d="M865.15 861.18V882.5"/><path d="M873.97 805.81V841.65"/><path d="M873.97 861.18V883.22"/><path d="M882.79 805.81V841.65"/><path d="M882.79 861.18V883.22"/><path d="M891.6 805.81V841.65"/><path d="M891.6 858.85V883.22"/><path d="M900.42 807.42V840.57"/><path d="M900.42 858.85V881.07"/><path d="M909.24 800.79V837.88"/><path d="M909.24 858.85V877.67"/><path d="M918.05 800.79V836.99"/><path d="M918.05 859.57V876.23"/><path d="M926.87 788.6V834.12"/><path d="M926.87 859.57V877.31"/><path d="M935.69 798.82V836.27"/><path d="M935.69 859.57V877.31"/><path d="M944.51 794.7V866.02"/><path d="M944.51 872.83V878.38"/><path d="M953.32 794.7V866.02"/><path d="M953.32 871.04V876.23"/><path d="M962.14 781.08V866.02"/><path d="M962.14 871.04V876.23"/><path d="M970.96 788.07V874.26"/><path d="M979.77 788.07V833.4"/><path d="M979.77 843.8V873.9"/><path d="M988.59 788.07V833.4"/><path d="M988.59 843.8V873.9"/><path d="M997.41 788.07V873.37"/><path d="M1006.22 788.07V870.68"/><path d="M1015.04 770.33V864.23"/><path d="M1023.86 760.83V861.9"/><path d="M1032.67 766.92V861.9"/><path d="M1041.49 766.92V858.85"/><path d="M1050.31 766.92V859.57"/><path d="M1059.13 765.49V858.85"/><path d="M1067.94 745.78V858.85"/><path d="M1076.76 596.32V858.85"/><path d="M1085.58 729.83V858.85"/><path d="M1094.39 669.62V857.42"/><path d="M1103.21 699.9V855.09"/><path d="M1112.03 674.63V844.69"/><path d="M1120.84 675.17V843.8"/><path d="M1129.66 666.03V835.55"/><path d="M1138.48 664.6V835.55"/><path d="M1147.29 651.87V840.03"/><path d="M1156.11 695.42V834.12"/><path d="M1164.93 695.42V834.12"/><path d="M1173.75 681.08V835.55"/><path d="M1182.56 679.65V835.55"/><path d="M1191.38 679.65V836.27"/><path d="M1200.2 661.91V835.55"/><path d="M1209.01 661.91V834.84"/><path d="M1217.83 660.12V837.88"/><path d="M1226.65 661.91V832.69"/><path d="M1235.46 661.91V831.07"/><path d="M1244.28 710.47V831.79"/><path d="M1253.1 710.47V831.79"/><path d="M1261.92 726.96V831.79"/><path d="M1270.73 726.96V831.79"/><path d="M1279.55 726.96V831.79"/><path d="M1288.37 726.96V831.79"/><path d="M1297.18 726.96V831.79"/><path d="M1306 726.96V831.79"/></g><g stroke="#e63e22" stroke-width="2.45" stroke-opacity="0.4" fill="none"><path d="M785.8 830V897.92"/><path d="M794.62 850.07V860.46"/><path d="M794.62 870.86V893.79"/><path d="M803.43 839.77V843.08"/><path d="M803.43 870.86V893.79"/><path d="M812.25 837.53V889.31"/><path d="M821.07 768.8V880.71"/><path d="M829.88 842.01V886.27"/><path d="M838.7 835.11V871.04"/><path d="M847.52 838.06V873.19"/><path d="M856.34 863.33V884.83"/><path d="M865.15 861.18V882.5"/><path d="M873.97 861.18V883.22"/><path d="M882.79 861.18V883.22"/><path d="M891.6 858.85V883.22"/><path d="M900.42 858.85V881.07"/><path d="M909.24 858.85V877.67"/><path d="M918.05 859.57V876.23"/><path d="M926.87 832.96V834.12"/><path d="M926.87 859.57V877.31"/><path d="M935.69 859.57V877.31"/><path d="M944.51 836.54V866.02"/><path d="M944.51 872.83V878.38"/><path d="M953.32 835.46V866.02"/><path d="M953.32 871.04V876.23"/><path d="M962.14 828.66V866.02"/><path d="M962.14 871.04V876.23"/><path d="M970.96 831.16V874.26"/><path d="M979.77 830.98V833.4"/><path d="M979.77 843.8V873.9"/><path d="M988.59 830.98V833.4"/><path d="M988.59 843.8V873.9"/><path d="M997.41 830.72V873.37"/><path d="M1006.22 829.37V870.68"/><path d="M1015.04 817.28V864.23"/><path d="M1023.86 811.36V861.9"/><path d="M1032.67 814.41V861.9"/><path d="M1041.49 812.89V858.85"/><path d="M1050.31 813.24V859.57"/><path d="M1059.13 812.17V858.85"/><path d="M1067.94 802.31V858.85"/><path d="M1076.76 727.59V858.85"/><path d="M1085.58 794.34V858.85"/><path d="M1094.39 763.52V857.42"/><path d="M1103.21 777.49V855.09"/><path d="M1112.03 759.66V844.69"/><path d="M1120.84 759.48V843.8"/><path d="M1129.66 750.79V835.55"/><path d="M1138.48 750.08V835.55"/><path d="M1147.29 745.95V840.03"/><path d="M1156.11 764.77V834.12"/><path d="M1164.93 764.77V834.12"/><path d="M1173.75 758.32V835.55"/><path d="M1182.56 757.6V835.55"/><path d="M1191.38 757.96V836.27"/><path d="M1200.2 748.73V835.55"/><path d="M1209.01 748.37V834.84"/><path d="M1217.83 749V837.88"/><path d="M1226.65 747.3V832.69"/><path d="M1235.46 746.49V831.07"/><path d="M1244.28 771.13V831.79"/><path d="M1253.1 771.13V831.79"/><path d="M1261.92 779.38V831.79"/><path d="M1270.73 779.38V831.79"/><path d="M1279.55 779.38V831.79"/><path d="M1288.37 779.38V831.79"/><path d="M1297.18 779.38V831.79"/><path d="M1306 779.38V831.79"/></g></g><g clip-path="url(#clipm_p5)">
<path d="M785.8 914.62 L786.11 913.62 L786.42 912.61 L786.75 911.61 L787.09 910.6 L787.44 909.59 L787.8 908.59 L788.18 907.58 L788.57 906.58 L788.97 905.57 L789.39 904.56 L789.82 903.56 L790.26 902.55 L790.72 901.54 L791.2 900.54 L791.69 899.53 L792.2 898.52 L792.73 897.52 L793.28 896.51 L793.84 895.5 L794.43 894.5 L795.03 893.49 L795.66 892.48 L796.31 891.48 L796.98 890.47 L797.67 889.46 L798.39 888.45 L799.13 887.45 L799.9 886.44 L800.7 885.43 L801.52 884.42 L802.37 883.41 L803.25 882.4 L804.17 881.4 L805.11 880.39 L806.09 879.38 L807.1 878.37 L808.14 877.36 L809.22 876.35 L810.34 875.34 L811.5 874.33 L812.7 873.32 L813.94 872.31 L815.22 871.3 L816.55 870.28 L817.92 869.27 L819.34 868.26 L820.81 867.25 L822.33 866.24 L823.91 865.22 L825.54 864.21 L827.22 863.19 L828.96 862.18 L830.77 861.16 L832.64 860.15 L834.57 859.13 L836.57 858.12 L838.63 857.1 L840.77 856.08 L842.99 855.06 L845.28 854.04 L847.65 853.02 L850.1 851.99 L852.64 850.97 L855.27 849.95 L857.98 848.92 L860.79 847.89 L863.7 846.86 L866.71 845.83 L869.83 844.79 L873.05 843.76 L876.38 842.72 L879.83 841.68 L883.4 840.63 L887.1 839.58 L890.92 838.52 L894.87 837.47 L898.97 836.4 L903.2 835.33 L907.58 834.25 L912.11 833.16 L916.8 832.06 L921.66 830.95 L926.68 829.83 L931.87 828.69 L937.25 827.53 L942.81 826.35 L948.57 825.15 L954.52 823.91 L960.69 822.65 L967.06 821.35 L973.66 820.01 L980.48 818.64 L987.55 817.22 L994.86 815.77 L1002.42 814.28 L1010.24 812.75 L1018.34 811.19 L1026.72 809.6 L1035.38 807.98 L1044.35 806.35 L1053.63 804.69 L1063.23 803.02 L1073.17 801.33 L1083.45 799.63 L1094.09 797.92 L1105.09 796.2 L1116.48 794.47 L1128.26 792.74 L1140.46 791 L1153.07 789.25 L1166.13 787.5 L1179.63 785.74 L1193.61 783.99 L1208.07 782.23 L1223.03 780.46 L1238.51 778.69 L1254.53 776.93 L1271.1 775.16 L1288.25 773.38 L1306 771.61 L1306 795.11 L1288.25 796.14 L1271.1 797.17 L1254.53 798.2 L1238.51 799.23 L1223.03 800.27 L1208.07 801.31 L1193.61 802.35 L1179.63 803.39 L1166.13 804.44 L1153.07 805.49 L1140.46 806.54 L1128.26 807.6 L1116.48 808.67 L1105.09 809.75 L1094.09 810.83 L1083.45 811.92 L1073.17 813.02 L1063.23 814.13 L1053.63 815.26 L1044.35 816.41 L1035.38 817.57 L1026.72 818.76 L1018.34 819.97 L1010.24 821.21 L1002.42 822.48 L994.86 823.79 L987.55 825.14 L980.48 826.53 L973.66 827.95 L967.06 829.42 L960.69 830.92 L954.52 832.46 L948.57 834.03 L942.81 835.62 L937.25 837.25 L931.87 838.89 L926.68 840.55 L921.66 842.23 L916.8 843.92 L912.11 845.62 L907.58 847.34 L903.2 849.06 L898.97 850.79 L894.87 852.52 L890.92 854.27 L887.1 856.01 L883.4 857.76 L879.83 859.52 L876.38 861.28 L873.05 863.04 L869.83 864.81 L866.71 866.57 L863.7 868.34 L860.79 870.11 L857.98 871.89 L855.27 873.66 L852.64 875.44 L850.1 877.22 L847.65 879 L845.28 880.78 L842.99 882.56 L840.77 884.34 L838.63 886.12 L836.57 887.9 L834.57 889.69 L832.64 891.47 L830.77 893.26 L828.96 895.05 L827.22 896.83 L825.54 898.62 L823.91 900.41 L822.33 902.2 L820.81 903.99 L819.34 905.77 L817.92 907.56 L816.55 909.35 L815.22 911.14 L813.94 912.93 L812.7 914.72 L811.5 916.52 L810.34 918.31 L809.22 920.1 L808.14 921.89 L807.1 923.68 L806.09 925.47 L805.11 927.27 L804.17 929.06 L803.25 930.85 L802.37 932.65 L801.52 934.44 L800.7 936.23 L799.9 938.03 L799.13 939.82 L798.39 941.61 L797.67 943.41 L796.98 945.2 L796.31 946.99 L795.66 948.79 L795.03 950.58 L794.43 952.38 L793.84 954.17 L793.28 955.97 L792.73 957.76 L792.2 959.56 L791.69 961.35 L791.2 963.15 L790.72 964.94 L790.26 966.74 L789.82 968.53 L789.39 970.33 L788.97 972.12 L788.57 973.92 L788.18 975.71 L787.8 977.51 L787.44 979.3 L787.09 981.1 L786.75 982.9 L786.42 984.69 L786.11 986.49 L785.8 988.28Z" fill="#1f77b4" fill-opacity="0.15"/>
<path d="M785.8 855.6 L786.11 855.19 L786.42 854.79 L786.75 854.39 L787.09 853.98 L787.44 853.58 L787.8 853.18 L788.18 852.77 L788.57 852.37 L788.97 851.97 L789.39 851.56 L789.82 851.16 L790.26 850.75 L790.72 850.35 L791.2 849.95 L791.69 849.54 L792.2 849.14 L792.73 848.73 L793.28 848.33 L793.84 847.93 L794.43 847.52 L795.03 847.12 L795.66 846.71 L796.31 846.31 L796.98 845.9 L797.67 845.5 L798.39 845.09 L799.13 844.69 L799.9 844.28 L800.7 843.88 L801.52 843.47 L802.37 843.07 L803.25 842.66 L804.17 842.26 L805.11 841.85 L806.09 841.44 L807.1 841.04 L808.14 840.63 L809.22 840.23 L810.34 839.82 L811.5 839.41 L812.7 839.01 L813.94 838.6 L815.22 838.19 L816.55 837.78 L817.92 837.38 L819.34 836.97 L820.81 836.56 L822.33 836.15 L823.91 835.74 L825.54 835.33 L827.22 834.92 L828.96 834.51 L830.77 834.1 L832.64 833.69 L834.57 833.28 L836.57 832.87 L838.63 832.46 L840.77 832.05 L842.99 831.64 L845.28 831.23 L847.65 830.81 L850.1 830.4 L852.64 829.99 L855.27 829.57 L857.98 829.16 L860.79 828.74 L863.7 828.33 L866.71 827.91 L869.83 827.5 L873.05 827.08 L876.38 826.66 L879.83 826.24 L883.4 825.82 L887.1 825.4 L890.92 824.98 L894.87 824.56 L898.97 824.14 L903.2 823.72 L907.58 823.29 L912.11 822.87 L916.8 822.44 L921.66 822.01 L926.68 821.59 L931.87 821.16 L937.25 820.73 L942.81 820.3 L948.57 819.87 L954.52 819.43 L960.69 819 L967.06 818.57 L973.66 818.13 L980.48 817.69 L987.55 817.25 L994.86 816.81 L1002.42 816.36 L1010.24 815.91 L1018.34 815.46 L1026.72 815 L1035.38 814.53 L1044.35 814.07 L1053.63 813.6 L1063.23 813.12 L1073.17 812.65 L1083.45 812.17 L1094.09 811.69 L1105.09 811.21 L1116.48 810.72 L1128.26 810.24 L1140.46 809.75 L1153.07 809.26 L1166.13 808.77 L1179.63 808.27 L1193.61 807.78 L1208.07 807.29 L1223.03 806.79 L1238.51 806.29 L1254.53 805.8 L1271.1 805.3 L1288.25 804.8 L1306 804.3 L1306 809.1 L1288.25 809.47 L1271.1 809.85 L1254.53 810.22 L1238.51 810.6 L1223.03 810.98 L1208.07 811.36 L1193.61 811.74 L1179.63 812.12 L1166.13 812.5 L1153.07 812.89 L1140.46 813.27 L1128.26 813.66 L1116.48 814.05 L1105.09 814.44 L1094.09 814.83 L1083.45 815.22 L1073.17 815.62 L1063.23 816.02 L1053.63 816.42 L1044.35 816.83 L1035.38 817.24 L1026.72 817.65 L1018.34 818.06 L1010.24 818.48 L1002.42 818.91 L994.86 819.33 L987.55 819.77 L980.48 820.2 L973.66 820.64 L967.06 821.08 L960.69 821.52 L954.52 821.96 L948.57 822.4 L942.81 822.85 L937.25 823.29 L931.87 823.74 L926.68 824.18 L921.66 824.63 L916.8 825.08 L912.11 825.53 L907.58 825.98 L903.2 826.43 L898.97 826.88 L894.87 827.34 L890.92 827.79 L887.1 828.24 L883.4 828.7 L879.83 829.15 L876.38 829.61 L873.05 830.07 L869.83 830.53 L866.71 830.98 L863.7 831.44 L860.79 831.9 L857.98 832.36 L855.27 832.82 L852.64 833.28 L850.1 833.75 L847.65 834.21 L845.28 834.67 L842.99 835.13 L840.77 835.6 L838.63 836.06 L836.57 836.52 L834.57 836.99 L832.64 837.45 L830.77 837.92 L828.96 838.38 L827.22 838.85 L825.54 839.32 L823.91 839.78 L822.33 840.25 L820.81 840.71 L819.34 841.18 L817.92 841.65 L816.55 842.12 L815.22 842.58 L813.94 843.05 L812.7 843.52 L811.5 843.99 L810.34 844.46 L809.22 844.92 L808.14 845.39 L807.1 845.86 L806.09 846.33 L805.11 846.8 L804.17 847.27 L803.25 847.74 L802.37 848.21 L801.52 848.68 L800.7 849.15 L799.9 849.62 L799.13 850.09 L798.39 850.56 L797.67 851.03 L796.98 851.5 L796.31 851.97 L795.66 852.44 L795.03 852.91 L794.43 853.38 L793.84 853.85 L793.28 854.32 L792.73 854.79 L792.2 855.26 L791.69 855.73 L791.2 856.2 L790.72 856.68 L790.26 857.15 L789.82 857.62 L789.39 858.09 L788.97 858.56 L788.57 859.03 L788.18 859.5 L787.8 859.98 L787.44 860.45 L787.09 860.92 L786.75 861.39 L786.42 861.86 L786.11 862.33 L785.8 862.81Z" fill="#ff7f0e" fill-opacity="0.15"/>
<path d="M785.8 914 L786.11 913.33 L786.42 912.66 L786.75 911.98 L787.09 911.31 L787.44 910.63 L787.8 909.96 L788.18 909.29 L788.57 908.61 L788.97 907.94 L789.39 907.26 L789.82 906.59 L790.26 905.91 L790.72 905.24 L791.2 904.57 L791.69 903.89 L792.2 903.22 L792.73 902.54 L793.28 901.87 L793.84 901.19 L794.43 900.52 L795.03 899.84 L795.66 899.17 L796.31 898.49 L796.98 897.82 L797.67 897.15 L798.39 896.47 L799.13 895.79 L799.9 895.12 L800.7 894.44 L801.52 893.77 L802.37 893.09 L803.25 892.42 L804.17 891.74 L805.11 891.07 L806.09 890.39 L807.1 889.72 L808.14 889.04 L809.22 888.36 L810.34 887.69 L811.5 887.01 L812.7 886.33 L813.94 885.66 L815.22 884.98 L816.55 884.3 L817.92 883.63 L819.34 882.95 L820.81 882.27 L822.33 881.59 L823.91 880.91 L825.54 880.24 L827.22 879.56 L828.96 878.88 L830.77 878.2 L832.64 877.52 L834.57 876.84 L836.57 876.16 L838.63 875.48 L840.77 874.8 L842.99 874.11 L845.28 873.43 L847.65 872.75 L850.1 872.07 L852.64 871.38 L855.27 870.7 L857.98 870.01 L860.79 869.32 L863.7 868.64 L866.71 867.95 L869.83 867.26 L873.05 866.56 L876.38 865.87 L879.83 865.18 L883.4 864.48 L887.1 863.78 L890.92 863.08 L894.87 862.37 L898.97 861.66 L903.2 860.95 L907.58 860.24 L912.11 859.51 L916.8 858.79 L921.66 858.05 L926.68 857.31 L931.87 856.55 L937.25 855.79 L942.81 855.01 L948.57 854.22 L954.52 853.41 L960.69 852.58 L967.06 851.73 L973.66 850.85 L980.48 849.95 L987.55 849.03 L994.86 848.07 L1002.42 847.1 L1010.24 846.1 L1018.34 845.08 L1026.72 844.04 L1035.38 842.99 L1044.35 841.92 L1053.63 840.85 L1063.23 839.76 L1073.17 838.66 L1083.45 837.56 L1094.09 836.45 L1105.09 835.33 L1116.48 834.21 L1128.26 833.08 L1140.46 831.96 L1153.07 830.82 L1166.13 829.69 L1179.63 828.55 L1193.61 827.41 L1208.07 826.27 L1223.03 825.13 L1238.51 823.99 L1254.53 822.84 L1271.1 821.7 L1288.25 820.55 L1306 819.4 L1306 833.8 L1288.25 834.49 L1271.1 835.18 L1254.53 835.86 L1238.51 836.55 L1223.03 837.24 L1208.07 837.94 L1193.61 838.63 L1179.63 839.33 L1166.13 840.02 L1153.07 840.72 L1140.46 841.43 L1128.26 842.13 L1116.48 842.84 L1105.09 843.56 L1094.09 844.27 L1083.45 845 L1073.17 845.73 L1063.23 846.46 L1053.63 847.21 L1044.35 847.97 L1035.38 848.73 L1026.72 849.51 L1018.34 850.31 L1010.24 851.13 L1002.42 851.96 L994.86 852.82 L987.55 853.7 L980.48 854.61 L973.66 855.55 L967.06 856.5 L960.69 857.49 L954.52 858.49 L948.57 859.52 L942.81 860.56 L937.25 861.61 L931.87 862.68 L926.68 863.77 L921.66 864.86 L916.8 865.96 L912.11 867.06 L907.58 868.17 L903.2 869.29 L898.97 870.41 L894.87 871.54 L890.92 872.67 L887.1 873.8 L883.4 874.94 L879.83 876.07 L876.38 877.21 L873.05 878.35 L869.83 879.5 L866.71 880.64 L863.7 881.79 L860.79 882.93 L857.98 884.08 L855.27 885.23 L852.64 886.38 L850.1 887.53 L847.65 888.68 L845.28 889.83 L842.99 890.98 L840.77 892.13 L838.63 893.29 L836.57 894.44 L834.57 895.59 L832.64 896.75 L830.77 897.9 L828.96 899.06 L827.22 900.21 L825.54 901.37 L823.91 902.52 L822.33 903.68 L820.81 904.84 L819.34 905.99 L817.92 907.15 L816.55 908.31 L815.22 909.46 L813.94 910.62 L812.7 911.78 L811.5 912.94 L810.34 914.09 L809.22 915.25 L808.14 916.41 L807.1 917.57 L806.09 918.73 L805.11 919.88 L804.17 921.04 L803.25 922.2 L802.37 923.36 L801.52 924.52 L800.7 925.68 L799.9 926.84 L799.13 928 L798.39 929.16 L797.67 930.32 L796.98 931.47 L796.31 932.63 L795.66 933.79 L795.03 934.95 L794.43 936.11 L793.84 937.27 L793.28 938.43 L792.73 939.59 L792.2 940.75 L791.69 941.91 L791.2 943.07 L790.72 944.23 L790.26 945.39 L789.82 946.55 L789.39 947.71 L788.97 948.87 L788.57 950.03 L788.18 951.19 L787.8 952.35 L787.44 953.51 L787.09 954.67 L786.75 955.83 L786.42 956.99 L786.11 958.15 L785.8 959.31Z" fill="#2ca02c" fill-opacity="0.15"/>
<path d="M785.8 951.45 L786.03 950.4 L786.26 949.35 L786.5 948.3 L786.75 947.25 L787 946.2 L787.26 945.15 L787.53 944.1 L787.8 943.05 L788.08 942 L788.37 940.95 L788.67 939.9 L788.97 938.85 L789.28 937.8 L789.6 936.74 L789.93 935.69 L790.26 934.64 L790.61 933.59 L790.96 932.54 L791.32 931.49 L791.69 930.44 L792.07 929.39 L792.46 928.34 L792.87 927.29 L793.28 926.24 L793.7 925.19 L794.13 924.14 L794.58 923.09 L795.03 922.04 L795.5 920.99 L795.98 919.94 L796.47 918.89 L796.98 917.83 L797.5 916.78 L798.03 915.73 L798.57 914.68 L799.13 913.63 L799.71 912.58 L800.3 911.53 L800.9 910.48 L801.52 909.43 L802.16 908.38 L802.81 907.33 L803.48 906.28 L804.17 905.23 L804.87 904.18 L805.59 903.13 L806.34 902.08 L807.1 901.03 L807.88 899.97 L808.68 898.92 L809.5 897.87 L810.34 896.82 L811.21 895.77 L812.09 894.72 L813 893.67 L813.94 892.62 L814.9 891.57 L815.88 890.52 L816.89 889.47 L817.92 888.42 L818.98 887.37 L820.07 886.32 L821.19 885.27 L822.33 884.22 L823.51 883.17 L824.71 882.11 L825.95 881.06 L827.22 880.01 L828.52 878.96 L829.86 877.91 L831.23 876.86 L832.64 875.81 L834.08 874.76 L835.56 873.71 L837.08 872.66 L838.63 871.61 L840.23 870.56 L841.87 869.51 L843.55 868.46 L845.28 867.41 L847.05 866.36 L848.87 865.31 L850.73 864.26 L852.64 863.2 L854.6 862.15 L856.61 861.1 L858.68 860.05 L860.79 859 L862.97 857.95 L865.2 856.9 L867.48 855.85 L869.83 854.8 L872.23 853.75 L874.7 852.7 L877.24 851.65 L879.83 850.6 L882.5 849.55 L885.24 848.5 L888.04 847.45 L890.92 846.4 L893.87 845.34 L896.9 844.29 L900.01 843.24 L903.2 842.19 L906.47 841.14 L909.83 840.09 L913.27 839.04 L916.8 837.99 L920.43 836.94 L924.15 835.89 L927.96 834.84 L931.87 833.79 L935.89 832.74 L940.01 831.69 L944.23 830.64 L948.57 829.59 L953.01 828.54 L957.58 827.49 L962.26 826.43 L967.06 825.38 L971.99 824.33 L977.04 823.28 L982.23 822.23 L987.55 821.18 L993.01 820.13 L998.6 819.08 L1004.35 818.03 L1010.24 816.98 L1016.29 815.93 L1022.49 814.88 L1028.85 813.83 L1035.38 812.78 L1042.08 811.73 L1048.95 810.68 L1056 809.63 L1063.23 808.57 L1070.65 807.52 L1078.27 806.47 L1086.07 805.42 L1094.09 804.37 L1102.31 803.32 L1110.74 802.27 L1119.39 801.22 L1128.26 800.17 L1137.37 799.12 L1146.71 798.07 L1156.29 797.02 L1166.13 795.97 L1176.21 794.92 L1186.56 793.87 L1197.18 792.82 L1208.07 791.77 L1219.24 790.71 L1230.7 789.66 L1242.46 788.61 L1254.53 787.56 L1266.91 786.51 L1279.61 785.46 L1292.63 784.41 L1306 783.36" fill="none" stroke="#1f77b4" stroke-width="2.8" stroke-linecap="butt" stroke-linejoin="round"/>
<path d="M785.8 859.2 L786.03 858.87 L786.26 858.54 L786.5 858.22 L786.75 857.89 L787 857.56 L787.26 857.23 L787.53 856.9 L787.8 856.58 L788.08 856.25 L788.37 855.92 L788.67 855.59 L788.97 855.26 L789.28 854.93 L789.6 854.61 L789.93 854.28 L790.26 853.95 L790.61 853.62 L790.96 853.29 L791.32 852.97 L791.69 852.64 L792.07 852.31 L792.46 851.98 L792.87 851.65 L793.28 851.33 L793.7 851 L794.13 850.67 L794.58 850.34 L795.03 850.01 L795.5 849.68 L795.98 849.36 L796.47 849.03 L796.98 848.7 L797.5 848.37 L798.03 848.04 L798.57 847.72 L799.13 847.39 L799.71 847.06 L800.3 846.73 L800.9 846.4 L801.52 846.07 L802.16 845.75 L802.81 845.42 L803.48 845.09 L804.17 844.76 L804.87 844.43 L805.59 844.11 L806.34 843.78 L807.1 843.45 L807.88 843.12 L808.68 842.79 L809.5 842.47 L810.34 842.14 L811.21 841.81 L812.09 841.48 L813 841.15 L813.94 840.82 L814.9 840.5 L815.88 840.17 L816.89 839.84 L817.92 839.51 L818.98 839.18 L820.07 838.86 L821.19 838.53 L822.33 838.2 L823.51 837.87 L824.71 837.54 L825.95 837.21 L827.22 836.89 L828.52 836.56 L829.86 836.23 L831.23 835.9 L832.64 835.57 L834.08 835.25 L835.56 834.92 L837.08 834.59 L838.63 834.26 L840.23 833.93 L841.87 833.61 L843.55 833.28 L845.28 832.95 L847.05 832.62 L848.87 832.29 L850.73 831.96 L852.64 831.64 L854.6 831.31 L856.61 830.98 L858.68 830.65 L860.79 830.32 L862.97 830 L865.2 829.67 L867.48 829.34 L869.83 829.01 L872.23 828.68 L874.7 828.35 L877.24 828.03 L879.83 827.7 L882.5 827.37 L885.24 827.04 L888.04 826.71 L890.92 826.39 L893.87 826.06 L896.9 825.73 L900.01 825.4 L903.2 825.07 L906.47 824.75 L909.83 824.42 L913.27 824.09 L916.8 823.76 L920.43 823.43 L924.15 823.1 L927.96 822.78 L931.87 822.45 L935.89 822.12 L940.01 821.79 L944.23 821.46 L948.57 821.14 L953.01 820.81 L957.58 820.48 L962.26 820.15 L967.06 819.82 L971.99 819.49 L977.04 819.17 L982.23 818.84 L987.55 818.51 L993.01 818.18 L998.6 817.85 L1004.35 817.53 L1010.24 817.2 L1016.29 816.87 L1022.49 816.54 L1028.85 816.21 L1035.38 815.89 L1042.08 815.56 L1048.95 815.23 L1056 814.9 L1063.23 814.57 L1070.65 814.24 L1078.27 813.92 L1086.07 813.59 L1094.09 813.26 L1102.31 812.93 L1110.74 812.6 L1119.39 812.28 L1128.26 811.95 L1137.37 811.62 L1146.71 811.29 L1156.29 810.96 L1166.13 810.63 L1176.21 810.31 L1186.56 809.98 L1197.18 809.65 L1208.07 809.32 L1219.24 808.99 L1230.7 808.67 L1242.46 808.34 L1254.53 808.01 L1266.91 807.68 L1279.61 807.35 L1292.63 807.02 L1306 806.7" fill="none" stroke="#ff7f0e" stroke-width="2.8" stroke-linecap="butt" stroke-linejoin="round"/>
<path d="M785.8 936.66 L786.03 935.97 L786.26 935.28 L786.5 934.59 L786.75 933.91 L787 933.22 L787.26 932.53 L787.53 931.84 L787.8 931.16 L788.08 930.47 L788.37 929.78 L788.67 929.09 L788.97 928.4 L789.28 927.72 L789.6 927.03 L789.93 926.34 L790.26 925.65 L790.61 924.96 L790.96 924.28 L791.32 923.59 L791.69 922.9 L792.07 922.21 L792.46 921.53 L792.87 920.84 L793.28 920.15 L793.7 919.46 L794.13 918.77 L794.58 918.09 L795.03 917.4 L795.5 916.71 L795.98 916.02 L796.47 915.34 L796.98 914.65 L797.5 913.96 L798.03 913.27 L798.57 912.58 L799.13 911.9 L799.71 911.21 L800.3 910.52 L800.9 909.83 L801.52 909.14 L802.16 908.46 L802.81 907.77 L803.48 907.08 L804.17 906.39 L804.87 905.71 L805.59 905.02 L806.34 904.33 L807.1 903.64 L807.88 902.95 L808.68 902.27 L809.5 901.58 L810.34 900.89 L811.21 900.2 L812.09 899.51 L813 898.83 L813.94 898.14 L814.9 897.45 L815.88 896.76 L816.89 896.08 L817.92 895.39 L818.98 894.7 L820.07 894.01 L821.19 893.32 L822.33 892.64 L823.51 891.95 L824.71 891.26 L825.95 890.57 L827.22 889.88 L828.52 889.2 L829.86 888.51 L831.23 887.82 L832.64 887.13 L834.08 886.45 L835.56 885.76 L837.08 885.07 L838.63 884.38 L840.23 883.69 L841.87 883.01 L843.55 882.32 L845.28 881.63 L847.05 880.94 L848.87 880.25 L850.73 879.57 L852.64 878.88 L854.6 878.19 L856.61 877.5 L858.68 876.82 L860.79 876.13 L862.97 875.44 L865.2 874.75 L867.48 874.06 L869.83 873.38 L872.23 872.69 L874.7 872 L877.24 871.31 L879.83 870.62 L882.5 869.94 L885.24 869.25 L888.04 868.56 L890.92 867.87 L893.87 867.19 L896.9 866.5 L900.01 865.81 L903.2 865.12 L906.47 864.43 L909.83 863.75 L913.27 863.06 L916.8 862.37 L920.43 861.68 L924.15 860.99 L927.96 860.31 L931.87 859.62 L935.89 858.93 L940.01 858.24 L944.23 857.56 L948.57 856.87 L953.01 856.18 L957.58 855.49 L962.26 854.8 L967.06 854.12 L971.99 853.43 L977.04 852.74 L982.23 852.05 L987.55 851.37 L993.01 850.68 L998.6 849.99 L1004.35 849.3 L1010.24 848.61 L1016.29 847.93 L1022.49 847.24 L1028.85 846.55 L1035.38 845.86 L1042.08 845.17 L1048.95 844.49 L1056 843.8 L1063.23 843.11 L1070.65 842.42 L1078.27 841.74 L1086.07 841.05 L1094.09 840.36 L1102.31 839.67 L1110.74 838.98 L1119.39 838.3 L1128.26 837.61 L1137.37 836.92 L1146.71 836.23 L1156.29 835.54 L1166.13 834.86 L1176.21 834.17 L1186.56 833.48 L1197.18 832.79 L1208.07 832.11 L1219.24 831.42 L1230.7 830.73 L1242.46 830.04 L1254.53 829.35 L1266.91 828.67 L1279.61 827.98 L1292.63 827.29 L1306 826.6" fill="none" stroke="#2ca02c" stroke-width="2.8" stroke-linecap="butt" stroke-linejoin="round"/>
</g>
<rect x="785.8" y="576" width="520.2" height="445.8" fill="none" stroke="#666666" stroke-width="1.3"/>
<g stroke="#666666" stroke-width="1.2"><path d="M865.15 1021.8v5"/><path d="M953.32 1021.8v5"/><path d="M1041.49 1021.8v5"/><path d="M1129.66 1021.8v5"/><path d="M1217.83 1021.8v5"/><path d="M1306 1021.8v5"/><path d="M785.8 991.1h-4.8"/><path d="M785.8 901.5h-4.8"/><path d="M785.8 811.9h-4.8"/><path d="M785.8 722.3h-4.8"/><path d="M785.8 632.7h-4.8"/></g>
<g font-size="21.8" fill="#000"><text x="865.15" y="1046.5" text-anchor="middle">500</text><text x="953.32" y="1046.5" text-anchor="middle">1000</text><text x="1041.49" y="1046.5" text-anchor="middle">1500</text><text x="1129.66" y="1046.5" text-anchor="middle">2000</text><text x="1217.83" y="1046.5" text-anchor="middle">2500</text><text x="1306" y="1046.5" text-anchor="middle">3000</text><text x="776.3" y="998.5" text-anchor="end">-50</text><text x="776.3" y="908.9" text-anchor="end">0</text><text x="776.3" y="819.3" text-anchor="end">50</text><text x="776.3" y="729.7" text-anchor="end">100</text><text x="776.3" y="640.1" text-anchor="end">150</text></g>
<text x="1046.95" y="1081" font-size="24.7" text-anchor="middle" fill="#000">Number of fossil individuals</text>
<text transform="translate(730.6 793) rotate(-90)" font-size="24.7" text-anchor="middle" fill="#000">Number of families</text>
<rect x="1114.85" y="588" width="178.4" height="112.9" rx="4" ry="4" fill="#fff" fill-opacity="0.8" stroke="#d0d0d0" stroke-opacity="0.8" stroke-width="1.3"/>
<circle cx="1148.9" cy="609.2" r="7.8" fill="#1f77b4" fill-opacity="0.8"/>
<text x="1192.64" y="615.96" font-size="24.2" fill="#262626">Beigou1</text>
<circle cx="1148.9" cy="644.6" r="7.8" fill="#ff7f0e" fill-opacity="0.8"/>
<text x="1192.64" y="651.1" font-size="24.2" fill="#262626">Beigou2</text>
<circle cx="1148.9" cy="679.7" r="7.8" fill="#2ca02c" fill-opacity="0.8"/>
<text x="1192.64" y="686.2" font-size="24.2" fill="#262626">Beigou3</text>
</g>
<g id="p6">
<clipPath id="clip_p6"><rect x="1453.2" y="573" width="523.7" height="449.8"/></clipPath>
<clipPath id="clipm_p6"><rect x="1453.2" y="573" width="524.3" height="449.8"/></clipPath>
<clipPath id="clipb_p6"><rect x="1452.05" y="573" width="526" height="449.8"/></clipPath>
<g clip-path="url(#clipm_p6)">
<g fill="#1f77b4" fill-opacity="0.8"><circle cx="1453.2" cy="995.14" r="2.7"/><circle cx="1462.08" cy="981.27" r="2.7"/><circle cx="1470.95" cy="976.3" r="2.7"/><circle cx="1479.83" cy="965.78" r="2.7"/><circle cx="1488.71" cy="956.87" r="2.7"/><circle cx="1497.58" cy="945.92" r="2.7"/><circle cx="1506.46" cy="910.27" r="2.7"/><circle cx="1515.33" cy="908.81" r="2.7"/><circle cx="1524.21" cy="908.81" r="2.7"/><circle cx="1533.09" cy="929.41" r="2.7"/><circle cx="1541.96" cy="927.66" r="2.7"/><circle cx="1550.84" cy="921.81" r="2.7"/><circle cx="1559.72" cy="920.35" r="2.7"/><circle cx="1568.59" cy="917.43" r="2.7"/><circle cx="1577.47" cy="915.97" r="2.7"/><circle cx="1586.34" cy="900.49" r="2.7"/><circle cx="1595.22" cy="877.26" r="2.7"/><circle cx="1604.1" cy="898.44" r="2.7"/><circle cx="1612.97" cy="909.54" r="2.7"/><circle cx="1621.85" cy="920.35" r="2.7"/><circle cx="1630.73" cy="920.35" r="2.7"/><circle cx="1639.6" cy="917.43" r="2.7"/><circle cx="1648.48" cy="917.43" r="2.7"/><circle cx="1657.35" cy="923.13" r="2.7"/><circle cx="1666.23" cy="931.31" r="2.7"/><circle cx="1675.11" cy="929.85" r="2.7"/><circle cx="1683.98" cy="929.85" r="2.7"/><circle cx="1692.86" cy="929.85" r="2.7"/><circle cx="1701.74" cy="932.77" r="2.7"/><circle cx="1710.61" cy="932.33" r="2.7"/><circle cx="1719.49" cy="932.33" r="2.7"/><circle cx="1728.36" cy="932.33" r="2.7"/><circle cx="1737.24" cy="931.75" r="2.7"/><circle cx="1746.12" cy="927.8" r="2.7"/><circle cx="1754.99" cy="932.04" r="2.7"/><circle cx="1763.87" cy="929.12" r="2.7"/><circle cx="1772.75" cy="931.75" r="2.7"/><circle cx="1781.62" cy="929.12" r="2.7"/><circle cx="1790.5" cy="926.78" r="2.7"/><circle cx="1799.37" cy="930.29" r="2.7"/><circle cx="1808.25" cy="929.41" r="2.7"/><circle cx="1817.13" cy="927.8" r="2.7"/><circle cx="1826" cy="929.12" r="2.7"/><circle cx="1834.88" cy="929.12" r="2.7"/><circle cx="1843.76" cy="929.12" r="2.7"/><circle cx="1852.63" cy="926.34" r="2.7"/><circle cx="1861.51" cy="927.66" r="2.7"/><circle cx="1870.38" cy="927.22" r="2.7"/><circle cx="1879.26" cy="928.39" r="2.7"/><circle cx="1888.14" cy="927.8" r="2.7"/><circle cx="1897.01" cy="927.8" r="2.7"/><circle cx="1905.89" cy="927.8" r="2.7"/><circle cx="1914.77" cy="927.8" r="2.7"/><circle cx="1923.64" cy="926.05" r="2.7"/><circle cx="1932.52" cy="923.86" r="2.7"/><circle cx="1941.39" cy="923.86" r="2.7"/><circle cx="1950.27" cy="924.88" r="2.7"/><circle cx="1959.15" cy="925.76" r="2.7"/><circle cx="1968.02" cy="925.76" r="2.7"/><circle cx="1976.9" cy="926.78" r="2.7"/></g>
<g fill="#ff7f0e" fill-opacity="0.8"><circle cx="1453.2" cy="1001.13" r="2.7"/><circle cx="1462.08" cy="999.67" r="2.7"/><circle cx="1470.95" cy="999.67" r="2.7"/><circle cx="1479.83" cy="990.91" r="2.7"/><circle cx="1488.71" cy="920.35" r="2.7"/><circle cx="1497.58" cy="873.31" r="2.7"/><circle cx="1506.46" cy="873.31" r="2.7"/><circle cx="1515.33" cy="862.94" r="2.7"/><circle cx="1524.21" cy="870.39" r="2.7"/><circle cx="1533.09" cy="826.57" r="2.7"/><circle cx="1541.96" cy="873.61" r="2.7"/><circle cx="1550.84" cy="895.81" r="2.7"/><circle cx="1559.72" cy="871.12" r="2.7"/><circle cx="1568.59" cy="884.85" r="2.7"/><circle cx="1577.47" cy="882.37" r="2.7"/><circle cx="1586.34" cy="872.15" r="2.7"/><circle cx="1595.22" cy="873.9" r="2.7"/><circle cx="1604.1" cy="888.21" r="2.7"/><circle cx="1612.97" cy="887.05" r="2.7"/><circle cx="1621.85" cy="887.05" r="2.7"/><circle cx="1630.73" cy="887.05" r="2.7"/><circle cx="1639.6" cy="887.05" r="2.7"/><circle cx="1648.48" cy="887.05" r="2.7"/><circle cx="1657.35" cy="882.37" r="2.7"/><circle cx="1666.23" cy="872.15" r="2.7"/><circle cx="1675.11" cy="879.01" r="2.7"/><circle cx="1683.98" cy="874.63" r="2.7"/><circle cx="1692.86" cy="874.63" r="2.7"/><circle cx="1701.74" cy="874.63" r="2.7"/><circle cx="1710.61" cy="874.63" r="2.7"/><circle cx="1719.49" cy="873.31" r="2.7"/><circle cx="1728.36" cy="877.99" r="2.7"/><circle cx="1737.24" cy="882.37" r="2.7"/><circle cx="1746.12" cy="883.83" r="2.7"/><circle cx="1754.99" cy="887.78" r="2.7"/><circle cx="1763.87" cy="886.75" r="2.7"/><circle cx="1772.75" cy="883.25" r="2.7"/><circle cx="1781.62" cy="887.05" r="2.7"/><circle cx="1790.5" cy="885.29" r="2.7"/><circle cx="1799.37" cy="885.29" r="2.7"/><circle cx="1808.25" cy="888.51" r="2.7"/><circle cx="1817.13" cy="888.51" r="2.7"/><circle cx="1826" cy="888.51" r="2.7"/><circle cx="1834.88" cy="892.3" r="2.7"/><circle cx="1843.76" cy="892.3" r="2.7"/><circle cx="1852.63" cy="887.78" r="2.7"/><circle cx="1861.51" cy="887.78" r="2.7"/><circle cx="1870.38" cy="883.98" r="2.7"/><circle cx="1879.26" cy="883.98" r="2.7"/><circle cx="1888.14" cy="883.98" r="2.7"/><circle cx="1897.01" cy="882.81" r="2.7"/><circle cx="1905.89" cy="886.32" r="2.7"/><circle cx="1914.77" cy="882.81" r="2.7"/><circle cx="1923.64" cy="882.81" r="2.7"/><circle cx="1932.52" cy="887.78" r="2.7"/><circle cx="1941.39" cy="883.25" r="2.7"/><circle cx="1950.27" cy="873.61" r="2.7"/><circle cx="1959.15" cy="869.22" r="2.7"/><circle cx="1968.02" cy="873.75" r="2.7"/><circle cx="1976.9" cy="872.15" r="2.7"/></g>
<g fill="#2ca02c" fill-opacity="0.8"><circle cx="1453.2" cy="916.99" r="2.7"/><circle cx="1462.08" cy="940.8" r="2.7"/><circle cx="1470.95" cy="935.69" r="2.7"/><circle cx="1479.83" cy="932.04" r="2.7"/><circle cx="1488.71" cy="934.38" r="2.7"/><circle cx="1497.58" cy="926.93" r="2.7"/><circle cx="1506.46" cy="929.85" r="2.7"/><circle cx="1515.33" cy="929.12" r="2.7"/><circle cx="1524.21" cy="920.35" r="2.7"/><circle cx="1533.09" cy="923.27" r="2.7"/><circle cx="1541.96" cy="928.39" r="2.7"/><circle cx="1550.84" cy="923.27" r="2.7"/><circle cx="1559.72" cy="920.79" r="2.7"/><circle cx="1568.59" cy="921.52" r="2.7"/><circle cx="1577.47" cy="917.87" r="2.7"/><circle cx="1586.34" cy="924.88" r="2.7"/><circle cx="1595.22" cy="922.25" r="2.7"/><circle cx="1604.1" cy="923.86" r="2.7"/><circle cx="1612.97" cy="921.52" r="2.7"/><circle cx="1621.85" cy="916.26" r="2.7"/><circle cx="1630.73" cy="918.6" r="2.7"/><circle cx="1639.6" cy="913.34" r="2.7"/><circle cx="1648.48" cy="918.89" r="2.7"/><circle cx="1657.35" cy="911.59" r="2.7"/><circle cx="1666.23" cy="908.67" r="2.7"/><circle cx="1675.11" cy="907.2" r="2.7"/><circle cx="1683.98" cy="905.74" r="2.7"/><circle cx="1692.86" cy="902.82" r="2.7"/><circle cx="1701.74" cy="896.83" r="2.7"/><circle cx="1710.61" cy="900.78" r="2.7"/><circle cx="1719.49" cy="902.09" r="2.7"/><circle cx="1728.36" cy="903.55" r="2.7"/><circle cx="1737.24" cy="904.28" r="2.7"/><circle cx="1746.12" cy="905.01" r="2.7"/><circle cx="1754.99" cy="905.01" r="2.7"/><circle cx="1763.87" cy="904.28" r="2.7"/><circle cx="1772.75" cy="903.55" r="2.7"/><circle cx="1781.62" cy="904.28" r="2.7"/><circle cx="1790.5" cy="899.32" r="2.7"/><circle cx="1799.37" cy="900.49" r="2.7"/><circle cx="1808.25" cy="899.32" r="2.7"/><circle cx="1817.13" cy="897.56" r="2.7"/><circle cx="1826" cy="895.81" r="2.7"/><circle cx="1834.88" cy="894.5" r="2.7"/><circle cx="1843.76" cy="896.1" r="2.7"/><circle cx="1852.63" cy="896.1" r="2.7"/><circle cx="1861.51" cy="896.1" r="2.7"/><circle cx="1870.38" cy="895.23" r="2.7"/><circle cx="1879.26" cy="896.1" r="2.7"/><circle cx="1888.14" cy="894.5" r="2.7"/><circle cx="1897.01" cy="896.83" r="2.7"/><circle cx="1905.89" cy="896.83" r="2.7"/><circle cx="1914.77" cy="896.83" r="2.7"/><circle cx="1923.64" cy="896.83" r="2.7"/><circle cx="1932.52" cy="892.3" r="2.7"/><circle cx="1941.39" cy="893.77" r="2.7"/><circle cx="1950.27" cy="895.23" r="2.7"/><circle cx="1959.15" cy="892.3" r="2.7"/><circle cx="1968.02" cy="892.01" r="2.7"/><circle cx="1976.9" cy="892.3" r="2.7"/></g>
</g><g clip-path="url(#clipb_p6)"><g stroke="#e63e22" stroke-width="2.45" stroke-opacity="0.86" fill="none"><path d="M1453.2 733.52V1001.13"/><path d="M1462.08 868.64V999.67"/><path d="M1470.95 892.3V999.67"/><path d="M1479.83 887.05V993.68"/><path d="M1488.71 804.07V971.92"/><path d="M1497.58 622.2V966.66"/><path d="M1506.46 661.21V951.61"/><path d="M1515.33 673.62V951.03"/><path d="M1524.21 714.96V951.03"/><path d="M1533.09 594.01V953.07"/><path d="M1541.96 767.26V951.61"/><path d="M1550.84 831.1V948.55"/><path d="M1559.72 784.21V938.03"/><path d="M1568.59 828.18V942.56"/><path d="M1577.47 825.11V942.56"/><path d="M1586.34 783.77V937.3"/><path d="M1595.22 732.05V930.58"/><path d="M1604.1 785.81V931.31"/><path d="M1612.97 836.36V934.38"/><path d="M1621.85 840.88V934.38"/><path d="M1630.73 840.88V937.3"/><path d="M1639.6 837.82V934.38"/><path d="M1648.48 837.82V934.38"/><path d="M1657.35 828.47V938.03"/><path d="M1666.23 798.52V940.36"/><path d="M1675.11 818.39V938.03"/><path d="M1683.98 809.33V938.03"/><path d="M1692.86 809.33V938.03"/><path d="M1701.74 809.33V938.03"/><path d="M1710.61 809.33V938.03"/><path d="M1719.49 808.16V938.03"/><path d="M1728.36 822.48V938.03"/><path d="M1737.24 834.6V936.57"/><path d="M1746.12 834.6V935.11"/><path d="M1754.99 912.61V935.84"/><path d="M1754.99 849.94V905.01"/><path d="M1763.87 912.61V934.38"/><path d="M1763.87 845.12V905.01"/><path d="M1772.75 912.61V935.11"/><path d="M1772.75 838.55V905.01"/><path d="M1781.62 913.05V933.65"/><path d="M1781.62 848.33V905.01"/><path d="M1790.5 843.81V932.77"/><path d="M1799.37 914.07V933.65"/><path d="M1799.37 843.81V908.67"/><path d="M1808.25 910.13V933.5"/><path d="M1808.25 853.16V907.2"/><path d="M1817.13 910.13V931.75"/><path d="M1817.13 855.2V905.74"/><path d="M1826 914.8V931.31"/><path d="M1826 855.2V902.82"/><path d="M1834.88 914.8V931.31"/><path d="M1834.88 865.72V902.82"/><path d="M1843.76 914.8V931.31"/><path d="M1843.76 865.72V902.82"/><path d="M1852.63 910.27V931.31"/><path d="M1852.63 854.32V902.82"/><path d="M1861.51 914.8V931.31"/><path d="M1861.51 854.32V902.82"/><path d="M1870.38 913.34V930.58"/><path d="M1870.38 848.63V901.36"/><path d="M1879.26 916.26V930.58"/><path d="M1879.26 848.63V901.36"/><path d="M1888.14 915.53V930.58"/><path d="M1888.14 848.63V901.36"/><path d="M1897.01 915.53V930.58"/><path d="M1897.01 844.39V901.36"/><path d="M1905.89 915.53V930.58"/><path d="M1905.89 853.16V901.36"/><path d="M1914.77 915.53V930.58"/><path d="M1914.77 847.17V902.82"/><path d="M1923.64 911.88V929.12"/><path d="M1923.64 847.17V901.36"/><path d="M1932.52 907.35V927.66"/><path d="M1932.52 858.85V899.9"/><path d="M1941.39 907.35V927.66"/><path d="M1941.39 850.23V899.9"/><path d="M1950.27 911.88V927.66"/><path d="M1950.27 827.3V899.9"/><path d="M1959.15 915.53V927.66"/><path d="M1959.15 811.81V899.9"/><path d="M1968.02 915.53V927.66"/><path d="M1968.02 826.86V899.9"/><path d="M1976.9 915.97V927.66"/><path d="M1976.9 819.12V899.9"/></g><g stroke="#e63e22" stroke-width="2.45" stroke-opacity="0.4" fill="none"><path d="M1453.2 867.32V1001.13"/><path d="M1462.08 934.16V999.67"/><path d="M1470.95 945.99V999.67"/><path d="M1479.83 940.36V993.68"/><path d="M1488.71 888V971.92"/><path d="M1497.58 794.43V966.66"/><path d="M1506.46 806.41V951.61"/><path d="M1515.33 812.33V951.03"/><path d="M1524.21 833V951.03"/><path d="M1533.09 773.54V953.07"/><path d="M1541.96 859.44V951.61"/><path d="M1550.84 889.82V948.55"/><path d="M1559.72 861.12V938.03"/><path d="M1568.59 885.37V942.56"/><path d="M1577.47 883.83V942.56"/><path d="M1586.34 860.53V937.3"/><path d="M1595.22 831.32V930.58"/><path d="M1604.1 858.56V931.31"/><path d="M1612.97 885.37V934.38"/><path d="M1621.85 887.63V934.38"/><path d="M1630.73 889.09V937.3"/><path d="M1639.6 886.1V934.38"/><path d="M1648.48 886.1V934.38"/><path d="M1657.35 883.25V938.03"/><path d="M1666.23 869.44V940.36"/><path d="M1675.11 878.21V938.03"/><path d="M1683.98 873.68V938.03"/><path d="M1692.86 873.68V938.03"/><path d="M1701.74 873.68V938.03"/><path d="M1710.61 873.68V938.03"/><path d="M1719.49 873.1V938.03"/><path d="M1728.36 880.25V938.03"/><path d="M1737.24 885.58V936.57"/><path d="M1746.12 884.85V935.11"/><path d="M1754.99 912.61V935.84"/><path d="M1754.99 892.89V905.01"/><path d="M1763.87 912.61V934.38"/><path d="M1763.87 889.75V905.01"/><path d="M1772.75 912.61V935.11"/><path d="M1772.75 886.83V905.01"/><path d="M1781.62 913.05V933.65"/><path d="M1781.62 890.99V905.01"/><path d="M1790.5 888.29V932.77"/><path d="M1799.37 914.07V933.65"/><path d="M1799.37 888.73V908.67"/><path d="M1808.25 910.13V933.5"/><path d="M1808.25 893.33V907.2"/><path d="M1817.13 910.13V931.75"/><path d="M1817.13 893.47V905.74"/><path d="M1826 914.8V931.31"/><path d="M1826 893.25V902.82"/><path d="M1834.88 914.8V931.31"/><path d="M1834.88 898.51V902.82"/><path d="M1843.76 914.8V931.31"/><path d="M1843.76 898.51V902.82"/><path d="M1852.63 910.27V931.31"/><path d="M1852.63 892.82V902.82"/><path d="M1861.51 914.8V931.31"/><path d="M1861.51 892.82V902.82"/><path d="M1870.38 913.34V930.58"/><path d="M1870.38 889.6V901.36"/><path d="M1879.26 916.26V930.58"/><path d="M1879.26 889.6V901.36"/><path d="M1888.14 915.53V930.58"/><path d="M1888.14 889.6V901.36"/><path d="M1897.01 915.53V930.58"/><path d="M1897.01 887.48V901.36"/><path d="M1905.89 915.53V930.58"/><path d="M1905.89 891.87V901.36"/><path d="M1914.77 915.53V930.58"/><path d="M1914.77 888.87V902.82"/><path d="M1923.64 911.88V929.12"/><path d="M1923.64 888.14V901.36"/><path d="M1932.52 907.35V927.66"/><path d="M1932.52 893.25V899.9"/><path d="M1941.39 907.35V927.66"/><path d="M1941.39 888.94V899.9"/><path d="M1950.27 911.88V927.66"/><path d="M1950.27 877.48V899.9"/><path d="M1959.15 915.53V927.66"/><path d="M1959.15 869.74V899.9"/><path d="M1968.02 915.53V927.66"/><path d="M1968.02 877.26V899.9"/><path d="M1976.9 915.97V927.66"/><path d="M1976.9 873.39V899.9"/></g></g><g clip-path="url(#clipm_p6)">
<path d="M1453.2 931.71 L1453.51 931.65 L1453.83 931.59 L1454.16 931.52 L1454.5 931.46 L1454.85 931.4 L1455.22 931.34 L1455.59 931.28 L1455.99 931.22 L1456.39 931.16 L1456.81 931.09 L1457.24 931.03 L1457.69 930.97 L1458.16 930.91 L1458.64 930.85 L1459.13 930.78 L1459.65 930.72 L1460.18 930.66 L1460.73 930.6 L1461.3 930.54 L1461.89 930.47 L1462.5 930.41 L1463.13 930.35 L1463.78 930.29 L1464.45 930.22 L1465.15 930.16 L1465.88 930.1 L1466.62 930.04 L1467.4 929.97 L1468.2 929.91 L1469.03 929.85 L1469.89 929.78 L1470.77 929.72 L1471.69 929.66 L1472.64 929.59 L1473.62 929.53 L1474.64 929.47 L1475.69 929.4 L1476.78 929.34 L1477.91 929.27 L1479.07 929.21 L1480.28 929.15 L1481.53 929.08 L1482.82 929.02 L1484.15 928.95 L1485.54 928.89 L1486.97 928.82 L1488.45 928.75 L1489.98 928.69 L1491.56 928.62 L1493.2 928.56 L1494.9 928.49 L1496.66 928.42 L1498.47 928.35 L1500.35 928.29 L1502.3 928.22 L1504.31 928.15 L1506.39 928.08 L1508.54 928.01 L1510.77 927.94 L1513.08 927.87 L1515.47 927.8 L1517.93 927.72 L1520.49 927.65 L1523.13 927.58 L1525.87 927.5 L1528.7 927.42 L1531.63 927.35 L1534.66 927.27 L1537.79 927.19 L1541.04 927.11 L1544.39 927.02 L1547.87 926.94 L1551.46 926.85 L1555.18 926.76 L1559.03 926.67 L1563.01 926.57 L1567.13 926.48 L1571.39 926.37 L1575.8 926.27 L1580.36 926.15 L1585.08 926.04 L1589.97 925.91 L1595.03 925.78 L1600.26 925.64 L1605.67 925.49 L1611.27 925.32 L1617.06 925.15 L1623.06 924.96 L1629.26 924.76 L1635.68 924.54 L1642.32 924.3 L1649.19 924.04 L1656.31 923.77 L1663.66 923.49 L1671.28 923.22 L1679.15 922.93 L1687.3 922.64 L1695.74 922.35 L1704.46 922.06 L1713.49 921.76 L1722.83 921.46 L1732.5 921.15 L1742.5 920.84 L1752.85 920.53 L1763.56 920.21 L1774.64 919.89 L1786.11 919.57 L1797.97 919.25 L1810.24 918.92 L1822.94 918.59 L1836.08 918.26 L1849.68 917.93 L1863.75 917.6 L1878.31 917.26 L1893.37 916.92 L1908.96 916.58 L1925.08 916.24 L1941.77 915.9 L1959.04 915.56 L1976.9 915.21 L1976.9 922.47 L1959.04 922.66 L1941.77 922.86 L1925.08 923.05 L1908.96 923.25 L1893.37 923.45 L1878.31 923.65 L1863.75 923.85 L1849.68 924.06 L1836.08 924.26 L1822.94 924.47 L1810.24 924.68 L1797.97 924.89 L1786.11 925.11 L1774.64 925.32 L1763.56 925.54 L1752.85 925.77 L1742.5 925.99 L1732.5 926.22 L1722.83 926.45 L1713.49 926.69 L1704.46 926.93 L1695.74 927.17 L1687.3 927.42 L1679.15 927.67 L1671.28 927.92 L1663.66 928.18 L1656.31 928.45 L1649.19 928.71 L1642.32 929 L1635.68 929.3 L1629.26 929.61 L1623.06 929.95 L1617.06 930.3 L1611.27 930.66 L1605.67 931.04 L1600.26 931.42 L1595.03 931.82 L1589.97 932.23 L1585.08 932.64 L1580.36 933.06 L1575.8 933.49 L1571.39 933.92 L1567.13 934.35 L1563.01 934.79 L1559.03 935.23 L1555.18 935.68 L1551.46 936.13 L1547.87 936.58 L1544.39 937.03 L1541.04 937.49 L1537.79 937.95 L1534.66 938.4 L1531.63 938.86 L1528.7 939.33 L1525.87 939.79 L1523.13 940.25 L1520.49 940.71 L1517.93 941.18 L1515.47 941.65 L1513.08 942.11 L1510.77 942.58 L1508.54 943.05 L1506.39 943.52 L1504.31 943.98 L1502.3 944.45 L1500.35 944.92 L1498.47 945.39 L1496.66 945.86 L1494.9 946.34 L1493.2 946.81 L1491.56 947.28 L1489.98 947.75 L1488.45 948.22 L1486.97 948.7 L1485.54 949.17 L1484.15 949.64 L1482.82 950.11 L1481.53 950.59 L1480.28 951.06 L1479.07 951.54 L1477.91 952.01 L1476.78 952.48 L1475.69 952.96 L1474.64 953.43 L1473.62 953.91 L1472.64 954.38 L1471.69 954.86 L1470.77 955.33 L1469.89 955.81 L1469.03 956.28 L1468.2 956.76 L1467.4 957.23 L1466.62 957.71 L1465.88 958.18 L1465.15 958.66 L1464.45 959.13 L1463.78 959.61 L1463.13 960.09 L1462.5 960.56 L1461.89 961.04 L1461.3 961.51 L1460.73 961.99 L1460.18 962.47 L1459.65 962.94 L1459.13 963.42 L1458.64 963.89 L1458.16 964.37 L1457.69 964.85 L1457.24 965.32 L1456.81 965.8 L1456.39 966.28 L1455.99 966.75 L1455.59 967.23 L1455.22 967.71 L1454.85 968.18 L1454.5 968.66 L1454.16 969.14 L1453.83 969.61 L1453.51 970.09 L1453.2 970.57Z" fill="#1f77b4" fill-opacity="0.15"/>
<path d="M1453.2 894.06 L1453.51 894.06 L1453.83 894.06 L1454.16 894.06 L1454.5 894.06 L1454.85 894.06 L1455.22 894.06 L1455.59 894.06 L1455.99 894.06 L1456.39 894.06 L1456.81 894.06 L1457.24 894.06 L1457.69 894.06 L1458.16 894.06 L1458.64 894.06 L1459.13 894.06 L1459.65 894.06 L1460.18 894.06 L1460.73 894.06 L1461.3 894.06 L1461.89 894.06 L1462.5 894.03 L1463.13 894 L1463.78 893.96 L1464.45 893.93 L1465.15 893.89 L1465.88 893.85 L1466.62 893.82 L1467.4 893.78 L1468.2 893.75 L1469.03 893.71 L1469.89 893.67 L1470.77 893.64 L1471.69 893.6 L1472.64 893.57 L1473.62 893.53 L1474.64 893.49 L1475.69 893.46 L1476.78 893.42 L1477.91 893.39 L1479.07 893.35 L1480.28 893.29 L1481.53 893.18 L1482.82 893.07 L1484.15 892.96 L1485.54 892.86 L1486.97 892.75 L1488.45 892.64 L1489.98 892.53 L1491.56 892.42 L1493.2 892.32 L1494.9 892.21 L1496.66 892.1 L1498.47 891.99 L1500.35 891.89 L1502.3 891.78 L1504.31 891.67 L1506.39 891.56 L1508.54 891.45 L1510.77 891.35 L1513.08 891.24 L1515.47 891.13 L1517.93 890.95 L1520.49 890.77 L1523.13 890.59 L1525.87 890.41 L1528.7 890.24 L1531.63 890.06 L1534.66 889.88 L1537.79 889.7 L1541.04 889.52 L1544.39 889.35 L1547.87 889.17 L1551.46 888.99 L1555.18 888.81 L1559.03 888.63 L1563.01 888.45 L1567.13 888.28 L1571.39 887.94 L1575.8 887.52 L1580.36 887.1 L1585.08 886.68 L1589.97 886.26 L1595.03 885.84 L1600.26 885.43 L1605.67 885.01 L1611.27 884.59 L1617.06 884.17 L1623.06 883.75 L1629.26 883.32 L1635.68 882.89 L1642.32 882.46 L1649.19 882.03 L1656.31 881.6 L1663.66 881.16 L1671.28 880.73 L1679.15 880.3 L1687.3 879.87 L1695.74 879.44 L1704.46 879.01 L1713.49 878.5 L1722.83 877.81 L1732.5 877.11 L1742.5 876.42 L1752.85 875.73 L1763.56 875.04 L1774.64 874.34 L1786.11 873.65 L1797.97 872.96 L1810.24 872.12 L1822.94 871.26 L1836.08 870.39 L1849.68 869.53 L1863.75 868.67 L1878.31 867.81 L1893.37 866.95 L1908.96 866.09 L1925.08 865.23 L1941.77 864.37 L1959.04 863.51 L1976.9 862.65 L1976.9 873.61 L1959.04 874.16 L1941.77 874.71 L1925.08 875.27 L1908.96 875.82 L1893.37 876.37 L1878.31 876.93 L1863.75 877.48 L1849.68 878.03 L1836.08 878.58 L1822.94 879.14 L1810.24 879.69 L1797.97 880.25 L1786.11 880.86 L1774.64 881.46 L1763.56 882.07 L1752.85 882.68 L1742.5 883.28 L1732.5 883.89 L1722.83 884.5 L1713.49 885.1 L1704.46 885.8 L1695.74 886.54 L1687.3 887.27 L1679.15 888.01 L1671.28 888.75 L1663.66 889.49 L1656.31 890.22 L1649.19 890.96 L1642.32 891.7 L1635.68 892.44 L1629.26 893.17 L1623.06 893.91 L1617.06 894.73 L1611.27 895.57 L1605.67 896.41 L1600.26 897.24 L1595.03 898.08 L1589.97 898.92 L1585.08 899.76 L1580.36 900.6 L1575.8 901.44 L1571.39 902.28 L1567.13 903.13 L1563.01 904.02 L1559.03 904.91 L1555.18 905.8 L1551.46 906.69 L1547.87 907.59 L1544.39 908.48 L1541.04 909.37 L1537.79 910.26 L1534.66 911.15 L1531.63 912.04 L1528.7 912.93 L1525.87 913.82 L1523.13 914.71 L1520.49 915.6 L1517.93 916.49 L1515.47 917.38 L1513.08 918.31 L1510.77 919.25 L1508.54 920.18 L1506.39 921.12 L1504.31 922.05 L1502.3 922.99 L1500.35 923.92 L1498.47 924.86 L1496.66 925.79 L1494.9 926.73 L1493.2 927.66 L1491.56 928.6 L1489.98 929.53 L1488.45 930.47 L1486.97 931.4 L1485.54 932.34 L1484.15 933.27 L1482.82 934.21 L1481.53 935.14 L1480.28 936.08 L1479.07 937.15 L1477.91 938.3 L1476.78 939.45 L1475.69 940.6 L1474.64 941.75 L1473.62 942.9 L1472.64 944.05 L1471.69 945.2 L1470.77 946.35 L1469.89 947.5 L1469.03 948.65 L1468.2 949.8 L1467.4 950.95 L1466.62 952.1 L1465.88 953.25 L1465.15 954.4 L1464.45 955.55 L1463.78 956.7 L1463.13 957.86 L1462.5 959.01 L1461.89 960.11 L1461.3 961.12 L1460.73 962.12 L1460.18 963.13 L1459.65 964.14 L1459.13 965.14 L1458.64 966.15 L1458.16 967.16 L1457.69 968.16 L1457.24 969.17 L1456.81 970.18 L1456.39 971.18 L1455.99 972.19 L1455.59 973.2 L1455.22 974.2 L1454.85 975.21 L1454.5 976.22 L1454.16 977.22 L1453.83 978.23 L1453.51 979.24 L1453.2 980.24Z" fill="#ff7f0e" fill-opacity="0.15"/>
<path d="M1453.2 940.85 L1453.51 940.49 L1453.83 940.14 L1454.16 939.79 L1454.5 939.44 L1454.85 939.08 L1455.22 938.73 L1455.59 938.38 L1455.99 938.03 L1456.39 937.67 L1456.81 937.32 L1457.24 936.97 L1457.69 936.62 L1458.16 936.26 L1458.64 935.91 L1459.13 935.56 L1459.65 935.21 L1460.18 934.85 L1460.73 934.5 L1461.3 934.15 L1461.89 933.8 L1462.5 933.44 L1463.13 933.09 L1463.78 932.74 L1464.45 932.38 L1465.15 932.03 L1465.88 931.68 L1466.62 931.32 L1467.4 930.97 L1468.2 930.62 L1469.03 930.26 L1469.89 929.91 L1470.77 929.56 L1471.69 929.2 L1472.64 928.85 L1473.62 928.5 L1474.64 928.14 L1475.69 927.79 L1476.78 927.43 L1477.91 927.08 L1479.07 926.72 L1480.28 926.37 L1481.53 926.01 L1482.82 925.66 L1484.15 925.3 L1485.54 924.95 L1486.97 924.59 L1488.45 924.24 L1489.98 923.88 L1491.56 923.53 L1493.2 923.17 L1494.9 922.81 L1496.66 922.46 L1498.47 922.1 L1500.35 921.74 L1502.3 921.38 L1504.31 921.03 L1506.39 920.67 L1508.54 920.31 L1510.77 919.95 L1513.08 919.59 L1515.47 919.23 L1517.93 918.87 L1520.49 918.51 L1523.13 918.15 L1525.87 917.78 L1528.7 917.42 L1531.63 917.06 L1534.66 916.69 L1537.79 916.33 L1541.04 915.96 L1544.39 915.59 L1547.87 915.22 L1551.46 914.85 L1555.18 914.48 L1559.03 914.1 L1563.01 913.73 L1567.13 913.35 L1571.39 912.97 L1575.8 912.59 L1580.36 912.2 L1585.08 911.81 L1589.97 911.42 L1595.03 911.03 L1600.26 910.63 L1605.67 910.22 L1611.27 909.81 L1617.06 909.4 L1623.06 908.98 L1629.26 908.55 L1635.68 908.12 L1642.32 907.68 L1649.19 907.23 L1656.31 906.78 L1663.66 906.32 L1671.28 905.85 L1679.15 905.38 L1687.3 904.9 L1695.74 904.42 L1704.46 903.93 L1713.49 903.43 L1722.83 902.93 L1732.5 902.43 L1742.5 901.92 L1752.85 901.41 L1763.56 900.89 L1774.64 900.37 L1786.11 899.85 L1797.97 899.33 L1810.24 898.81 L1822.94 898.28 L1836.08 897.75 L1849.68 897.22 L1863.75 896.69 L1878.31 896.16 L1893.37 895.62 L1908.96 895.09 L1925.08 894.55 L1941.77 894.02 L1959.04 893.48 L1976.9 892.94 L1976.9 899.21 L1959.04 899.58 L1941.77 899.94 L1925.08 900.31 L1908.96 900.67 L1893.37 901.04 L1878.31 901.4 L1863.75 901.77 L1849.68 902.14 L1836.08 902.51 L1822.94 902.89 L1810.24 903.26 L1797.97 903.64 L1786.11 904.01 L1774.64 904.4 L1763.56 904.78 L1752.85 905.17 L1742.5 905.55 L1732.5 905.95 L1722.83 906.34 L1713.49 906.75 L1704.46 907.15 L1695.74 907.56 L1687.3 907.98 L1679.15 908.4 L1671.28 908.83 L1663.66 909.26 L1656.31 909.71 L1649.19 910.15 L1642.32 910.61 L1635.68 911.07 L1629.26 911.54 L1623.06 912.01 L1617.06 912.49 L1611.27 912.98 L1605.67 913.47 L1600.26 913.97 L1595.03 914.47 L1589.97 914.98 L1585.08 915.48 L1580.36 916 L1575.8 916.51 L1571.39 917.03 L1567.13 917.55 L1563.01 918.08 L1559.03 918.6 L1555.18 919.13 L1551.46 919.66 L1547.87 920.19 L1544.39 920.72 L1541.04 921.25 L1537.79 921.79 L1534.66 922.32 L1531.63 922.86 L1528.7 923.4 L1525.87 923.93 L1523.13 924.47 L1520.49 925.01 L1517.93 925.55 L1515.47 926.09 L1513.08 926.63 L1510.77 927.17 L1508.54 927.72 L1506.39 928.26 L1504.31 928.8 L1502.3 929.34 L1500.35 929.89 L1498.47 930.43 L1496.66 930.98 L1494.9 931.52 L1493.2 932.06 L1491.56 932.61 L1489.98 933.15 L1488.45 933.7 L1486.97 934.25 L1485.54 934.79 L1484.15 935.34 L1482.82 935.88 L1481.53 936.43 L1480.28 936.98 L1479.07 937.52 L1477.91 938.07 L1476.78 938.61 L1475.69 939.16 L1474.64 939.71 L1473.62 940.26 L1472.64 940.8 L1471.69 941.35 L1470.77 941.9 L1469.89 942.45 L1469.03 942.99 L1468.2 943.54 L1467.4 944.09 L1466.62 944.64 L1465.88 945.18 L1465.15 945.73 L1464.45 946.28 L1463.78 946.83 L1463.13 947.38 L1462.5 947.92 L1461.89 948.47 L1461.3 949.02 L1460.73 949.57 L1460.18 950.12 L1459.65 950.67 L1459.13 951.21 L1458.64 951.76 L1458.16 952.31 L1457.69 952.86 L1457.24 953.41 L1456.81 953.96 L1456.39 954.51 L1455.99 955.05 L1455.59 955.6 L1455.22 956.15 L1454.85 956.7 L1454.5 957.25 L1454.16 957.8 L1453.83 958.35 L1453.51 958.9 L1453.2 959.45Z" fill="#2ca02c" fill-opacity="0.15"/>
<path d="M1453.2 951.14 L1453.43 950.94 L1453.67 950.73 L1453.91 950.53 L1454.16 950.33 L1454.41 950.13 L1454.67 949.93 L1454.94 949.73 L1455.22 949.52 L1455.5 949.32 L1455.79 949.12 L1456.09 948.92 L1456.39 948.72 L1456.7 948.51 L1457.02 948.31 L1457.35 948.11 L1457.69 947.91 L1458.04 947.71 L1458.39 947.51 L1458.76 947.3 L1459.13 947.1 L1459.52 946.9 L1459.91 946.7 L1460.31 946.5 L1460.73 946.29 L1461.15 946.09 L1461.59 945.89 L1462.04 945.69 L1462.5 945.49 L1462.97 945.28 L1463.45 945.08 L1463.95 944.88 L1464.45 944.68 L1464.98 944.48 L1465.51 944.28 L1466.06 944.07 L1466.62 943.87 L1467.2 943.67 L1467.8 943.47 L1468.4 943.27 L1469.03 943.06 L1469.67 942.86 L1470.33 942.66 L1471 942.46 L1471.69 942.26 L1472.4 942.05 L1473.13 941.85 L1473.87 941.65 L1474.64 941.45 L1475.43 941.25 L1476.23 941.05 L1477.06 940.84 L1477.91 940.64 L1478.78 940.44 L1479.67 940.24 L1480.59 940.04 L1481.53 939.83 L1482.49 939.63 L1483.48 939.43 L1484.5 939.23 L1485.54 939.03 L1486.61 938.83 L1487.7 938.62 L1488.83 938.42 L1489.98 938.22 L1491.16 938.02 L1492.38 937.82 L1493.62 937.61 L1494.9 937.41 L1496.21 937.21 L1497.56 937.01 L1498.94 936.81 L1500.35 936.6 L1501.8 936.4 L1503.29 936.2 L1504.82 936 L1506.39 935.8 L1508 935.6 L1509.65 935.39 L1511.34 935.19 L1513.08 934.99 L1514.86 934.79 L1516.69 934.59 L1518.57 934.38 L1520.49 934.18 L1522.46 933.98 L1524.49 933.78 L1526.57 933.58 L1528.7 933.37 L1530.89 933.17 L1533.13 932.97 L1535.43 932.77 L1537.79 932.57 L1540.22 932.37 L1542.7 932.16 L1545.25 931.96 L1547.87 931.76 L1550.55 931.56 L1553.3 931.36 L1556.13 931.15 L1559.03 930.95 L1562 930.75 L1565.05 930.55 L1568.18 930.35 L1571.39 930.15 L1574.68 929.94 L1578.06 929.74 L1581.53 929.54 L1585.08 929.34 L1588.73 929.14 L1592.48 928.93 L1596.32 928.73 L1600.26 928.53 L1604.3 928.33 L1608.44 928.13 L1612.7 927.92 L1617.06 927.72 L1621.54 927.52 L1626.13 927.32 L1630.85 927.12 L1635.68 926.92 L1640.64 926.71 L1645.73 926.51 L1650.95 926.31 L1656.31 926.11 L1661.8 925.91 L1667.44 925.7 L1673.22 925.5 L1679.15 925.3 L1685.24 925.1 L1691.48 924.9 L1697.89 924.69 L1704.46 924.49 L1711.21 924.29 L1718.12 924.09 L1725.22 923.89 L1732.5 923.69 L1739.97 923.48 L1747.63 923.28 L1755.49 923.08 L1763.56 922.88 L1771.84 922.68 L1780.32 922.47 L1789.03 922.27 L1797.97 922.07 L1807.13 921.87 L1816.54 921.67 L1826.19 921.47 L1836.08 921.26 L1846.24 921.06 L1856.66 920.86 L1867.34 920.66 L1878.31 920.46 L1889.56 920.25 L1901.1 920.05 L1912.94 919.85 L1925.08 919.65 L1937.54 919.45 L1950.33 919.24 L1963.44 919.04 L1976.9 918.84" fill="none" stroke="#1f77b4" stroke-width="2.8" stroke-linecap="butt" stroke-linejoin="round"/>
<path d="M1453.2 957.62 L1453.43 957.07 L1453.67 956.51 L1453.91 955.95 L1454.16 955.39 L1454.41 954.83 L1454.67 954.27 L1454.94 953.71 L1455.22 953.15 L1455.5 952.6 L1455.79 952.04 L1456.09 951.48 L1456.39 950.92 L1456.7 950.36 L1457.02 949.8 L1457.35 949.24 L1457.69 948.68 L1458.04 948.12 L1458.39 947.57 L1458.76 947.01 L1459.13 946.45 L1459.52 945.89 L1459.91 945.33 L1460.31 944.77 L1460.73 944.21 L1461.15 943.65 L1461.59 943.09 L1462.04 942.54 L1462.5 941.98 L1462.97 941.42 L1463.45 940.86 L1463.95 940.3 L1464.45 939.74 L1464.98 939.18 L1465.51 938.62 L1466.06 938.06 L1466.62 937.51 L1467.2 936.95 L1467.8 936.39 L1468.4 935.83 L1469.03 935.27 L1469.67 934.71 L1470.33 934.15 L1471 933.59 L1471.69 933.04 L1472.4 932.48 L1473.13 931.92 L1473.87 931.36 L1474.64 930.8 L1475.43 930.24 L1476.23 929.68 L1477.06 929.12 L1477.91 928.56 L1478.78 928.01 L1479.67 927.45 L1480.59 926.89 L1481.53 926.33 L1482.49 925.77 L1483.48 925.21 L1484.5 924.65 L1485.54 924.09 L1486.61 923.53 L1487.7 922.98 L1488.83 922.42 L1489.98 921.86 L1491.16 921.3 L1492.38 920.74 L1493.62 920.18 L1494.9 919.62 L1496.21 919.06 L1497.56 918.51 L1498.94 917.95 L1500.35 917.39 L1501.8 916.83 L1503.29 916.27 L1504.82 915.71 L1506.39 915.15 L1508 914.59 L1509.65 914.03 L1511.34 913.48 L1513.08 912.92 L1514.86 912.36 L1516.69 911.8 L1518.57 911.24 L1520.49 910.68 L1522.46 910.12 L1524.49 909.56 L1526.57 909 L1528.7 908.45 L1530.89 907.89 L1533.13 907.33 L1535.43 906.77 L1537.79 906.21 L1540.22 905.65 L1542.7 905.09 L1545.25 904.53 L1547.87 903.97 L1550.55 903.42 L1553.3 902.86 L1556.13 902.3 L1559.03 901.74 L1562 901.18 L1565.05 900.62 L1568.18 900.06 L1571.39 899.5 L1574.68 898.95 L1578.06 898.39 L1581.53 897.83 L1585.08 897.27 L1588.73 896.71 L1592.48 896.15 L1596.32 895.59 L1600.26 895.03 L1604.3 894.47 L1608.44 893.92 L1612.7 893.36 L1617.06 892.8 L1621.54 892.24 L1626.13 891.68 L1630.85 891.12 L1635.68 890.56 L1640.64 890 L1645.73 889.44 L1650.95 888.89 L1656.31 888.33 L1661.8 887.77 L1667.44 887.21 L1673.22 886.65 L1679.15 886.09 L1685.24 885.53 L1691.48 884.97 L1697.89 884.42 L1704.46 883.86 L1711.21 883.3 L1718.12 882.74 L1725.22 882.18 L1732.5 881.62 L1739.97 881.06 L1747.63 880.5 L1755.49 879.94 L1763.56 879.39 L1771.84 878.83 L1780.32 878.27 L1789.03 877.71 L1797.97 877.15 L1807.13 876.59 L1816.54 876.03 L1826.19 875.47 L1836.08 874.91 L1846.24 874.36 L1856.66 873.8 L1867.34 873.24 L1878.31 872.68 L1889.56 872.12 L1901.1 871.56 L1912.94 871 L1925.08 870.44 L1937.54 869.89 L1950.33 869.33 L1963.44 868.77 L1976.9 868.21" fill="none" stroke="#ff7f0e" stroke-width="2.8" stroke-linecap="butt" stroke-linejoin="round"/>
<path d="M1453.2 950.15 L1453.43 949.81 L1453.67 949.47 L1453.91 949.13 L1454.16 948.79 L1454.41 948.46 L1454.67 948.12 L1454.94 947.78 L1455.22 947.44 L1455.5 947.1 L1455.79 946.77 L1456.09 946.43 L1456.39 946.09 L1456.7 945.75 L1457.02 945.41 L1457.35 945.08 L1457.69 944.74 L1458.04 944.4 L1458.39 944.06 L1458.76 943.72 L1459.13 943.39 L1459.52 943.05 L1459.91 942.71 L1460.31 942.37 L1460.73 942.04 L1461.15 941.7 L1461.59 941.36 L1462.04 941.02 L1462.5 940.68 L1462.97 940.35 L1463.45 940.01 L1463.95 939.67 L1464.45 939.33 L1464.98 938.99 L1465.51 938.66 L1466.06 938.32 L1466.62 937.98 L1467.2 937.64 L1467.8 937.3 L1468.4 936.97 L1469.03 936.63 L1469.67 936.29 L1470.33 935.95 L1471 935.61 L1471.69 935.28 L1472.4 934.94 L1473.13 934.6 L1473.87 934.26 L1474.64 933.92 L1475.43 933.59 L1476.23 933.25 L1477.06 932.91 L1477.91 932.57 L1478.78 932.24 L1479.67 931.9 L1480.59 931.56 L1481.53 931.22 L1482.49 930.88 L1483.48 930.55 L1484.5 930.21 L1485.54 929.87 L1486.61 929.53 L1487.7 929.19 L1488.83 928.86 L1489.98 928.52 L1491.16 928.18 L1492.38 927.84 L1493.62 927.5 L1494.9 927.17 L1496.21 926.83 L1497.56 926.49 L1498.94 926.15 L1500.35 925.81 L1501.8 925.48 L1503.29 925.14 L1504.82 924.8 L1506.39 924.46 L1508 924.13 L1509.65 923.79 L1511.34 923.45 L1513.08 923.11 L1514.86 922.77 L1516.69 922.44 L1518.57 922.1 L1520.49 921.76 L1522.46 921.42 L1524.49 921.08 L1526.57 920.75 L1528.7 920.41 L1530.89 920.07 L1533.13 919.73 L1535.43 919.39 L1537.79 919.06 L1540.22 918.72 L1542.7 918.38 L1545.25 918.04 L1547.87 917.7 L1550.55 917.37 L1553.3 917.03 L1556.13 916.69 L1559.03 916.35 L1562 916.01 L1565.05 915.68 L1568.18 915.34 L1571.39 915 L1574.68 914.66 L1578.06 914.33 L1581.53 913.99 L1585.08 913.65 L1588.73 913.31 L1592.48 912.97 L1596.32 912.64 L1600.26 912.3 L1604.3 911.96 L1608.44 911.62 L1612.7 911.28 L1617.06 910.95 L1621.54 910.61 L1626.13 910.27 L1630.85 909.93 L1635.68 909.59 L1640.64 909.26 L1645.73 908.92 L1650.95 908.58 L1656.31 908.24 L1661.8 907.9 L1667.44 907.57 L1673.22 907.23 L1679.15 906.89 L1685.24 906.55 L1691.48 906.21 L1697.89 905.88 L1704.46 905.54 L1711.21 905.2 L1718.12 904.86 L1725.22 904.53 L1732.5 904.19 L1739.97 903.85 L1747.63 903.51 L1755.49 903.17 L1763.56 902.84 L1771.84 902.5 L1780.32 902.16 L1789.03 901.82 L1797.97 901.48 L1807.13 901.15 L1816.54 900.81 L1826.19 900.47 L1836.08 900.13 L1846.24 899.79 L1856.66 899.46 L1867.34 899.12 L1878.31 898.78 L1889.56 898.44 L1901.1 898.1 L1912.94 897.77 L1925.08 897.43 L1937.54 897.09 L1950.33 896.75 L1963.44 896.41 L1976.9 896.08" fill="none" stroke="#2ca02c" stroke-width="2.8" stroke-linecap="butt" stroke-linejoin="round"/>
</g>
<rect x="1453.2" y="573" width="523.7" height="449.8" fill="none" stroke="#484848" stroke-width="1.3"/>
<g stroke="#484848" stroke-width="1.2"><path d="M1533.09 1022.8v5"/><path d="M1621.85 1022.8v5"/><path d="M1710.61 1022.8v5"/><path d="M1799.37 1022.8v5"/><path d="M1888.14 1022.8v5"/><path d="M1976.9 1022.8v5"/><path d="M1453.2 1008h-4.8"/><path d="M1453.2 934.96h-4.8"/><path d="M1453.2 861.92h-4.8"/><path d="M1453.2 788.88h-4.8"/><path d="M1453.2 715.84h-4.8"/><path d="M1453.2 642.8h-4.8"/></g>
<g font-size="21.8" fill="#000"><text x="1533.09" y="1047.5" text-anchor="middle">500</text><text x="1621.85" y="1047.5" text-anchor="middle">1000</text><text x="1710.61" y="1047.5" text-anchor="middle">1500</text><text x="1799.37" y="1047.5" text-anchor="middle">2000</text><text x="1888.14" y="1047.5" text-anchor="middle">2500</text><text x="1976.9" y="1047.5" text-anchor="middle">3000</text><text x="1443.1" y="1015.1" text-anchor="end">0</text><text x="1443.1" y="942.06" text-anchor="end">50</text><text x="1443.1" y="869.02" text-anchor="end">100</text><text x="1443.1" y="795.98" text-anchor="end">150</text><text x="1443.1" y="722.94" text-anchor="end">200</text><text x="1443.1" y="649.9" text-anchor="end">250</text></g>
<text x="1711.95" y="1084.1" font-size="24.7" text-anchor="middle" fill="#000">Number of fossil individuals</text>
<text transform="translate(1395.3 788.4) rotate(-90)" font-size="24.7" text-anchor="middle" fill="#000">Number of families</text>
<rect x="1760.8" y="585.8" width="203.6" height="113.5" rx="4" ry="4" fill="#fff" fill-opacity="0.8" stroke="#d0d0d0" stroke-opacity="0.8" stroke-width="1.3"/>
<circle cx="1795.5" cy="607.06" r="7.8" fill="#1f77b4" fill-opacity="0.8"/>
<text x="1839.33" y="613.8" font-size="24.4" fill="#262626">Donggou1</text>
<circle cx="1795.5" cy="642.4" r="7.8" fill="#ff7f0e" fill-opacity="0.8"/>
<text x="1839.33" y="649.1" font-size="24.4" fill="#262626">Donggou2</text>
<circle cx="1795.5" cy="677.9" r="7.8" fill="#2ca02c" fill-opacity="0.8"/>
<text x="1839.33" y="684.4" font-size="24.4" fill="#262626">Donggou3</text>
</g>
<text x="3.5" y="477.3" font-size="44" font-weight="bold" fill="#000">a</text>
<text x="0.2" y="1046.6" font-size="49" font-weight="bold" fill="#000">b</text>
</svg>
</body>
</html>
